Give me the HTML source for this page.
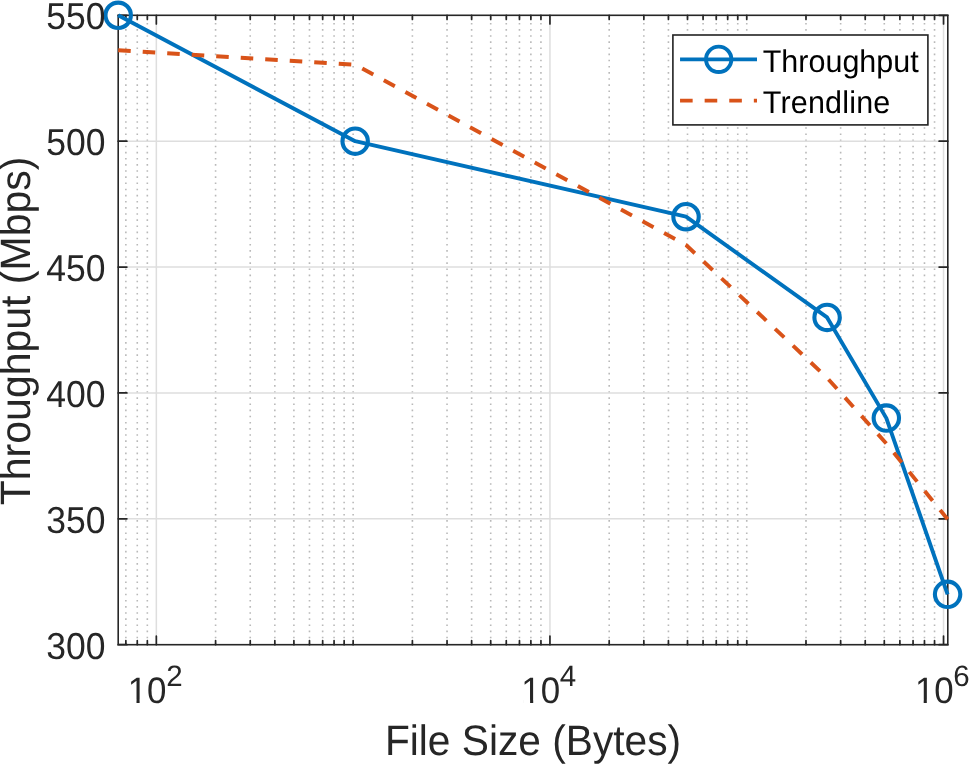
<!DOCTYPE html>
<html><head><meta charset="utf-8"><style>html,body{margin:0;padding:0;background:#fff;overflow:hidden}svg{display:block}text{text-rendering:geometricPrecision}</style></head>
<body>
<svg width="969" height="764" viewBox="0 0 969 764">
<rect width="969" height="764" fill="#fff"/>
<path d="M125.06 642.86h1.6v1.6h-1.6zM125.06 636.72h1.6v1.6h-1.6zM125.06 630.58h1.6v1.6h-1.6zM125.06 624.45h1.6v1.6h-1.6zM125.06 618.31h1.6v1.6h-1.6zM125.06 612.17h1.6v1.6h-1.6zM125.06 606.03h1.6v1.6h-1.6zM125.06 599.89h1.6v1.6h-1.6zM125.06 593.76h1.6v1.6h-1.6zM125.06 587.62h1.6v1.6h-1.6zM125.06 581.48h1.6v1.6h-1.6zM125.06 575.34h1.6v1.6h-1.6zM125.06 569.20h1.6v1.6h-1.6zM125.06 563.07h1.6v1.6h-1.6zM125.06 556.93h1.6v1.6h-1.6zM125.06 550.79h1.6v1.6h-1.6zM125.06 544.65h1.6v1.6h-1.6zM125.06 538.51h1.6v1.6h-1.6zM125.06 532.38h1.6v1.6h-1.6zM125.06 526.24h1.6v1.6h-1.6zM125.06 520.10h1.6v1.6h-1.6zM125.06 513.96h1.6v1.6h-1.6zM125.06 507.82h1.6v1.6h-1.6zM125.06 501.69h1.6v1.6h-1.6zM125.06 495.55h1.6v1.6h-1.6zM125.06 489.41h1.6v1.6h-1.6zM125.06 483.27h1.6v1.6h-1.6zM125.06 477.13h1.6v1.6h-1.6zM125.06 471.00h1.6v1.6h-1.6zM125.06 464.86h1.6v1.6h-1.6zM125.06 458.72h1.6v1.6h-1.6zM125.06 452.58h1.6v1.6h-1.6zM125.06 446.44h1.6v1.6h-1.6zM125.06 440.31h1.6v1.6h-1.6zM125.06 434.17h1.6v1.6h-1.6zM125.06 428.03h1.6v1.6h-1.6zM125.06 421.89h1.6v1.6h-1.6zM125.06 415.75h1.6v1.6h-1.6zM125.06 409.62h1.6v1.6h-1.6zM125.06 403.48h1.6v1.6h-1.6zM125.06 397.34h1.6v1.6h-1.6zM125.06 391.20h1.6v1.6h-1.6zM125.06 385.06h1.6v1.6h-1.6zM125.06 378.93h1.6v1.6h-1.6zM125.06 372.79h1.6v1.6h-1.6zM125.06 366.65h1.6v1.6h-1.6zM125.06 360.51h1.6v1.6h-1.6zM125.06 354.37h1.6v1.6h-1.6zM125.06 348.24h1.6v1.6h-1.6zM125.06 342.10h1.6v1.6h-1.6zM125.06 335.96h1.6v1.6h-1.6zM125.06 329.82h1.6v1.6h-1.6zM125.06 323.68h1.6v1.6h-1.6zM125.06 317.55h1.6v1.6h-1.6zM125.06 311.41h1.6v1.6h-1.6zM125.06 305.27h1.6v1.6h-1.6zM125.06 299.13h1.6v1.6h-1.6zM125.06 292.99h1.6v1.6h-1.6zM125.06 286.86h1.6v1.6h-1.6zM125.06 280.72h1.6v1.6h-1.6zM125.06 274.58h1.6v1.6h-1.6zM125.06 268.44h1.6v1.6h-1.6zM125.06 262.30h1.6v1.6h-1.6zM125.06 256.17h1.6v1.6h-1.6zM125.06 250.03h1.6v1.6h-1.6zM125.06 243.89h1.6v1.6h-1.6zM125.06 237.75h1.6v1.6h-1.6zM125.06 231.61h1.6v1.6h-1.6zM125.06 225.48h1.6v1.6h-1.6zM125.06 219.34h1.6v1.6h-1.6zM125.06 213.20h1.6v1.6h-1.6zM125.06 207.06h1.6v1.6h-1.6zM125.06 200.92h1.6v1.6h-1.6zM125.06 194.79h1.6v1.6h-1.6zM125.06 188.65h1.6v1.6h-1.6zM125.06 182.51h1.6v1.6h-1.6zM125.06 176.37h1.6v1.6h-1.6zM125.06 170.23h1.6v1.6h-1.6zM125.06 164.10h1.6v1.6h-1.6zM125.06 157.96h1.6v1.6h-1.6zM125.06 151.82h1.6v1.6h-1.6zM125.06 145.68h1.6v1.6h-1.6zM125.06 139.54h1.6v1.6h-1.6zM125.06 133.41h1.6v1.6h-1.6zM125.06 127.27h1.6v1.6h-1.6zM125.06 121.13h1.6v1.6h-1.6zM125.06 114.99h1.6v1.6h-1.6zM125.06 108.85h1.6v1.6h-1.6zM125.06 102.72h1.6v1.6h-1.6zM125.06 96.58h1.6v1.6h-1.6zM125.06 90.44h1.6v1.6h-1.6zM125.06 84.30h1.6v1.6h-1.6zM125.06 78.16h1.6v1.6h-1.6zM125.06 72.03h1.6v1.6h-1.6zM125.06 65.89h1.6v1.6h-1.6zM125.06 59.75h1.6v1.6h-1.6zM125.06 53.61h1.6v1.6h-1.6zM125.06 47.47h1.6v1.6h-1.6zM125.06 41.34h1.6v1.6h-1.6zM125.06 35.20h1.6v1.6h-1.6zM125.06 29.06h1.6v1.6h-1.6zM125.06 22.92h1.6v1.6h-1.6zM125.06 16.78h1.6v1.6h-1.6zM136.47 642.86h1.6v1.6h-1.6zM136.47 636.72h1.6v1.6h-1.6zM136.47 630.58h1.6v1.6h-1.6zM136.47 624.45h1.6v1.6h-1.6zM136.47 618.31h1.6v1.6h-1.6zM136.47 612.17h1.6v1.6h-1.6zM136.47 606.03h1.6v1.6h-1.6zM136.47 599.89h1.6v1.6h-1.6zM136.47 593.76h1.6v1.6h-1.6zM136.47 587.62h1.6v1.6h-1.6zM136.47 581.48h1.6v1.6h-1.6zM136.47 575.34h1.6v1.6h-1.6zM136.47 569.20h1.6v1.6h-1.6zM136.47 563.07h1.6v1.6h-1.6zM136.47 556.93h1.6v1.6h-1.6zM136.47 550.79h1.6v1.6h-1.6zM136.47 544.65h1.6v1.6h-1.6zM136.47 538.51h1.6v1.6h-1.6zM136.47 532.38h1.6v1.6h-1.6zM136.47 526.24h1.6v1.6h-1.6zM136.47 520.10h1.6v1.6h-1.6zM136.47 513.96h1.6v1.6h-1.6zM136.47 507.82h1.6v1.6h-1.6zM136.47 501.69h1.6v1.6h-1.6zM136.47 495.55h1.6v1.6h-1.6zM136.47 489.41h1.6v1.6h-1.6zM136.47 483.27h1.6v1.6h-1.6zM136.47 477.13h1.6v1.6h-1.6zM136.47 471.00h1.6v1.6h-1.6zM136.47 464.86h1.6v1.6h-1.6zM136.47 458.72h1.6v1.6h-1.6zM136.47 452.58h1.6v1.6h-1.6zM136.47 446.44h1.6v1.6h-1.6zM136.47 440.31h1.6v1.6h-1.6zM136.47 434.17h1.6v1.6h-1.6zM136.47 428.03h1.6v1.6h-1.6zM136.47 421.89h1.6v1.6h-1.6zM136.47 415.75h1.6v1.6h-1.6zM136.47 409.62h1.6v1.6h-1.6zM136.47 403.48h1.6v1.6h-1.6zM136.47 397.34h1.6v1.6h-1.6zM136.47 391.20h1.6v1.6h-1.6zM136.47 385.06h1.6v1.6h-1.6zM136.47 378.93h1.6v1.6h-1.6zM136.47 372.79h1.6v1.6h-1.6zM136.47 366.65h1.6v1.6h-1.6zM136.47 360.51h1.6v1.6h-1.6zM136.47 354.37h1.6v1.6h-1.6zM136.47 348.24h1.6v1.6h-1.6zM136.47 342.10h1.6v1.6h-1.6zM136.47 335.96h1.6v1.6h-1.6zM136.47 329.82h1.6v1.6h-1.6zM136.47 323.68h1.6v1.6h-1.6zM136.47 317.55h1.6v1.6h-1.6zM136.47 311.41h1.6v1.6h-1.6zM136.47 305.27h1.6v1.6h-1.6zM136.47 299.13h1.6v1.6h-1.6zM136.47 292.99h1.6v1.6h-1.6zM136.47 286.86h1.6v1.6h-1.6zM136.47 280.72h1.6v1.6h-1.6zM136.47 274.58h1.6v1.6h-1.6zM136.47 268.44h1.6v1.6h-1.6zM136.47 262.30h1.6v1.6h-1.6zM136.47 256.17h1.6v1.6h-1.6zM136.47 250.03h1.6v1.6h-1.6zM136.47 243.89h1.6v1.6h-1.6zM136.47 237.75h1.6v1.6h-1.6zM136.47 231.61h1.6v1.6h-1.6zM136.47 225.48h1.6v1.6h-1.6zM136.47 219.34h1.6v1.6h-1.6zM136.47 213.20h1.6v1.6h-1.6zM136.47 207.06h1.6v1.6h-1.6zM136.47 200.92h1.6v1.6h-1.6zM136.47 194.79h1.6v1.6h-1.6zM136.47 188.65h1.6v1.6h-1.6zM136.47 182.51h1.6v1.6h-1.6zM136.47 176.37h1.6v1.6h-1.6zM136.47 170.23h1.6v1.6h-1.6zM136.47 164.10h1.6v1.6h-1.6zM136.47 157.96h1.6v1.6h-1.6zM136.47 151.82h1.6v1.6h-1.6zM136.47 145.68h1.6v1.6h-1.6zM136.47 139.54h1.6v1.6h-1.6zM136.47 133.41h1.6v1.6h-1.6zM136.47 127.27h1.6v1.6h-1.6zM136.47 121.13h1.6v1.6h-1.6zM136.47 114.99h1.6v1.6h-1.6zM136.47 108.85h1.6v1.6h-1.6zM136.47 102.72h1.6v1.6h-1.6zM136.47 96.58h1.6v1.6h-1.6zM136.47 90.44h1.6v1.6h-1.6zM136.47 84.30h1.6v1.6h-1.6zM136.47 78.16h1.6v1.6h-1.6zM136.47 72.03h1.6v1.6h-1.6zM136.47 65.89h1.6v1.6h-1.6zM136.47 59.75h1.6v1.6h-1.6zM136.47 53.61h1.6v1.6h-1.6zM136.47 47.47h1.6v1.6h-1.6zM136.47 41.34h1.6v1.6h-1.6zM136.47 35.20h1.6v1.6h-1.6zM136.47 29.06h1.6v1.6h-1.6zM136.47 22.92h1.6v1.6h-1.6zM136.47 16.78h1.6v1.6h-1.6zM146.54 642.86h1.6v1.6h-1.6zM146.54 636.72h1.6v1.6h-1.6zM146.54 630.58h1.6v1.6h-1.6zM146.54 624.45h1.6v1.6h-1.6zM146.54 618.31h1.6v1.6h-1.6zM146.54 612.17h1.6v1.6h-1.6zM146.54 606.03h1.6v1.6h-1.6zM146.54 599.89h1.6v1.6h-1.6zM146.54 593.76h1.6v1.6h-1.6zM146.54 587.62h1.6v1.6h-1.6zM146.54 581.48h1.6v1.6h-1.6zM146.54 575.34h1.6v1.6h-1.6zM146.54 569.20h1.6v1.6h-1.6zM146.54 563.07h1.6v1.6h-1.6zM146.54 556.93h1.6v1.6h-1.6zM146.54 550.79h1.6v1.6h-1.6zM146.54 544.65h1.6v1.6h-1.6zM146.54 538.51h1.6v1.6h-1.6zM146.54 532.38h1.6v1.6h-1.6zM146.54 526.24h1.6v1.6h-1.6zM146.54 520.10h1.6v1.6h-1.6zM146.54 513.96h1.6v1.6h-1.6zM146.54 507.82h1.6v1.6h-1.6zM146.54 501.69h1.6v1.6h-1.6zM146.54 495.55h1.6v1.6h-1.6zM146.54 489.41h1.6v1.6h-1.6zM146.54 483.27h1.6v1.6h-1.6zM146.54 477.13h1.6v1.6h-1.6zM146.54 471.00h1.6v1.6h-1.6zM146.54 464.86h1.6v1.6h-1.6zM146.54 458.72h1.6v1.6h-1.6zM146.54 452.58h1.6v1.6h-1.6zM146.54 446.44h1.6v1.6h-1.6zM146.54 440.31h1.6v1.6h-1.6zM146.54 434.17h1.6v1.6h-1.6zM146.54 428.03h1.6v1.6h-1.6zM146.54 421.89h1.6v1.6h-1.6zM146.54 415.75h1.6v1.6h-1.6zM146.54 409.62h1.6v1.6h-1.6zM146.54 403.48h1.6v1.6h-1.6zM146.54 397.34h1.6v1.6h-1.6zM146.54 391.20h1.6v1.6h-1.6zM146.54 385.06h1.6v1.6h-1.6zM146.54 378.93h1.6v1.6h-1.6zM146.54 372.79h1.6v1.6h-1.6zM146.54 366.65h1.6v1.6h-1.6zM146.54 360.51h1.6v1.6h-1.6zM146.54 354.37h1.6v1.6h-1.6zM146.54 348.24h1.6v1.6h-1.6zM146.54 342.10h1.6v1.6h-1.6zM146.54 335.96h1.6v1.6h-1.6zM146.54 329.82h1.6v1.6h-1.6zM146.54 323.68h1.6v1.6h-1.6zM146.54 317.55h1.6v1.6h-1.6zM146.54 311.41h1.6v1.6h-1.6zM146.54 305.27h1.6v1.6h-1.6zM146.54 299.13h1.6v1.6h-1.6zM146.54 292.99h1.6v1.6h-1.6zM146.54 286.86h1.6v1.6h-1.6zM146.54 280.72h1.6v1.6h-1.6zM146.54 274.58h1.6v1.6h-1.6zM146.54 268.44h1.6v1.6h-1.6zM146.54 262.30h1.6v1.6h-1.6zM146.54 256.17h1.6v1.6h-1.6zM146.54 250.03h1.6v1.6h-1.6zM146.54 243.89h1.6v1.6h-1.6zM146.54 237.75h1.6v1.6h-1.6zM146.54 231.61h1.6v1.6h-1.6zM146.54 225.48h1.6v1.6h-1.6zM146.54 219.34h1.6v1.6h-1.6zM146.54 213.20h1.6v1.6h-1.6zM146.54 207.06h1.6v1.6h-1.6zM146.54 200.92h1.6v1.6h-1.6zM146.54 194.79h1.6v1.6h-1.6zM146.54 188.65h1.6v1.6h-1.6zM146.54 182.51h1.6v1.6h-1.6zM146.54 176.37h1.6v1.6h-1.6zM146.54 170.23h1.6v1.6h-1.6zM146.54 164.10h1.6v1.6h-1.6zM146.54 157.96h1.6v1.6h-1.6zM146.54 151.82h1.6v1.6h-1.6zM146.54 145.68h1.6v1.6h-1.6zM146.54 139.54h1.6v1.6h-1.6zM146.54 133.41h1.6v1.6h-1.6zM146.54 127.27h1.6v1.6h-1.6zM146.54 121.13h1.6v1.6h-1.6zM146.54 114.99h1.6v1.6h-1.6zM146.54 108.85h1.6v1.6h-1.6zM146.54 102.72h1.6v1.6h-1.6zM146.54 96.58h1.6v1.6h-1.6zM146.54 90.44h1.6v1.6h-1.6zM146.54 84.30h1.6v1.6h-1.6zM146.54 78.16h1.6v1.6h-1.6zM146.54 72.03h1.6v1.6h-1.6zM146.54 65.89h1.6v1.6h-1.6zM146.54 59.75h1.6v1.6h-1.6zM146.54 53.61h1.6v1.6h-1.6zM146.54 47.47h1.6v1.6h-1.6zM146.54 41.34h1.6v1.6h-1.6zM146.54 35.20h1.6v1.6h-1.6zM146.54 29.06h1.6v1.6h-1.6zM146.54 22.92h1.6v1.6h-1.6zM146.54 16.78h1.6v1.6h-1.6zM214.79 642.86h1.6v1.6h-1.6zM214.79 636.72h1.6v1.6h-1.6zM214.79 630.58h1.6v1.6h-1.6zM214.79 624.45h1.6v1.6h-1.6zM214.79 618.31h1.6v1.6h-1.6zM214.79 612.17h1.6v1.6h-1.6zM214.79 606.03h1.6v1.6h-1.6zM214.79 599.89h1.6v1.6h-1.6zM214.79 593.76h1.6v1.6h-1.6zM214.79 587.62h1.6v1.6h-1.6zM214.79 581.48h1.6v1.6h-1.6zM214.79 575.34h1.6v1.6h-1.6zM214.79 569.20h1.6v1.6h-1.6zM214.79 563.07h1.6v1.6h-1.6zM214.79 556.93h1.6v1.6h-1.6zM214.79 550.79h1.6v1.6h-1.6zM214.79 544.65h1.6v1.6h-1.6zM214.79 538.51h1.6v1.6h-1.6zM214.79 532.38h1.6v1.6h-1.6zM214.79 526.24h1.6v1.6h-1.6zM214.79 520.10h1.6v1.6h-1.6zM214.79 513.96h1.6v1.6h-1.6zM214.79 507.82h1.6v1.6h-1.6zM214.79 501.69h1.6v1.6h-1.6zM214.79 495.55h1.6v1.6h-1.6zM214.79 489.41h1.6v1.6h-1.6zM214.79 483.27h1.6v1.6h-1.6zM214.79 477.13h1.6v1.6h-1.6zM214.79 471.00h1.6v1.6h-1.6zM214.79 464.86h1.6v1.6h-1.6zM214.79 458.72h1.6v1.6h-1.6zM214.79 452.58h1.6v1.6h-1.6zM214.79 446.44h1.6v1.6h-1.6zM214.79 440.31h1.6v1.6h-1.6zM214.79 434.17h1.6v1.6h-1.6zM214.79 428.03h1.6v1.6h-1.6zM214.79 421.89h1.6v1.6h-1.6zM214.79 415.75h1.6v1.6h-1.6zM214.79 409.62h1.6v1.6h-1.6zM214.79 403.48h1.6v1.6h-1.6zM214.79 397.34h1.6v1.6h-1.6zM214.79 391.20h1.6v1.6h-1.6zM214.79 385.06h1.6v1.6h-1.6zM214.79 378.93h1.6v1.6h-1.6zM214.79 372.79h1.6v1.6h-1.6zM214.79 366.65h1.6v1.6h-1.6zM214.79 360.51h1.6v1.6h-1.6zM214.79 354.37h1.6v1.6h-1.6zM214.79 348.24h1.6v1.6h-1.6zM214.79 342.10h1.6v1.6h-1.6zM214.79 335.96h1.6v1.6h-1.6zM214.79 329.82h1.6v1.6h-1.6zM214.79 323.68h1.6v1.6h-1.6zM214.79 317.55h1.6v1.6h-1.6zM214.79 311.41h1.6v1.6h-1.6zM214.79 305.27h1.6v1.6h-1.6zM214.79 299.13h1.6v1.6h-1.6zM214.79 292.99h1.6v1.6h-1.6zM214.79 286.86h1.6v1.6h-1.6zM214.79 280.72h1.6v1.6h-1.6zM214.79 274.58h1.6v1.6h-1.6zM214.79 268.44h1.6v1.6h-1.6zM214.79 262.30h1.6v1.6h-1.6zM214.79 256.17h1.6v1.6h-1.6zM214.79 250.03h1.6v1.6h-1.6zM214.79 243.89h1.6v1.6h-1.6zM214.79 237.75h1.6v1.6h-1.6zM214.79 231.61h1.6v1.6h-1.6zM214.79 225.48h1.6v1.6h-1.6zM214.79 219.34h1.6v1.6h-1.6zM214.79 213.20h1.6v1.6h-1.6zM214.79 207.06h1.6v1.6h-1.6zM214.79 200.92h1.6v1.6h-1.6zM214.79 194.79h1.6v1.6h-1.6zM214.79 188.65h1.6v1.6h-1.6zM214.79 182.51h1.6v1.6h-1.6zM214.79 176.37h1.6v1.6h-1.6zM214.79 170.23h1.6v1.6h-1.6zM214.79 164.10h1.6v1.6h-1.6zM214.79 157.96h1.6v1.6h-1.6zM214.79 151.82h1.6v1.6h-1.6zM214.79 145.68h1.6v1.6h-1.6zM214.79 139.54h1.6v1.6h-1.6zM214.79 133.41h1.6v1.6h-1.6zM214.79 127.27h1.6v1.6h-1.6zM214.79 121.13h1.6v1.6h-1.6zM214.79 114.99h1.6v1.6h-1.6zM214.79 108.85h1.6v1.6h-1.6zM214.79 102.72h1.6v1.6h-1.6zM214.79 96.58h1.6v1.6h-1.6zM214.79 90.44h1.6v1.6h-1.6zM214.79 84.30h1.6v1.6h-1.6zM214.79 78.16h1.6v1.6h-1.6zM214.79 72.03h1.6v1.6h-1.6zM214.79 65.89h1.6v1.6h-1.6zM214.79 59.75h1.6v1.6h-1.6zM214.79 53.61h1.6v1.6h-1.6zM214.79 47.47h1.6v1.6h-1.6zM214.79 41.34h1.6v1.6h-1.6zM214.79 35.20h1.6v1.6h-1.6zM214.79 29.06h1.6v1.6h-1.6zM214.79 22.92h1.6v1.6h-1.6zM214.79 16.78h1.6v1.6h-1.6zM249.44 642.86h1.6v1.6h-1.6zM249.44 636.72h1.6v1.6h-1.6zM249.44 630.58h1.6v1.6h-1.6zM249.44 624.45h1.6v1.6h-1.6zM249.44 618.31h1.6v1.6h-1.6zM249.44 612.17h1.6v1.6h-1.6zM249.44 606.03h1.6v1.6h-1.6zM249.44 599.89h1.6v1.6h-1.6zM249.44 593.76h1.6v1.6h-1.6zM249.44 587.62h1.6v1.6h-1.6zM249.44 581.48h1.6v1.6h-1.6zM249.44 575.34h1.6v1.6h-1.6zM249.44 569.20h1.6v1.6h-1.6zM249.44 563.07h1.6v1.6h-1.6zM249.44 556.93h1.6v1.6h-1.6zM249.44 550.79h1.6v1.6h-1.6zM249.44 544.65h1.6v1.6h-1.6zM249.44 538.51h1.6v1.6h-1.6zM249.44 532.38h1.6v1.6h-1.6zM249.44 526.24h1.6v1.6h-1.6zM249.44 520.10h1.6v1.6h-1.6zM249.44 513.96h1.6v1.6h-1.6zM249.44 507.82h1.6v1.6h-1.6zM249.44 501.69h1.6v1.6h-1.6zM249.44 495.55h1.6v1.6h-1.6zM249.44 489.41h1.6v1.6h-1.6zM249.44 483.27h1.6v1.6h-1.6zM249.44 477.13h1.6v1.6h-1.6zM249.44 471.00h1.6v1.6h-1.6zM249.44 464.86h1.6v1.6h-1.6zM249.44 458.72h1.6v1.6h-1.6zM249.44 452.58h1.6v1.6h-1.6zM249.44 446.44h1.6v1.6h-1.6zM249.44 440.31h1.6v1.6h-1.6zM249.44 434.17h1.6v1.6h-1.6zM249.44 428.03h1.6v1.6h-1.6zM249.44 421.89h1.6v1.6h-1.6zM249.44 415.75h1.6v1.6h-1.6zM249.44 409.62h1.6v1.6h-1.6zM249.44 403.48h1.6v1.6h-1.6zM249.44 397.34h1.6v1.6h-1.6zM249.44 391.20h1.6v1.6h-1.6zM249.44 385.06h1.6v1.6h-1.6zM249.44 378.93h1.6v1.6h-1.6zM249.44 372.79h1.6v1.6h-1.6zM249.44 366.65h1.6v1.6h-1.6zM249.44 360.51h1.6v1.6h-1.6zM249.44 354.37h1.6v1.6h-1.6zM249.44 348.24h1.6v1.6h-1.6zM249.44 342.10h1.6v1.6h-1.6zM249.44 335.96h1.6v1.6h-1.6zM249.44 329.82h1.6v1.6h-1.6zM249.44 323.68h1.6v1.6h-1.6zM249.44 317.55h1.6v1.6h-1.6zM249.44 311.41h1.6v1.6h-1.6zM249.44 305.27h1.6v1.6h-1.6zM249.44 299.13h1.6v1.6h-1.6zM249.44 292.99h1.6v1.6h-1.6zM249.44 286.86h1.6v1.6h-1.6zM249.44 280.72h1.6v1.6h-1.6zM249.44 274.58h1.6v1.6h-1.6zM249.44 268.44h1.6v1.6h-1.6zM249.44 262.30h1.6v1.6h-1.6zM249.44 256.17h1.6v1.6h-1.6zM249.44 250.03h1.6v1.6h-1.6zM249.44 243.89h1.6v1.6h-1.6zM249.44 237.75h1.6v1.6h-1.6zM249.44 231.61h1.6v1.6h-1.6zM249.44 225.48h1.6v1.6h-1.6zM249.44 219.34h1.6v1.6h-1.6zM249.44 213.20h1.6v1.6h-1.6zM249.44 207.06h1.6v1.6h-1.6zM249.44 200.92h1.6v1.6h-1.6zM249.44 194.79h1.6v1.6h-1.6zM249.44 188.65h1.6v1.6h-1.6zM249.44 182.51h1.6v1.6h-1.6zM249.44 176.37h1.6v1.6h-1.6zM249.44 170.23h1.6v1.6h-1.6zM249.44 164.10h1.6v1.6h-1.6zM249.44 157.96h1.6v1.6h-1.6zM249.44 151.82h1.6v1.6h-1.6zM249.44 145.68h1.6v1.6h-1.6zM249.44 139.54h1.6v1.6h-1.6zM249.44 133.41h1.6v1.6h-1.6zM249.44 127.27h1.6v1.6h-1.6zM249.44 121.13h1.6v1.6h-1.6zM249.44 114.99h1.6v1.6h-1.6zM249.44 108.85h1.6v1.6h-1.6zM249.44 102.72h1.6v1.6h-1.6zM249.44 96.58h1.6v1.6h-1.6zM249.44 90.44h1.6v1.6h-1.6zM249.44 84.30h1.6v1.6h-1.6zM249.44 78.16h1.6v1.6h-1.6zM249.44 72.03h1.6v1.6h-1.6zM249.44 65.89h1.6v1.6h-1.6zM249.44 59.75h1.6v1.6h-1.6zM249.44 53.61h1.6v1.6h-1.6zM249.44 47.47h1.6v1.6h-1.6zM249.44 41.34h1.6v1.6h-1.6zM249.44 35.20h1.6v1.6h-1.6zM249.44 29.06h1.6v1.6h-1.6zM249.44 22.92h1.6v1.6h-1.6zM249.44 16.78h1.6v1.6h-1.6zM274.03 642.86h1.6v1.6h-1.6zM274.03 636.72h1.6v1.6h-1.6zM274.03 630.58h1.6v1.6h-1.6zM274.03 624.45h1.6v1.6h-1.6zM274.03 618.31h1.6v1.6h-1.6zM274.03 612.17h1.6v1.6h-1.6zM274.03 606.03h1.6v1.6h-1.6zM274.03 599.89h1.6v1.6h-1.6zM274.03 593.76h1.6v1.6h-1.6zM274.03 587.62h1.6v1.6h-1.6zM274.03 581.48h1.6v1.6h-1.6zM274.03 575.34h1.6v1.6h-1.6zM274.03 569.20h1.6v1.6h-1.6zM274.03 563.07h1.6v1.6h-1.6zM274.03 556.93h1.6v1.6h-1.6zM274.03 550.79h1.6v1.6h-1.6zM274.03 544.65h1.6v1.6h-1.6zM274.03 538.51h1.6v1.6h-1.6zM274.03 532.38h1.6v1.6h-1.6zM274.03 526.24h1.6v1.6h-1.6zM274.03 520.10h1.6v1.6h-1.6zM274.03 513.96h1.6v1.6h-1.6zM274.03 507.82h1.6v1.6h-1.6zM274.03 501.69h1.6v1.6h-1.6zM274.03 495.55h1.6v1.6h-1.6zM274.03 489.41h1.6v1.6h-1.6zM274.03 483.27h1.6v1.6h-1.6zM274.03 477.13h1.6v1.6h-1.6zM274.03 471.00h1.6v1.6h-1.6zM274.03 464.86h1.6v1.6h-1.6zM274.03 458.72h1.6v1.6h-1.6zM274.03 452.58h1.6v1.6h-1.6zM274.03 446.44h1.6v1.6h-1.6zM274.03 440.31h1.6v1.6h-1.6zM274.03 434.17h1.6v1.6h-1.6zM274.03 428.03h1.6v1.6h-1.6zM274.03 421.89h1.6v1.6h-1.6zM274.03 415.75h1.6v1.6h-1.6zM274.03 409.62h1.6v1.6h-1.6zM274.03 403.48h1.6v1.6h-1.6zM274.03 397.34h1.6v1.6h-1.6zM274.03 391.20h1.6v1.6h-1.6zM274.03 385.06h1.6v1.6h-1.6zM274.03 378.93h1.6v1.6h-1.6zM274.03 372.79h1.6v1.6h-1.6zM274.03 366.65h1.6v1.6h-1.6zM274.03 360.51h1.6v1.6h-1.6zM274.03 354.37h1.6v1.6h-1.6zM274.03 348.24h1.6v1.6h-1.6zM274.03 342.10h1.6v1.6h-1.6zM274.03 335.96h1.6v1.6h-1.6zM274.03 329.82h1.6v1.6h-1.6zM274.03 323.68h1.6v1.6h-1.6zM274.03 317.55h1.6v1.6h-1.6zM274.03 311.41h1.6v1.6h-1.6zM274.03 305.27h1.6v1.6h-1.6zM274.03 299.13h1.6v1.6h-1.6zM274.03 292.99h1.6v1.6h-1.6zM274.03 286.86h1.6v1.6h-1.6zM274.03 280.72h1.6v1.6h-1.6zM274.03 274.58h1.6v1.6h-1.6zM274.03 268.44h1.6v1.6h-1.6zM274.03 262.30h1.6v1.6h-1.6zM274.03 256.17h1.6v1.6h-1.6zM274.03 250.03h1.6v1.6h-1.6zM274.03 243.89h1.6v1.6h-1.6zM274.03 237.75h1.6v1.6h-1.6zM274.03 231.61h1.6v1.6h-1.6zM274.03 225.48h1.6v1.6h-1.6zM274.03 219.34h1.6v1.6h-1.6zM274.03 213.20h1.6v1.6h-1.6zM274.03 207.06h1.6v1.6h-1.6zM274.03 200.92h1.6v1.6h-1.6zM274.03 194.79h1.6v1.6h-1.6zM274.03 188.65h1.6v1.6h-1.6zM274.03 182.51h1.6v1.6h-1.6zM274.03 176.37h1.6v1.6h-1.6zM274.03 170.23h1.6v1.6h-1.6zM274.03 164.10h1.6v1.6h-1.6zM274.03 157.96h1.6v1.6h-1.6zM274.03 151.82h1.6v1.6h-1.6zM274.03 145.68h1.6v1.6h-1.6zM274.03 139.54h1.6v1.6h-1.6zM274.03 133.41h1.6v1.6h-1.6zM274.03 127.27h1.6v1.6h-1.6zM274.03 121.13h1.6v1.6h-1.6zM274.03 114.99h1.6v1.6h-1.6zM274.03 108.85h1.6v1.6h-1.6zM274.03 102.72h1.6v1.6h-1.6zM274.03 96.58h1.6v1.6h-1.6zM274.03 90.44h1.6v1.6h-1.6zM274.03 84.30h1.6v1.6h-1.6zM274.03 78.16h1.6v1.6h-1.6zM274.03 72.03h1.6v1.6h-1.6zM274.03 65.89h1.6v1.6h-1.6zM274.03 59.75h1.6v1.6h-1.6zM274.03 53.61h1.6v1.6h-1.6zM274.03 47.47h1.6v1.6h-1.6zM274.03 41.34h1.6v1.6h-1.6zM274.03 35.20h1.6v1.6h-1.6zM274.03 29.06h1.6v1.6h-1.6zM274.03 22.92h1.6v1.6h-1.6zM274.03 16.78h1.6v1.6h-1.6zM293.10 642.86h1.6v1.6h-1.6zM293.10 636.72h1.6v1.6h-1.6zM293.10 630.58h1.6v1.6h-1.6zM293.10 624.45h1.6v1.6h-1.6zM293.10 618.31h1.6v1.6h-1.6zM293.10 612.17h1.6v1.6h-1.6zM293.10 606.03h1.6v1.6h-1.6zM293.10 599.89h1.6v1.6h-1.6zM293.10 593.76h1.6v1.6h-1.6zM293.10 587.62h1.6v1.6h-1.6zM293.10 581.48h1.6v1.6h-1.6zM293.10 575.34h1.6v1.6h-1.6zM293.10 569.20h1.6v1.6h-1.6zM293.10 563.07h1.6v1.6h-1.6zM293.10 556.93h1.6v1.6h-1.6zM293.10 550.79h1.6v1.6h-1.6zM293.10 544.65h1.6v1.6h-1.6zM293.10 538.51h1.6v1.6h-1.6zM293.10 532.38h1.6v1.6h-1.6zM293.10 526.24h1.6v1.6h-1.6zM293.10 520.10h1.6v1.6h-1.6zM293.10 513.96h1.6v1.6h-1.6zM293.10 507.82h1.6v1.6h-1.6zM293.10 501.69h1.6v1.6h-1.6zM293.10 495.55h1.6v1.6h-1.6zM293.10 489.41h1.6v1.6h-1.6zM293.10 483.27h1.6v1.6h-1.6zM293.10 477.13h1.6v1.6h-1.6zM293.10 471.00h1.6v1.6h-1.6zM293.10 464.86h1.6v1.6h-1.6zM293.10 458.72h1.6v1.6h-1.6zM293.10 452.58h1.6v1.6h-1.6zM293.10 446.44h1.6v1.6h-1.6zM293.10 440.31h1.6v1.6h-1.6zM293.10 434.17h1.6v1.6h-1.6zM293.10 428.03h1.6v1.6h-1.6zM293.10 421.89h1.6v1.6h-1.6zM293.10 415.75h1.6v1.6h-1.6zM293.10 409.62h1.6v1.6h-1.6zM293.10 403.48h1.6v1.6h-1.6zM293.10 397.34h1.6v1.6h-1.6zM293.10 391.20h1.6v1.6h-1.6zM293.10 385.06h1.6v1.6h-1.6zM293.10 378.93h1.6v1.6h-1.6zM293.10 372.79h1.6v1.6h-1.6zM293.10 366.65h1.6v1.6h-1.6zM293.10 360.51h1.6v1.6h-1.6zM293.10 354.37h1.6v1.6h-1.6zM293.10 348.24h1.6v1.6h-1.6zM293.10 342.10h1.6v1.6h-1.6zM293.10 335.96h1.6v1.6h-1.6zM293.10 329.82h1.6v1.6h-1.6zM293.10 323.68h1.6v1.6h-1.6zM293.10 317.55h1.6v1.6h-1.6zM293.10 311.41h1.6v1.6h-1.6zM293.10 305.27h1.6v1.6h-1.6zM293.10 299.13h1.6v1.6h-1.6zM293.10 292.99h1.6v1.6h-1.6zM293.10 286.86h1.6v1.6h-1.6zM293.10 280.72h1.6v1.6h-1.6zM293.10 274.58h1.6v1.6h-1.6zM293.10 268.44h1.6v1.6h-1.6zM293.10 262.30h1.6v1.6h-1.6zM293.10 256.17h1.6v1.6h-1.6zM293.10 250.03h1.6v1.6h-1.6zM293.10 243.89h1.6v1.6h-1.6zM293.10 237.75h1.6v1.6h-1.6zM293.10 231.61h1.6v1.6h-1.6zM293.10 225.48h1.6v1.6h-1.6zM293.10 219.34h1.6v1.6h-1.6zM293.10 213.20h1.6v1.6h-1.6zM293.10 207.06h1.6v1.6h-1.6zM293.10 200.92h1.6v1.6h-1.6zM293.10 194.79h1.6v1.6h-1.6zM293.10 188.65h1.6v1.6h-1.6zM293.10 182.51h1.6v1.6h-1.6zM293.10 176.37h1.6v1.6h-1.6zM293.10 170.23h1.6v1.6h-1.6zM293.10 164.10h1.6v1.6h-1.6zM293.10 157.96h1.6v1.6h-1.6zM293.10 151.82h1.6v1.6h-1.6zM293.10 145.68h1.6v1.6h-1.6zM293.10 139.54h1.6v1.6h-1.6zM293.10 133.41h1.6v1.6h-1.6zM293.10 127.27h1.6v1.6h-1.6zM293.10 121.13h1.6v1.6h-1.6zM293.10 114.99h1.6v1.6h-1.6zM293.10 108.85h1.6v1.6h-1.6zM293.10 102.72h1.6v1.6h-1.6zM293.10 96.58h1.6v1.6h-1.6zM293.10 90.44h1.6v1.6h-1.6zM293.10 84.30h1.6v1.6h-1.6zM293.10 78.16h1.6v1.6h-1.6zM293.10 72.03h1.6v1.6h-1.6zM293.10 65.89h1.6v1.6h-1.6zM293.10 59.75h1.6v1.6h-1.6zM293.10 53.61h1.6v1.6h-1.6zM293.10 47.47h1.6v1.6h-1.6zM293.10 41.34h1.6v1.6h-1.6zM293.10 35.20h1.6v1.6h-1.6zM293.10 29.06h1.6v1.6h-1.6zM293.10 22.92h1.6v1.6h-1.6zM293.10 16.78h1.6v1.6h-1.6zM308.68 642.86h1.6v1.6h-1.6zM308.68 636.72h1.6v1.6h-1.6zM308.68 630.58h1.6v1.6h-1.6zM308.68 624.45h1.6v1.6h-1.6zM308.68 618.31h1.6v1.6h-1.6zM308.68 612.17h1.6v1.6h-1.6zM308.68 606.03h1.6v1.6h-1.6zM308.68 599.89h1.6v1.6h-1.6zM308.68 593.76h1.6v1.6h-1.6zM308.68 587.62h1.6v1.6h-1.6zM308.68 581.48h1.6v1.6h-1.6zM308.68 575.34h1.6v1.6h-1.6zM308.68 569.20h1.6v1.6h-1.6zM308.68 563.07h1.6v1.6h-1.6zM308.68 556.93h1.6v1.6h-1.6zM308.68 550.79h1.6v1.6h-1.6zM308.68 544.65h1.6v1.6h-1.6zM308.68 538.51h1.6v1.6h-1.6zM308.68 532.38h1.6v1.6h-1.6zM308.68 526.24h1.6v1.6h-1.6zM308.68 520.10h1.6v1.6h-1.6zM308.68 513.96h1.6v1.6h-1.6zM308.68 507.82h1.6v1.6h-1.6zM308.68 501.69h1.6v1.6h-1.6zM308.68 495.55h1.6v1.6h-1.6zM308.68 489.41h1.6v1.6h-1.6zM308.68 483.27h1.6v1.6h-1.6zM308.68 477.13h1.6v1.6h-1.6zM308.68 471.00h1.6v1.6h-1.6zM308.68 464.86h1.6v1.6h-1.6zM308.68 458.72h1.6v1.6h-1.6zM308.68 452.58h1.6v1.6h-1.6zM308.68 446.44h1.6v1.6h-1.6zM308.68 440.31h1.6v1.6h-1.6zM308.68 434.17h1.6v1.6h-1.6zM308.68 428.03h1.6v1.6h-1.6zM308.68 421.89h1.6v1.6h-1.6zM308.68 415.75h1.6v1.6h-1.6zM308.68 409.62h1.6v1.6h-1.6zM308.68 403.48h1.6v1.6h-1.6zM308.68 397.34h1.6v1.6h-1.6zM308.68 391.20h1.6v1.6h-1.6zM308.68 385.06h1.6v1.6h-1.6zM308.68 378.93h1.6v1.6h-1.6zM308.68 372.79h1.6v1.6h-1.6zM308.68 366.65h1.6v1.6h-1.6zM308.68 360.51h1.6v1.6h-1.6zM308.68 354.37h1.6v1.6h-1.6zM308.68 348.24h1.6v1.6h-1.6zM308.68 342.10h1.6v1.6h-1.6zM308.68 335.96h1.6v1.6h-1.6zM308.68 329.82h1.6v1.6h-1.6zM308.68 323.68h1.6v1.6h-1.6zM308.68 317.55h1.6v1.6h-1.6zM308.68 311.41h1.6v1.6h-1.6zM308.68 305.27h1.6v1.6h-1.6zM308.68 299.13h1.6v1.6h-1.6zM308.68 292.99h1.6v1.6h-1.6zM308.68 286.86h1.6v1.6h-1.6zM308.68 280.72h1.6v1.6h-1.6zM308.68 274.58h1.6v1.6h-1.6zM308.68 268.44h1.6v1.6h-1.6zM308.68 262.30h1.6v1.6h-1.6zM308.68 256.17h1.6v1.6h-1.6zM308.68 250.03h1.6v1.6h-1.6zM308.68 243.89h1.6v1.6h-1.6zM308.68 237.75h1.6v1.6h-1.6zM308.68 231.61h1.6v1.6h-1.6zM308.68 225.48h1.6v1.6h-1.6zM308.68 219.34h1.6v1.6h-1.6zM308.68 213.20h1.6v1.6h-1.6zM308.68 207.06h1.6v1.6h-1.6zM308.68 200.92h1.6v1.6h-1.6zM308.68 194.79h1.6v1.6h-1.6zM308.68 188.65h1.6v1.6h-1.6zM308.68 182.51h1.6v1.6h-1.6zM308.68 176.37h1.6v1.6h-1.6zM308.68 170.23h1.6v1.6h-1.6zM308.68 164.10h1.6v1.6h-1.6zM308.68 157.96h1.6v1.6h-1.6zM308.68 151.82h1.6v1.6h-1.6zM308.68 145.68h1.6v1.6h-1.6zM308.68 139.54h1.6v1.6h-1.6zM308.68 133.41h1.6v1.6h-1.6zM308.68 127.27h1.6v1.6h-1.6zM308.68 121.13h1.6v1.6h-1.6zM308.68 114.99h1.6v1.6h-1.6zM308.68 108.85h1.6v1.6h-1.6zM308.68 102.72h1.6v1.6h-1.6zM308.68 96.58h1.6v1.6h-1.6zM308.68 90.44h1.6v1.6h-1.6zM308.68 84.30h1.6v1.6h-1.6zM308.68 78.16h1.6v1.6h-1.6zM308.68 72.03h1.6v1.6h-1.6zM308.68 65.89h1.6v1.6h-1.6zM308.68 59.75h1.6v1.6h-1.6zM308.68 53.61h1.6v1.6h-1.6zM308.68 47.47h1.6v1.6h-1.6zM308.68 41.34h1.6v1.6h-1.6zM308.68 35.20h1.6v1.6h-1.6zM308.68 29.06h1.6v1.6h-1.6zM308.68 22.92h1.6v1.6h-1.6zM308.68 16.78h1.6v1.6h-1.6zM321.86 642.86h1.6v1.6h-1.6zM321.86 636.72h1.6v1.6h-1.6zM321.86 630.58h1.6v1.6h-1.6zM321.86 624.45h1.6v1.6h-1.6zM321.86 618.31h1.6v1.6h-1.6zM321.86 612.17h1.6v1.6h-1.6zM321.86 606.03h1.6v1.6h-1.6zM321.86 599.89h1.6v1.6h-1.6zM321.86 593.76h1.6v1.6h-1.6zM321.86 587.62h1.6v1.6h-1.6zM321.86 581.48h1.6v1.6h-1.6zM321.86 575.34h1.6v1.6h-1.6zM321.86 569.20h1.6v1.6h-1.6zM321.86 563.07h1.6v1.6h-1.6zM321.86 556.93h1.6v1.6h-1.6zM321.86 550.79h1.6v1.6h-1.6zM321.86 544.65h1.6v1.6h-1.6zM321.86 538.51h1.6v1.6h-1.6zM321.86 532.38h1.6v1.6h-1.6zM321.86 526.24h1.6v1.6h-1.6zM321.86 520.10h1.6v1.6h-1.6zM321.86 513.96h1.6v1.6h-1.6zM321.86 507.82h1.6v1.6h-1.6zM321.86 501.69h1.6v1.6h-1.6zM321.86 495.55h1.6v1.6h-1.6zM321.86 489.41h1.6v1.6h-1.6zM321.86 483.27h1.6v1.6h-1.6zM321.86 477.13h1.6v1.6h-1.6zM321.86 471.00h1.6v1.6h-1.6zM321.86 464.86h1.6v1.6h-1.6zM321.86 458.72h1.6v1.6h-1.6zM321.86 452.58h1.6v1.6h-1.6zM321.86 446.44h1.6v1.6h-1.6zM321.86 440.31h1.6v1.6h-1.6zM321.86 434.17h1.6v1.6h-1.6zM321.86 428.03h1.6v1.6h-1.6zM321.86 421.89h1.6v1.6h-1.6zM321.86 415.75h1.6v1.6h-1.6zM321.86 409.62h1.6v1.6h-1.6zM321.86 403.48h1.6v1.6h-1.6zM321.86 397.34h1.6v1.6h-1.6zM321.86 391.20h1.6v1.6h-1.6zM321.86 385.06h1.6v1.6h-1.6zM321.86 378.93h1.6v1.6h-1.6zM321.86 372.79h1.6v1.6h-1.6zM321.86 366.65h1.6v1.6h-1.6zM321.86 360.51h1.6v1.6h-1.6zM321.86 354.37h1.6v1.6h-1.6zM321.86 348.24h1.6v1.6h-1.6zM321.86 342.10h1.6v1.6h-1.6zM321.86 335.96h1.6v1.6h-1.6zM321.86 329.82h1.6v1.6h-1.6zM321.86 323.68h1.6v1.6h-1.6zM321.86 317.55h1.6v1.6h-1.6zM321.86 311.41h1.6v1.6h-1.6zM321.86 305.27h1.6v1.6h-1.6zM321.86 299.13h1.6v1.6h-1.6zM321.86 292.99h1.6v1.6h-1.6zM321.86 286.86h1.6v1.6h-1.6zM321.86 280.72h1.6v1.6h-1.6zM321.86 274.58h1.6v1.6h-1.6zM321.86 268.44h1.6v1.6h-1.6zM321.86 262.30h1.6v1.6h-1.6zM321.86 256.17h1.6v1.6h-1.6zM321.86 250.03h1.6v1.6h-1.6zM321.86 243.89h1.6v1.6h-1.6zM321.86 237.75h1.6v1.6h-1.6zM321.86 231.61h1.6v1.6h-1.6zM321.86 225.48h1.6v1.6h-1.6zM321.86 219.34h1.6v1.6h-1.6zM321.86 213.20h1.6v1.6h-1.6zM321.86 207.06h1.6v1.6h-1.6zM321.86 200.92h1.6v1.6h-1.6zM321.86 194.79h1.6v1.6h-1.6zM321.86 188.65h1.6v1.6h-1.6zM321.86 182.51h1.6v1.6h-1.6zM321.86 176.37h1.6v1.6h-1.6zM321.86 170.23h1.6v1.6h-1.6zM321.86 164.10h1.6v1.6h-1.6zM321.86 157.96h1.6v1.6h-1.6zM321.86 151.82h1.6v1.6h-1.6zM321.86 145.68h1.6v1.6h-1.6zM321.86 139.54h1.6v1.6h-1.6zM321.86 133.41h1.6v1.6h-1.6zM321.86 127.27h1.6v1.6h-1.6zM321.86 121.13h1.6v1.6h-1.6zM321.86 114.99h1.6v1.6h-1.6zM321.86 108.85h1.6v1.6h-1.6zM321.86 102.72h1.6v1.6h-1.6zM321.86 96.58h1.6v1.6h-1.6zM321.86 90.44h1.6v1.6h-1.6zM321.86 84.30h1.6v1.6h-1.6zM321.86 78.16h1.6v1.6h-1.6zM321.86 72.03h1.6v1.6h-1.6zM321.86 65.89h1.6v1.6h-1.6zM321.86 59.75h1.6v1.6h-1.6zM321.86 53.61h1.6v1.6h-1.6zM321.86 47.47h1.6v1.6h-1.6zM321.86 41.34h1.6v1.6h-1.6zM321.86 35.20h1.6v1.6h-1.6zM321.86 29.06h1.6v1.6h-1.6zM321.86 22.92h1.6v1.6h-1.6zM321.86 16.78h1.6v1.6h-1.6zM333.27 642.86h1.6v1.6h-1.6zM333.27 636.72h1.6v1.6h-1.6zM333.27 630.58h1.6v1.6h-1.6zM333.27 624.45h1.6v1.6h-1.6zM333.27 618.31h1.6v1.6h-1.6zM333.27 612.17h1.6v1.6h-1.6zM333.27 606.03h1.6v1.6h-1.6zM333.27 599.89h1.6v1.6h-1.6zM333.27 593.76h1.6v1.6h-1.6zM333.27 587.62h1.6v1.6h-1.6zM333.27 581.48h1.6v1.6h-1.6zM333.27 575.34h1.6v1.6h-1.6zM333.27 569.20h1.6v1.6h-1.6zM333.27 563.07h1.6v1.6h-1.6zM333.27 556.93h1.6v1.6h-1.6zM333.27 550.79h1.6v1.6h-1.6zM333.27 544.65h1.6v1.6h-1.6zM333.27 538.51h1.6v1.6h-1.6zM333.27 532.38h1.6v1.6h-1.6zM333.27 526.24h1.6v1.6h-1.6zM333.27 520.10h1.6v1.6h-1.6zM333.27 513.96h1.6v1.6h-1.6zM333.27 507.82h1.6v1.6h-1.6zM333.27 501.69h1.6v1.6h-1.6zM333.27 495.55h1.6v1.6h-1.6zM333.27 489.41h1.6v1.6h-1.6zM333.27 483.27h1.6v1.6h-1.6zM333.27 477.13h1.6v1.6h-1.6zM333.27 471.00h1.6v1.6h-1.6zM333.27 464.86h1.6v1.6h-1.6zM333.27 458.72h1.6v1.6h-1.6zM333.27 452.58h1.6v1.6h-1.6zM333.27 446.44h1.6v1.6h-1.6zM333.27 440.31h1.6v1.6h-1.6zM333.27 434.17h1.6v1.6h-1.6zM333.27 428.03h1.6v1.6h-1.6zM333.27 421.89h1.6v1.6h-1.6zM333.27 415.75h1.6v1.6h-1.6zM333.27 409.62h1.6v1.6h-1.6zM333.27 403.48h1.6v1.6h-1.6zM333.27 397.34h1.6v1.6h-1.6zM333.27 391.20h1.6v1.6h-1.6zM333.27 385.06h1.6v1.6h-1.6zM333.27 378.93h1.6v1.6h-1.6zM333.27 372.79h1.6v1.6h-1.6zM333.27 366.65h1.6v1.6h-1.6zM333.27 360.51h1.6v1.6h-1.6zM333.27 354.37h1.6v1.6h-1.6zM333.27 348.24h1.6v1.6h-1.6zM333.27 342.10h1.6v1.6h-1.6zM333.27 335.96h1.6v1.6h-1.6zM333.27 329.82h1.6v1.6h-1.6zM333.27 323.68h1.6v1.6h-1.6zM333.27 317.55h1.6v1.6h-1.6zM333.27 311.41h1.6v1.6h-1.6zM333.27 305.27h1.6v1.6h-1.6zM333.27 299.13h1.6v1.6h-1.6zM333.27 292.99h1.6v1.6h-1.6zM333.27 286.86h1.6v1.6h-1.6zM333.27 280.72h1.6v1.6h-1.6zM333.27 274.58h1.6v1.6h-1.6zM333.27 268.44h1.6v1.6h-1.6zM333.27 262.30h1.6v1.6h-1.6zM333.27 256.17h1.6v1.6h-1.6zM333.27 250.03h1.6v1.6h-1.6zM333.27 243.89h1.6v1.6h-1.6zM333.27 237.75h1.6v1.6h-1.6zM333.27 231.61h1.6v1.6h-1.6zM333.27 225.48h1.6v1.6h-1.6zM333.27 219.34h1.6v1.6h-1.6zM333.27 213.20h1.6v1.6h-1.6zM333.27 207.06h1.6v1.6h-1.6zM333.27 200.92h1.6v1.6h-1.6zM333.27 194.79h1.6v1.6h-1.6zM333.27 188.65h1.6v1.6h-1.6zM333.27 182.51h1.6v1.6h-1.6zM333.27 176.37h1.6v1.6h-1.6zM333.27 170.23h1.6v1.6h-1.6zM333.27 164.10h1.6v1.6h-1.6zM333.27 157.96h1.6v1.6h-1.6zM333.27 151.82h1.6v1.6h-1.6zM333.27 145.68h1.6v1.6h-1.6zM333.27 139.54h1.6v1.6h-1.6zM333.27 133.41h1.6v1.6h-1.6zM333.27 127.27h1.6v1.6h-1.6zM333.27 121.13h1.6v1.6h-1.6zM333.27 114.99h1.6v1.6h-1.6zM333.27 108.85h1.6v1.6h-1.6zM333.27 102.72h1.6v1.6h-1.6zM333.27 96.58h1.6v1.6h-1.6zM333.27 90.44h1.6v1.6h-1.6zM333.27 84.30h1.6v1.6h-1.6zM333.27 78.16h1.6v1.6h-1.6zM333.27 72.03h1.6v1.6h-1.6zM333.27 65.89h1.6v1.6h-1.6zM333.27 59.75h1.6v1.6h-1.6zM333.27 53.61h1.6v1.6h-1.6zM333.27 47.47h1.6v1.6h-1.6zM333.27 41.34h1.6v1.6h-1.6zM333.27 35.20h1.6v1.6h-1.6zM333.27 29.06h1.6v1.6h-1.6zM333.27 22.92h1.6v1.6h-1.6zM333.27 16.78h1.6v1.6h-1.6zM343.34 642.86h1.6v1.6h-1.6zM343.34 636.72h1.6v1.6h-1.6zM343.34 630.58h1.6v1.6h-1.6zM343.34 624.45h1.6v1.6h-1.6zM343.34 618.31h1.6v1.6h-1.6zM343.34 612.17h1.6v1.6h-1.6zM343.34 606.03h1.6v1.6h-1.6zM343.34 599.89h1.6v1.6h-1.6zM343.34 593.76h1.6v1.6h-1.6zM343.34 587.62h1.6v1.6h-1.6zM343.34 581.48h1.6v1.6h-1.6zM343.34 575.34h1.6v1.6h-1.6zM343.34 569.20h1.6v1.6h-1.6zM343.34 563.07h1.6v1.6h-1.6zM343.34 556.93h1.6v1.6h-1.6zM343.34 550.79h1.6v1.6h-1.6zM343.34 544.65h1.6v1.6h-1.6zM343.34 538.51h1.6v1.6h-1.6zM343.34 532.38h1.6v1.6h-1.6zM343.34 526.24h1.6v1.6h-1.6zM343.34 520.10h1.6v1.6h-1.6zM343.34 513.96h1.6v1.6h-1.6zM343.34 507.82h1.6v1.6h-1.6zM343.34 501.69h1.6v1.6h-1.6zM343.34 495.55h1.6v1.6h-1.6zM343.34 489.41h1.6v1.6h-1.6zM343.34 483.27h1.6v1.6h-1.6zM343.34 477.13h1.6v1.6h-1.6zM343.34 471.00h1.6v1.6h-1.6zM343.34 464.86h1.6v1.6h-1.6zM343.34 458.72h1.6v1.6h-1.6zM343.34 452.58h1.6v1.6h-1.6zM343.34 446.44h1.6v1.6h-1.6zM343.34 440.31h1.6v1.6h-1.6zM343.34 434.17h1.6v1.6h-1.6zM343.34 428.03h1.6v1.6h-1.6zM343.34 421.89h1.6v1.6h-1.6zM343.34 415.75h1.6v1.6h-1.6zM343.34 409.62h1.6v1.6h-1.6zM343.34 403.48h1.6v1.6h-1.6zM343.34 397.34h1.6v1.6h-1.6zM343.34 391.20h1.6v1.6h-1.6zM343.34 385.06h1.6v1.6h-1.6zM343.34 378.93h1.6v1.6h-1.6zM343.34 372.79h1.6v1.6h-1.6zM343.34 366.65h1.6v1.6h-1.6zM343.34 360.51h1.6v1.6h-1.6zM343.34 354.37h1.6v1.6h-1.6zM343.34 348.24h1.6v1.6h-1.6zM343.34 342.10h1.6v1.6h-1.6zM343.34 335.96h1.6v1.6h-1.6zM343.34 329.82h1.6v1.6h-1.6zM343.34 323.68h1.6v1.6h-1.6zM343.34 317.55h1.6v1.6h-1.6zM343.34 311.41h1.6v1.6h-1.6zM343.34 305.27h1.6v1.6h-1.6zM343.34 299.13h1.6v1.6h-1.6zM343.34 292.99h1.6v1.6h-1.6zM343.34 286.86h1.6v1.6h-1.6zM343.34 280.72h1.6v1.6h-1.6zM343.34 274.58h1.6v1.6h-1.6zM343.34 268.44h1.6v1.6h-1.6zM343.34 262.30h1.6v1.6h-1.6zM343.34 256.17h1.6v1.6h-1.6zM343.34 250.03h1.6v1.6h-1.6zM343.34 243.89h1.6v1.6h-1.6zM343.34 237.75h1.6v1.6h-1.6zM343.34 231.61h1.6v1.6h-1.6zM343.34 225.48h1.6v1.6h-1.6zM343.34 219.34h1.6v1.6h-1.6zM343.34 213.20h1.6v1.6h-1.6zM343.34 207.06h1.6v1.6h-1.6zM343.34 200.92h1.6v1.6h-1.6zM343.34 194.79h1.6v1.6h-1.6zM343.34 188.65h1.6v1.6h-1.6zM343.34 182.51h1.6v1.6h-1.6zM343.34 176.37h1.6v1.6h-1.6zM343.34 170.23h1.6v1.6h-1.6zM343.34 164.10h1.6v1.6h-1.6zM343.34 157.96h1.6v1.6h-1.6zM343.34 151.82h1.6v1.6h-1.6zM343.34 145.68h1.6v1.6h-1.6zM343.34 139.54h1.6v1.6h-1.6zM343.34 133.41h1.6v1.6h-1.6zM343.34 127.27h1.6v1.6h-1.6zM343.34 121.13h1.6v1.6h-1.6zM343.34 114.99h1.6v1.6h-1.6zM343.34 108.85h1.6v1.6h-1.6zM343.34 102.72h1.6v1.6h-1.6zM343.34 96.58h1.6v1.6h-1.6zM343.34 90.44h1.6v1.6h-1.6zM343.34 84.30h1.6v1.6h-1.6zM343.34 78.16h1.6v1.6h-1.6zM343.34 72.03h1.6v1.6h-1.6zM343.34 65.89h1.6v1.6h-1.6zM343.34 59.75h1.6v1.6h-1.6zM343.34 53.61h1.6v1.6h-1.6zM343.34 47.47h1.6v1.6h-1.6zM343.34 41.34h1.6v1.6h-1.6zM343.34 35.20h1.6v1.6h-1.6zM343.34 29.06h1.6v1.6h-1.6zM343.34 22.92h1.6v1.6h-1.6zM343.34 16.78h1.6v1.6h-1.6zM352.34 642.86h1.6v1.6h-1.6zM352.34 636.72h1.6v1.6h-1.6zM352.34 630.58h1.6v1.6h-1.6zM352.34 624.45h1.6v1.6h-1.6zM352.34 618.31h1.6v1.6h-1.6zM352.34 612.17h1.6v1.6h-1.6zM352.34 606.03h1.6v1.6h-1.6zM352.34 599.89h1.6v1.6h-1.6zM352.34 593.76h1.6v1.6h-1.6zM352.34 587.62h1.6v1.6h-1.6zM352.34 581.48h1.6v1.6h-1.6zM352.34 575.34h1.6v1.6h-1.6zM352.34 569.20h1.6v1.6h-1.6zM352.34 563.07h1.6v1.6h-1.6zM352.34 556.93h1.6v1.6h-1.6zM352.34 550.79h1.6v1.6h-1.6zM352.34 544.65h1.6v1.6h-1.6zM352.34 538.51h1.6v1.6h-1.6zM352.34 532.38h1.6v1.6h-1.6zM352.34 526.24h1.6v1.6h-1.6zM352.34 520.10h1.6v1.6h-1.6zM352.34 513.96h1.6v1.6h-1.6zM352.34 507.82h1.6v1.6h-1.6zM352.34 501.69h1.6v1.6h-1.6zM352.34 495.55h1.6v1.6h-1.6zM352.34 489.41h1.6v1.6h-1.6zM352.34 483.27h1.6v1.6h-1.6zM352.34 477.13h1.6v1.6h-1.6zM352.34 471.00h1.6v1.6h-1.6zM352.34 464.86h1.6v1.6h-1.6zM352.34 458.72h1.6v1.6h-1.6zM352.34 452.58h1.6v1.6h-1.6zM352.34 446.44h1.6v1.6h-1.6zM352.34 440.31h1.6v1.6h-1.6zM352.34 434.17h1.6v1.6h-1.6zM352.34 428.03h1.6v1.6h-1.6zM352.34 421.89h1.6v1.6h-1.6zM352.34 415.75h1.6v1.6h-1.6zM352.34 409.62h1.6v1.6h-1.6zM352.34 403.48h1.6v1.6h-1.6zM352.34 397.34h1.6v1.6h-1.6zM352.34 391.20h1.6v1.6h-1.6zM352.34 385.06h1.6v1.6h-1.6zM352.34 378.93h1.6v1.6h-1.6zM352.34 372.79h1.6v1.6h-1.6zM352.34 366.65h1.6v1.6h-1.6zM352.34 360.51h1.6v1.6h-1.6zM352.34 354.37h1.6v1.6h-1.6zM352.34 348.24h1.6v1.6h-1.6zM352.34 342.10h1.6v1.6h-1.6zM352.34 335.96h1.6v1.6h-1.6zM352.34 329.82h1.6v1.6h-1.6zM352.34 323.68h1.6v1.6h-1.6zM352.34 317.55h1.6v1.6h-1.6zM352.34 311.41h1.6v1.6h-1.6zM352.34 305.27h1.6v1.6h-1.6zM352.34 299.13h1.6v1.6h-1.6zM352.34 292.99h1.6v1.6h-1.6zM352.34 286.86h1.6v1.6h-1.6zM352.34 280.72h1.6v1.6h-1.6zM352.34 274.58h1.6v1.6h-1.6zM352.34 268.44h1.6v1.6h-1.6zM352.34 262.30h1.6v1.6h-1.6zM352.34 256.17h1.6v1.6h-1.6zM352.34 250.03h1.6v1.6h-1.6zM352.34 243.89h1.6v1.6h-1.6zM352.34 237.75h1.6v1.6h-1.6zM352.34 231.61h1.6v1.6h-1.6zM352.34 225.48h1.6v1.6h-1.6zM352.34 219.34h1.6v1.6h-1.6zM352.34 213.20h1.6v1.6h-1.6zM352.34 207.06h1.6v1.6h-1.6zM352.34 200.92h1.6v1.6h-1.6zM352.34 194.79h1.6v1.6h-1.6zM352.34 188.65h1.6v1.6h-1.6zM352.34 182.51h1.6v1.6h-1.6zM352.34 176.37h1.6v1.6h-1.6zM352.34 170.23h1.6v1.6h-1.6zM352.34 164.10h1.6v1.6h-1.6zM352.34 157.96h1.6v1.6h-1.6zM352.34 151.82h1.6v1.6h-1.6zM352.34 145.68h1.6v1.6h-1.6zM352.34 139.54h1.6v1.6h-1.6zM352.34 133.41h1.6v1.6h-1.6zM352.34 127.27h1.6v1.6h-1.6zM352.34 121.13h1.6v1.6h-1.6zM352.34 114.99h1.6v1.6h-1.6zM352.34 108.85h1.6v1.6h-1.6zM352.34 102.72h1.6v1.6h-1.6zM352.34 96.58h1.6v1.6h-1.6zM352.34 90.44h1.6v1.6h-1.6zM352.34 84.30h1.6v1.6h-1.6zM352.34 78.16h1.6v1.6h-1.6zM352.34 72.03h1.6v1.6h-1.6zM352.34 65.89h1.6v1.6h-1.6zM352.34 59.75h1.6v1.6h-1.6zM352.34 53.61h1.6v1.6h-1.6zM352.34 47.47h1.6v1.6h-1.6zM352.34 41.34h1.6v1.6h-1.6zM352.34 35.20h1.6v1.6h-1.6zM352.34 29.06h1.6v1.6h-1.6zM352.34 22.92h1.6v1.6h-1.6zM352.34 16.78h1.6v1.6h-1.6zM411.59 642.86h1.6v1.6h-1.6zM411.59 636.72h1.6v1.6h-1.6zM411.59 630.58h1.6v1.6h-1.6zM411.59 624.45h1.6v1.6h-1.6zM411.59 618.31h1.6v1.6h-1.6zM411.59 612.17h1.6v1.6h-1.6zM411.59 606.03h1.6v1.6h-1.6zM411.59 599.89h1.6v1.6h-1.6zM411.59 593.76h1.6v1.6h-1.6zM411.59 587.62h1.6v1.6h-1.6zM411.59 581.48h1.6v1.6h-1.6zM411.59 575.34h1.6v1.6h-1.6zM411.59 569.20h1.6v1.6h-1.6zM411.59 563.07h1.6v1.6h-1.6zM411.59 556.93h1.6v1.6h-1.6zM411.59 550.79h1.6v1.6h-1.6zM411.59 544.65h1.6v1.6h-1.6zM411.59 538.51h1.6v1.6h-1.6zM411.59 532.38h1.6v1.6h-1.6zM411.59 526.24h1.6v1.6h-1.6zM411.59 520.10h1.6v1.6h-1.6zM411.59 513.96h1.6v1.6h-1.6zM411.59 507.82h1.6v1.6h-1.6zM411.59 501.69h1.6v1.6h-1.6zM411.59 495.55h1.6v1.6h-1.6zM411.59 489.41h1.6v1.6h-1.6zM411.59 483.27h1.6v1.6h-1.6zM411.59 477.13h1.6v1.6h-1.6zM411.59 471.00h1.6v1.6h-1.6zM411.59 464.86h1.6v1.6h-1.6zM411.59 458.72h1.6v1.6h-1.6zM411.59 452.58h1.6v1.6h-1.6zM411.59 446.44h1.6v1.6h-1.6zM411.59 440.31h1.6v1.6h-1.6zM411.59 434.17h1.6v1.6h-1.6zM411.59 428.03h1.6v1.6h-1.6zM411.59 421.89h1.6v1.6h-1.6zM411.59 415.75h1.6v1.6h-1.6zM411.59 409.62h1.6v1.6h-1.6zM411.59 403.48h1.6v1.6h-1.6zM411.59 397.34h1.6v1.6h-1.6zM411.59 391.20h1.6v1.6h-1.6zM411.59 385.06h1.6v1.6h-1.6zM411.59 378.93h1.6v1.6h-1.6zM411.59 372.79h1.6v1.6h-1.6zM411.59 366.65h1.6v1.6h-1.6zM411.59 360.51h1.6v1.6h-1.6zM411.59 354.37h1.6v1.6h-1.6zM411.59 348.24h1.6v1.6h-1.6zM411.59 342.10h1.6v1.6h-1.6zM411.59 335.96h1.6v1.6h-1.6zM411.59 329.82h1.6v1.6h-1.6zM411.59 323.68h1.6v1.6h-1.6zM411.59 317.55h1.6v1.6h-1.6zM411.59 311.41h1.6v1.6h-1.6zM411.59 305.27h1.6v1.6h-1.6zM411.59 299.13h1.6v1.6h-1.6zM411.59 292.99h1.6v1.6h-1.6zM411.59 286.86h1.6v1.6h-1.6zM411.59 280.72h1.6v1.6h-1.6zM411.59 274.58h1.6v1.6h-1.6zM411.59 268.44h1.6v1.6h-1.6zM411.59 262.30h1.6v1.6h-1.6zM411.59 256.17h1.6v1.6h-1.6zM411.59 250.03h1.6v1.6h-1.6zM411.59 243.89h1.6v1.6h-1.6zM411.59 237.75h1.6v1.6h-1.6zM411.59 231.61h1.6v1.6h-1.6zM411.59 225.48h1.6v1.6h-1.6zM411.59 219.34h1.6v1.6h-1.6zM411.59 213.20h1.6v1.6h-1.6zM411.59 207.06h1.6v1.6h-1.6zM411.59 200.92h1.6v1.6h-1.6zM411.59 194.79h1.6v1.6h-1.6zM411.59 188.65h1.6v1.6h-1.6zM411.59 182.51h1.6v1.6h-1.6zM411.59 176.37h1.6v1.6h-1.6zM411.59 170.23h1.6v1.6h-1.6zM411.59 164.10h1.6v1.6h-1.6zM411.59 157.96h1.6v1.6h-1.6zM411.59 151.82h1.6v1.6h-1.6zM411.59 145.68h1.6v1.6h-1.6zM411.59 139.54h1.6v1.6h-1.6zM411.59 133.41h1.6v1.6h-1.6zM411.59 127.27h1.6v1.6h-1.6zM411.59 121.13h1.6v1.6h-1.6zM411.59 114.99h1.6v1.6h-1.6zM411.59 108.85h1.6v1.6h-1.6zM411.59 102.72h1.6v1.6h-1.6zM411.59 96.58h1.6v1.6h-1.6zM411.59 90.44h1.6v1.6h-1.6zM411.59 84.30h1.6v1.6h-1.6zM411.59 78.16h1.6v1.6h-1.6zM411.59 72.03h1.6v1.6h-1.6zM411.59 65.89h1.6v1.6h-1.6zM411.59 59.75h1.6v1.6h-1.6zM411.59 53.61h1.6v1.6h-1.6zM411.59 47.47h1.6v1.6h-1.6zM411.59 41.34h1.6v1.6h-1.6zM411.59 35.20h1.6v1.6h-1.6zM411.59 29.06h1.6v1.6h-1.6zM411.59 22.92h1.6v1.6h-1.6zM411.59 16.78h1.6v1.6h-1.6zM446.24 642.86h1.6v1.6h-1.6zM446.24 636.72h1.6v1.6h-1.6zM446.24 630.58h1.6v1.6h-1.6zM446.24 624.45h1.6v1.6h-1.6zM446.24 618.31h1.6v1.6h-1.6zM446.24 612.17h1.6v1.6h-1.6zM446.24 606.03h1.6v1.6h-1.6zM446.24 599.89h1.6v1.6h-1.6zM446.24 593.76h1.6v1.6h-1.6zM446.24 587.62h1.6v1.6h-1.6zM446.24 581.48h1.6v1.6h-1.6zM446.24 575.34h1.6v1.6h-1.6zM446.24 569.20h1.6v1.6h-1.6zM446.24 563.07h1.6v1.6h-1.6zM446.24 556.93h1.6v1.6h-1.6zM446.24 550.79h1.6v1.6h-1.6zM446.24 544.65h1.6v1.6h-1.6zM446.24 538.51h1.6v1.6h-1.6zM446.24 532.38h1.6v1.6h-1.6zM446.24 526.24h1.6v1.6h-1.6zM446.24 520.10h1.6v1.6h-1.6zM446.24 513.96h1.6v1.6h-1.6zM446.24 507.82h1.6v1.6h-1.6zM446.24 501.69h1.6v1.6h-1.6zM446.24 495.55h1.6v1.6h-1.6zM446.24 489.41h1.6v1.6h-1.6zM446.24 483.27h1.6v1.6h-1.6zM446.24 477.13h1.6v1.6h-1.6zM446.24 471.00h1.6v1.6h-1.6zM446.24 464.86h1.6v1.6h-1.6zM446.24 458.72h1.6v1.6h-1.6zM446.24 452.58h1.6v1.6h-1.6zM446.24 446.44h1.6v1.6h-1.6zM446.24 440.31h1.6v1.6h-1.6zM446.24 434.17h1.6v1.6h-1.6zM446.24 428.03h1.6v1.6h-1.6zM446.24 421.89h1.6v1.6h-1.6zM446.24 415.75h1.6v1.6h-1.6zM446.24 409.62h1.6v1.6h-1.6zM446.24 403.48h1.6v1.6h-1.6zM446.24 397.34h1.6v1.6h-1.6zM446.24 391.20h1.6v1.6h-1.6zM446.24 385.06h1.6v1.6h-1.6zM446.24 378.93h1.6v1.6h-1.6zM446.24 372.79h1.6v1.6h-1.6zM446.24 366.65h1.6v1.6h-1.6zM446.24 360.51h1.6v1.6h-1.6zM446.24 354.37h1.6v1.6h-1.6zM446.24 348.24h1.6v1.6h-1.6zM446.24 342.10h1.6v1.6h-1.6zM446.24 335.96h1.6v1.6h-1.6zM446.24 329.82h1.6v1.6h-1.6zM446.24 323.68h1.6v1.6h-1.6zM446.24 317.55h1.6v1.6h-1.6zM446.24 311.41h1.6v1.6h-1.6zM446.24 305.27h1.6v1.6h-1.6zM446.24 299.13h1.6v1.6h-1.6zM446.24 292.99h1.6v1.6h-1.6zM446.24 286.86h1.6v1.6h-1.6zM446.24 280.72h1.6v1.6h-1.6zM446.24 274.58h1.6v1.6h-1.6zM446.24 268.44h1.6v1.6h-1.6zM446.24 262.30h1.6v1.6h-1.6zM446.24 256.17h1.6v1.6h-1.6zM446.24 250.03h1.6v1.6h-1.6zM446.24 243.89h1.6v1.6h-1.6zM446.24 237.75h1.6v1.6h-1.6zM446.24 231.61h1.6v1.6h-1.6zM446.24 225.48h1.6v1.6h-1.6zM446.24 219.34h1.6v1.6h-1.6zM446.24 213.20h1.6v1.6h-1.6zM446.24 207.06h1.6v1.6h-1.6zM446.24 200.92h1.6v1.6h-1.6zM446.24 194.79h1.6v1.6h-1.6zM446.24 188.65h1.6v1.6h-1.6zM446.24 182.51h1.6v1.6h-1.6zM446.24 176.37h1.6v1.6h-1.6zM446.24 170.23h1.6v1.6h-1.6zM446.24 164.10h1.6v1.6h-1.6zM446.24 157.96h1.6v1.6h-1.6zM446.24 151.82h1.6v1.6h-1.6zM446.24 145.68h1.6v1.6h-1.6zM446.24 139.54h1.6v1.6h-1.6zM446.24 133.41h1.6v1.6h-1.6zM446.24 127.27h1.6v1.6h-1.6zM446.24 121.13h1.6v1.6h-1.6zM446.24 114.99h1.6v1.6h-1.6zM446.24 108.85h1.6v1.6h-1.6zM446.24 102.72h1.6v1.6h-1.6zM446.24 96.58h1.6v1.6h-1.6zM446.24 90.44h1.6v1.6h-1.6zM446.24 84.30h1.6v1.6h-1.6zM446.24 78.16h1.6v1.6h-1.6zM446.24 72.03h1.6v1.6h-1.6zM446.24 65.89h1.6v1.6h-1.6zM446.24 59.75h1.6v1.6h-1.6zM446.24 53.61h1.6v1.6h-1.6zM446.24 47.47h1.6v1.6h-1.6zM446.24 41.34h1.6v1.6h-1.6zM446.24 35.20h1.6v1.6h-1.6zM446.24 29.06h1.6v1.6h-1.6zM446.24 22.92h1.6v1.6h-1.6zM446.24 16.78h1.6v1.6h-1.6zM470.83 642.86h1.6v1.6h-1.6zM470.83 636.72h1.6v1.6h-1.6zM470.83 630.58h1.6v1.6h-1.6zM470.83 624.45h1.6v1.6h-1.6zM470.83 618.31h1.6v1.6h-1.6zM470.83 612.17h1.6v1.6h-1.6zM470.83 606.03h1.6v1.6h-1.6zM470.83 599.89h1.6v1.6h-1.6zM470.83 593.76h1.6v1.6h-1.6zM470.83 587.62h1.6v1.6h-1.6zM470.83 581.48h1.6v1.6h-1.6zM470.83 575.34h1.6v1.6h-1.6zM470.83 569.20h1.6v1.6h-1.6zM470.83 563.07h1.6v1.6h-1.6zM470.83 556.93h1.6v1.6h-1.6zM470.83 550.79h1.6v1.6h-1.6zM470.83 544.65h1.6v1.6h-1.6zM470.83 538.51h1.6v1.6h-1.6zM470.83 532.38h1.6v1.6h-1.6zM470.83 526.24h1.6v1.6h-1.6zM470.83 520.10h1.6v1.6h-1.6zM470.83 513.96h1.6v1.6h-1.6zM470.83 507.82h1.6v1.6h-1.6zM470.83 501.69h1.6v1.6h-1.6zM470.83 495.55h1.6v1.6h-1.6zM470.83 489.41h1.6v1.6h-1.6zM470.83 483.27h1.6v1.6h-1.6zM470.83 477.13h1.6v1.6h-1.6zM470.83 471.00h1.6v1.6h-1.6zM470.83 464.86h1.6v1.6h-1.6zM470.83 458.72h1.6v1.6h-1.6zM470.83 452.58h1.6v1.6h-1.6zM470.83 446.44h1.6v1.6h-1.6zM470.83 440.31h1.6v1.6h-1.6zM470.83 434.17h1.6v1.6h-1.6zM470.83 428.03h1.6v1.6h-1.6zM470.83 421.89h1.6v1.6h-1.6zM470.83 415.75h1.6v1.6h-1.6zM470.83 409.62h1.6v1.6h-1.6zM470.83 403.48h1.6v1.6h-1.6zM470.83 397.34h1.6v1.6h-1.6zM470.83 391.20h1.6v1.6h-1.6zM470.83 385.06h1.6v1.6h-1.6zM470.83 378.93h1.6v1.6h-1.6zM470.83 372.79h1.6v1.6h-1.6zM470.83 366.65h1.6v1.6h-1.6zM470.83 360.51h1.6v1.6h-1.6zM470.83 354.37h1.6v1.6h-1.6zM470.83 348.24h1.6v1.6h-1.6zM470.83 342.10h1.6v1.6h-1.6zM470.83 335.96h1.6v1.6h-1.6zM470.83 329.82h1.6v1.6h-1.6zM470.83 323.68h1.6v1.6h-1.6zM470.83 317.55h1.6v1.6h-1.6zM470.83 311.41h1.6v1.6h-1.6zM470.83 305.27h1.6v1.6h-1.6zM470.83 299.13h1.6v1.6h-1.6zM470.83 292.99h1.6v1.6h-1.6zM470.83 286.86h1.6v1.6h-1.6zM470.83 280.72h1.6v1.6h-1.6zM470.83 274.58h1.6v1.6h-1.6zM470.83 268.44h1.6v1.6h-1.6zM470.83 262.30h1.6v1.6h-1.6zM470.83 256.17h1.6v1.6h-1.6zM470.83 250.03h1.6v1.6h-1.6zM470.83 243.89h1.6v1.6h-1.6zM470.83 237.75h1.6v1.6h-1.6zM470.83 231.61h1.6v1.6h-1.6zM470.83 225.48h1.6v1.6h-1.6zM470.83 219.34h1.6v1.6h-1.6zM470.83 213.20h1.6v1.6h-1.6zM470.83 207.06h1.6v1.6h-1.6zM470.83 200.92h1.6v1.6h-1.6zM470.83 194.79h1.6v1.6h-1.6zM470.83 188.65h1.6v1.6h-1.6zM470.83 182.51h1.6v1.6h-1.6zM470.83 176.37h1.6v1.6h-1.6zM470.83 170.23h1.6v1.6h-1.6zM470.83 164.10h1.6v1.6h-1.6zM470.83 157.96h1.6v1.6h-1.6zM470.83 151.82h1.6v1.6h-1.6zM470.83 145.68h1.6v1.6h-1.6zM470.83 139.54h1.6v1.6h-1.6zM470.83 133.41h1.6v1.6h-1.6zM470.83 127.27h1.6v1.6h-1.6zM470.83 121.13h1.6v1.6h-1.6zM470.83 114.99h1.6v1.6h-1.6zM470.83 108.85h1.6v1.6h-1.6zM470.83 102.72h1.6v1.6h-1.6zM470.83 96.58h1.6v1.6h-1.6zM470.83 90.44h1.6v1.6h-1.6zM470.83 84.30h1.6v1.6h-1.6zM470.83 78.16h1.6v1.6h-1.6zM470.83 72.03h1.6v1.6h-1.6zM470.83 65.89h1.6v1.6h-1.6zM470.83 59.75h1.6v1.6h-1.6zM470.83 53.61h1.6v1.6h-1.6zM470.83 47.47h1.6v1.6h-1.6zM470.83 41.34h1.6v1.6h-1.6zM470.83 35.20h1.6v1.6h-1.6zM470.83 29.06h1.6v1.6h-1.6zM470.83 22.92h1.6v1.6h-1.6zM470.83 16.78h1.6v1.6h-1.6zM489.90 642.86h1.6v1.6h-1.6zM489.90 636.72h1.6v1.6h-1.6zM489.90 630.58h1.6v1.6h-1.6zM489.90 624.45h1.6v1.6h-1.6zM489.90 618.31h1.6v1.6h-1.6zM489.90 612.17h1.6v1.6h-1.6zM489.90 606.03h1.6v1.6h-1.6zM489.90 599.89h1.6v1.6h-1.6zM489.90 593.76h1.6v1.6h-1.6zM489.90 587.62h1.6v1.6h-1.6zM489.90 581.48h1.6v1.6h-1.6zM489.90 575.34h1.6v1.6h-1.6zM489.90 569.20h1.6v1.6h-1.6zM489.90 563.07h1.6v1.6h-1.6zM489.90 556.93h1.6v1.6h-1.6zM489.90 550.79h1.6v1.6h-1.6zM489.90 544.65h1.6v1.6h-1.6zM489.90 538.51h1.6v1.6h-1.6zM489.90 532.38h1.6v1.6h-1.6zM489.90 526.24h1.6v1.6h-1.6zM489.90 520.10h1.6v1.6h-1.6zM489.90 513.96h1.6v1.6h-1.6zM489.90 507.82h1.6v1.6h-1.6zM489.90 501.69h1.6v1.6h-1.6zM489.90 495.55h1.6v1.6h-1.6zM489.90 489.41h1.6v1.6h-1.6zM489.90 483.27h1.6v1.6h-1.6zM489.90 477.13h1.6v1.6h-1.6zM489.90 471.00h1.6v1.6h-1.6zM489.90 464.86h1.6v1.6h-1.6zM489.90 458.72h1.6v1.6h-1.6zM489.90 452.58h1.6v1.6h-1.6zM489.90 446.44h1.6v1.6h-1.6zM489.90 440.31h1.6v1.6h-1.6zM489.90 434.17h1.6v1.6h-1.6zM489.90 428.03h1.6v1.6h-1.6zM489.90 421.89h1.6v1.6h-1.6zM489.90 415.75h1.6v1.6h-1.6zM489.90 409.62h1.6v1.6h-1.6zM489.90 403.48h1.6v1.6h-1.6zM489.90 397.34h1.6v1.6h-1.6zM489.90 391.20h1.6v1.6h-1.6zM489.90 385.06h1.6v1.6h-1.6zM489.90 378.93h1.6v1.6h-1.6zM489.90 372.79h1.6v1.6h-1.6zM489.90 366.65h1.6v1.6h-1.6zM489.90 360.51h1.6v1.6h-1.6zM489.90 354.37h1.6v1.6h-1.6zM489.90 348.24h1.6v1.6h-1.6zM489.90 342.10h1.6v1.6h-1.6zM489.90 335.96h1.6v1.6h-1.6zM489.90 329.82h1.6v1.6h-1.6zM489.90 323.68h1.6v1.6h-1.6zM489.90 317.55h1.6v1.6h-1.6zM489.90 311.41h1.6v1.6h-1.6zM489.90 305.27h1.6v1.6h-1.6zM489.90 299.13h1.6v1.6h-1.6zM489.90 292.99h1.6v1.6h-1.6zM489.90 286.86h1.6v1.6h-1.6zM489.90 280.72h1.6v1.6h-1.6zM489.90 274.58h1.6v1.6h-1.6zM489.90 268.44h1.6v1.6h-1.6zM489.90 262.30h1.6v1.6h-1.6zM489.90 256.17h1.6v1.6h-1.6zM489.90 250.03h1.6v1.6h-1.6zM489.90 243.89h1.6v1.6h-1.6zM489.90 237.75h1.6v1.6h-1.6zM489.90 231.61h1.6v1.6h-1.6zM489.90 225.48h1.6v1.6h-1.6zM489.90 219.34h1.6v1.6h-1.6zM489.90 213.20h1.6v1.6h-1.6zM489.90 207.06h1.6v1.6h-1.6zM489.90 200.92h1.6v1.6h-1.6zM489.90 194.79h1.6v1.6h-1.6zM489.90 188.65h1.6v1.6h-1.6zM489.90 182.51h1.6v1.6h-1.6zM489.90 176.37h1.6v1.6h-1.6zM489.90 170.23h1.6v1.6h-1.6zM489.90 164.10h1.6v1.6h-1.6zM489.90 157.96h1.6v1.6h-1.6zM489.90 151.82h1.6v1.6h-1.6zM489.90 145.68h1.6v1.6h-1.6zM489.90 139.54h1.6v1.6h-1.6zM489.90 133.41h1.6v1.6h-1.6zM489.90 127.27h1.6v1.6h-1.6zM489.90 121.13h1.6v1.6h-1.6zM489.90 114.99h1.6v1.6h-1.6zM489.90 108.85h1.6v1.6h-1.6zM489.90 102.72h1.6v1.6h-1.6zM489.90 96.58h1.6v1.6h-1.6zM489.90 90.44h1.6v1.6h-1.6zM489.90 84.30h1.6v1.6h-1.6zM489.90 78.16h1.6v1.6h-1.6zM489.90 72.03h1.6v1.6h-1.6zM489.90 65.89h1.6v1.6h-1.6zM489.90 59.75h1.6v1.6h-1.6zM489.90 53.61h1.6v1.6h-1.6zM489.90 47.47h1.6v1.6h-1.6zM489.90 41.34h1.6v1.6h-1.6zM489.90 35.20h1.6v1.6h-1.6zM489.90 29.06h1.6v1.6h-1.6zM489.90 22.92h1.6v1.6h-1.6zM489.90 16.78h1.6v1.6h-1.6zM505.48 642.86h1.6v1.6h-1.6zM505.48 636.72h1.6v1.6h-1.6zM505.48 630.58h1.6v1.6h-1.6zM505.48 624.45h1.6v1.6h-1.6zM505.48 618.31h1.6v1.6h-1.6zM505.48 612.17h1.6v1.6h-1.6zM505.48 606.03h1.6v1.6h-1.6zM505.48 599.89h1.6v1.6h-1.6zM505.48 593.76h1.6v1.6h-1.6zM505.48 587.62h1.6v1.6h-1.6zM505.48 581.48h1.6v1.6h-1.6zM505.48 575.34h1.6v1.6h-1.6zM505.48 569.20h1.6v1.6h-1.6zM505.48 563.07h1.6v1.6h-1.6zM505.48 556.93h1.6v1.6h-1.6zM505.48 550.79h1.6v1.6h-1.6zM505.48 544.65h1.6v1.6h-1.6zM505.48 538.51h1.6v1.6h-1.6zM505.48 532.38h1.6v1.6h-1.6zM505.48 526.24h1.6v1.6h-1.6zM505.48 520.10h1.6v1.6h-1.6zM505.48 513.96h1.6v1.6h-1.6zM505.48 507.82h1.6v1.6h-1.6zM505.48 501.69h1.6v1.6h-1.6zM505.48 495.55h1.6v1.6h-1.6zM505.48 489.41h1.6v1.6h-1.6zM505.48 483.27h1.6v1.6h-1.6zM505.48 477.13h1.6v1.6h-1.6zM505.48 471.00h1.6v1.6h-1.6zM505.48 464.86h1.6v1.6h-1.6zM505.48 458.72h1.6v1.6h-1.6zM505.48 452.58h1.6v1.6h-1.6zM505.48 446.44h1.6v1.6h-1.6zM505.48 440.31h1.6v1.6h-1.6zM505.48 434.17h1.6v1.6h-1.6zM505.48 428.03h1.6v1.6h-1.6zM505.48 421.89h1.6v1.6h-1.6zM505.48 415.75h1.6v1.6h-1.6zM505.48 409.62h1.6v1.6h-1.6zM505.48 403.48h1.6v1.6h-1.6zM505.48 397.34h1.6v1.6h-1.6zM505.48 391.20h1.6v1.6h-1.6zM505.48 385.06h1.6v1.6h-1.6zM505.48 378.93h1.6v1.6h-1.6zM505.48 372.79h1.6v1.6h-1.6zM505.48 366.65h1.6v1.6h-1.6zM505.48 360.51h1.6v1.6h-1.6zM505.48 354.37h1.6v1.6h-1.6zM505.48 348.24h1.6v1.6h-1.6zM505.48 342.10h1.6v1.6h-1.6zM505.48 335.96h1.6v1.6h-1.6zM505.48 329.82h1.6v1.6h-1.6zM505.48 323.68h1.6v1.6h-1.6zM505.48 317.55h1.6v1.6h-1.6zM505.48 311.41h1.6v1.6h-1.6zM505.48 305.27h1.6v1.6h-1.6zM505.48 299.13h1.6v1.6h-1.6zM505.48 292.99h1.6v1.6h-1.6zM505.48 286.86h1.6v1.6h-1.6zM505.48 280.72h1.6v1.6h-1.6zM505.48 274.58h1.6v1.6h-1.6zM505.48 268.44h1.6v1.6h-1.6zM505.48 262.30h1.6v1.6h-1.6zM505.48 256.17h1.6v1.6h-1.6zM505.48 250.03h1.6v1.6h-1.6zM505.48 243.89h1.6v1.6h-1.6zM505.48 237.75h1.6v1.6h-1.6zM505.48 231.61h1.6v1.6h-1.6zM505.48 225.48h1.6v1.6h-1.6zM505.48 219.34h1.6v1.6h-1.6zM505.48 213.20h1.6v1.6h-1.6zM505.48 207.06h1.6v1.6h-1.6zM505.48 200.92h1.6v1.6h-1.6zM505.48 194.79h1.6v1.6h-1.6zM505.48 188.65h1.6v1.6h-1.6zM505.48 182.51h1.6v1.6h-1.6zM505.48 176.37h1.6v1.6h-1.6zM505.48 170.23h1.6v1.6h-1.6zM505.48 164.10h1.6v1.6h-1.6zM505.48 157.96h1.6v1.6h-1.6zM505.48 151.82h1.6v1.6h-1.6zM505.48 145.68h1.6v1.6h-1.6zM505.48 139.54h1.6v1.6h-1.6zM505.48 133.41h1.6v1.6h-1.6zM505.48 127.27h1.6v1.6h-1.6zM505.48 121.13h1.6v1.6h-1.6zM505.48 114.99h1.6v1.6h-1.6zM505.48 108.85h1.6v1.6h-1.6zM505.48 102.72h1.6v1.6h-1.6zM505.48 96.58h1.6v1.6h-1.6zM505.48 90.44h1.6v1.6h-1.6zM505.48 84.30h1.6v1.6h-1.6zM505.48 78.16h1.6v1.6h-1.6zM505.48 72.03h1.6v1.6h-1.6zM505.48 65.89h1.6v1.6h-1.6zM505.48 59.75h1.6v1.6h-1.6zM505.48 53.61h1.6v1.6h-1.6zM505.48 47.47h1.6v1.6h-1.6zM505.48 41.34h1.6v1.6h-1.6zM505.48 35.20h1.6v1.6h-1.6zM505.48 29.06h1.6v1.6h-1.6zM505.48 22.92h1.6v1.6h-1.6zM505.48 16.78h1.6v1.6h-1.6zM518.66 642.86h1.6v1.6h-1.6zM518.66 636.72h1.6v1.6h-1.6zM518.66 630.58h1.6v1.6h-1.6zM518.66 624.45h1.6v1.6h-1.6zM518.66 618.31h1.6v1.6h-1.6zM518.66 612.17h1.6v1.6h-1.6zM518.66 606.03h1.6v1.6h-1.6zM518.66 599.89h1.6v1.6h-1.6zM518.66 593.76h1.6v1.6h-1.6zM518.66 587.62h1.6v1.6h-1.6zM518.66 581.48h1.6v1.6h-1.6zM518.66 575.34h1.6v1.6h-1.6zM518.66 569.20h1.6v1.6h-1.6zM518.66 563.07h1.6v1.6h-1.6zM518.66 556.93h1.6v1.6h-1.6zM518.66 550.79h1.6v1.6h-1.6zM518.66 544.65h1.6v1.6h-1.6zM518.66 538.51h1.6v1.6h-1.6zM518.66 532.38h1.6v1.6h-1.6zM518.66 526.24h1.6v1.6h-1.6zM518.66 520.10h1.6v1.6h-1.6zM518.66 513.96h1.6v1.6h-1.6zM518.66 507.82h1.6v1.6h-1.6zM518.66 501.69h1.6v1.6h-1.6zM518.66 495.55h1.6v1.6h-1.6zM518.66 489.41h1.6v1.6h-1.6zM518.66 483.27h1.6v1.6h-1.6zM518.66 477.13h1.6v1.6h-1.6zM518.66 471.00h1.6v1.6h-1.6zM518.66 464.86h1.6v1.6h-1.6zM518.66 458.72h1.6v1.6h-1.6zM518.66 452.58h1.6v1.6h-1.6zM518.66 446.44h1.6v1.6h-1.6zM518.66 440.31h1.6v1.6h-1.6zM518.66 434.17h1.6v1.6h-1.6zM518.66 428.03h1.6v1.6h-1.6zM518.66 421.89h1.6v1.6h-1.6zM518.66 415.75h1.6v1.6h-1.6zM518.66 409.62h1.6v1.6h-1.6zM518.66 403.48h1.6v1.6h-1.6zM518.66 397.34h1.6v1.6h-1.6zM518.66 391.20h1.6v1.6h-1.6zM518.66 385.06h1.6v1.6h-1.6zM518.66 378.93h1.6v1.6h-1.6zM518.66 372.79h1.6v1.6h-1.6zM518.66 366.65h1.6v1.6h-1.6zM518.66 360.51h1.6v1.6h-1.6zM518.66 354.37h1.6v1.6h-1.6zM518.66 348.24h1.6v1.6h-1.6zM518.66 342.10h1.6v1.6h-1.6zM518.66 335.96h1.6v1.6h-1.6zM518.66 329.82h1.6v1.6h-1.6zM518.66 323.68h1.6v1.6h-1.6zM518.66 317.55h1.6v1.6h-1.6zM518.66 311.41h1.6v1.6h-1.6zM518.66 305.27h1.6v1.6h-1.6zM518.66 299.13h1.6v1.6h-1.6zM518.66 292.99h1.6v1.6h-1.6zM518.66 286.86h1.6v1.6h-1.6zM518.66 280.72h1.6v1.6h-1.6zM518.66 274.58h1.6v1.6h-1.6zM518.66 268.44h1.6v1.6h-1.6zM518.66 262.30h1.6v1.6h-1.6zM518.66 256.17h1.6v1.6h-1.6zM518.66 250.03h1.6v1.6h-1.6zM518.66 243.89h1.6v1.6h-1.6zM518.66 237.75h1.6v1.6h-1.6zM518.66 231.61h1.6v1.6h-1.6zM518.66 225.48h1.6v1.6h-1.6zM518.66 219.34h1.6v1.6h-1.6zM518.66 213.20h1.6v1.6h-1.6zM518.66 207.06h1.6v1.6h-1.6zM518.66 200.92h1.6v1.6h-1.6zM518.66 194.79h1.6v1.6h-1.6zM518.66 188.65h1.6v1.6h-1.6zM518.66 182.51h1.6v1.6h-1.6zM518.66 176.37h1.6v1.6h-1.6zM518.66 170.23h1.6v1.6h-1.6zM518.66 164.10h1.6v1.6h-1.6zM518.66 157.96h1.6v1.6h-1.6zM518.66 151.82h1.6v1.6h-1.6zM518.66 145.68h1.6v1.6h-1.6zM518.66 139.54h1.6v1.6h-1.6zM518.66 133.41h1.6v1.6h-1.6zM518.66 127.27h1.6v1.6h-1.6zM518.66 121.13h1.6v1.6h-1.6zM518.66 114.99h1.6v1.6h-1.6zM518.66 108.85h1.6v1.6h-1.6zM518.66 102.72h1.6v1.6h-1.6zM518.66 96.58h1.6v1.6h-1.6zM518.66 90.44h1.6v1.6h-1.6zM518.66 84.30h1.6v1.6h-1.6zM518.66 78.16h1.6v1.6h-1.6zM518.66 72.03h1.6v1.6h-1.6zM518.66 65.89h1.6v1.6h-1.6zM518.66 59.75h1.6v1.6h-1.6zM518.66 53.61h1.6v1.6h-1.6zM518.66 47.47h1.6v1.6h-1.6zM518.66 41.34h1.6v1.6h-1.6zM518.66 35.20h1.6v1.6h-1.6zM518.66 29.06h1.6v1.6h-1.6zM518.66 22.92h1.6v1.6h-1.6zM518.66 16.78h1.6v1.6h-1.6zM530.07 642.86h1.6v1.6h-1.6zM530.07 636.72h1.6v1.6h-1.6zM530.07 630.58h1.6v1.6h-1.6zM530.07 624.45h1.6v1.6h-1.6zM530.07 618.31h1.6v1.6h-1.6zM530.07 612.17h1.6v1.6h-1.6zM530.07 606.03h1.6v1.6h-1.6zM530.07 599.89h1.6v1.6h-1.6zM530.07 593.76h1.6v1.6h-1.6zM530.07 587.62h1.6v1.6h-1.6zM530.07 581.48h1.6v1.6h-1.6zM530.07 575.34h1.6v1.6h-1.6zM530.07 569.20h1.6v1.6h-1.6zM530.07 563.07h1.6v1.6h-1.6zM530.07 556.93h1.6v1.6h-1.6zM530.07 550.79h1.6v1.6h-1.6zM530.07 544.65h1.6v1.6h-1.6zM530.07 538.51h1.6v1.6h-1.6zM530.07 532.38h1.6v1.6h-1.6zM530.07 526.24h1.6v1.6h-1.6zM530.07 520.10h1.6v1.6h-1.6zM530.07 513.96h1.6v1.6h-1.6zM530.07 507.82h1.6v1.6h-1.6zM530.07 501.69h1.6v1.6h-1.6zM530.07 495.55h1.6v1.6h-1.6zM530.07 489.41h1.6v1.6h-1.6zM530.07 483.27h1.6v1.6h-1.6zM530.07 477.13h1.6v1.6h-1.6zM530.07 471.00h1.6v1.6h-1.6zM530.07 464.86h1.6v1.6h-1.6zM530.07 458.72h1.6v1.6h-1.6zM530.07 452.58h1.6v1.6h-1.6zM530.07 446.44h1.6v1.6h-1.6zM530.07 440.31h1.6v1.6h-1.6zM530.07 434.17h1.6v1.6h-1.6zM530.07 428.03h1.6v1.6h-1.6zM530.07 421.89h1.6v1.6h-1.6zM530.07 415.75h1.6v1.6h-1.6zM530.07 409.62h1.6v1.6h-1.6zM530.07 403.48h1.6v1.6h-1.6zM530.07 397.34h1.6v1.6h-1.6zM530.07 391.20h1.6v1.6h-1.6zM530.07 385.06h1.6v1.6h-1.6zM530.07 378.93h1.6v1.6h-1.6zM530.07 372.79h1.6v1.6h-1.6zM530.07 366.65h1.6v1.6h-1.6zM530.07 360.51h1.6v1.6h-1.6zM530.07 354.37h1.6v1.6h-1.6zM530.07 348.24h1.6v1.6h-1.6zM530.07 342.10h1.6v1.6h-1.6zM530.07 335.96h1.6v1.6h-1.6zM530.07 329.82h1.6v1.6h-1.6zM530.07 323.68h1.6v1.6h-1.6zM530.07 317.55h1.6v1.6h-1.6zM530.07 311.41h1.6v1.6h-1.6zM530.07 305.27h1.6v1.6h-1.6zM530.07 299.13h1.6v1.6h-1.6zM530.07 292.99h1.6v1.6h-1.6zM530.07 286.86h1.6v1.6h-1.6zM530.07 280.72h1.6v1.6h-1.6zM530.07 274.58h1.6v1.6h-1.6zM530.07 268.44h1.6v1.6h-1.6zM530.07 262.30h1.6v1.6h-1.6zM530.07 256.17h1.6v1.6h-1.6zM530.07 250.03h1.6v1.6h-1.6zM530.07 243.89h1.6v1.6h-1.6zM530.07 237.75h1.6v1.6h-1.6zM530.07 231.61h1.6v1.6h-1.6zM530.07 225.48h1.6v1.6h-1.6zM530.07 219.34h1.6v1.6h-1.6zM530.07 213.20h1.6v1.6h-1.6zM530.07 207.06h1.6v1.6h-1.6zM530.07 200.92h1.6v1.6h-1.6zM530.07 194.79h1.6v1.6h-1.6zM530.07 188.65h1.6v1.6h-1.6zM530.07 182.51h1.6v1.6h-1.6zM530.07 176.37h1.6v1.6h-1.6zM530.07 170.23h1.6v1.6h-1.6zM530.07 164.10h1.6v1.6h-1.6zM530.07 157.96h1.6v1.6h-1.6zM530.07 151.82h1.6v1.6h-1.6zM530.07 145.68h1.6v1.6h-1.6zM530.07 139.54h1.6v1.6h-1.6zM530.07 133.41h1.6v1.6h-1.6zM530.07 127.27h1.6v1.6h-1.6zM530.07 121.13h1.6v1.6h-1.6zM530.07 114.99h1.6v1.6h-1.6zM530.07 108.85h1.6v1.6h-1.6zM530.07 102.72h1.6v1.6h-1.6zM530.07 96.58h1.6v1.6h-1.6zM530.07 90.44h1.6v1.6h-1.6zM530.07 84.30h1.6v1.6h-1.6zM530.07 78.16h1.6v1.6h-1.6zM530.07 72.03h1.6v1.6h-1.6zM530.07 65.89h1.6v1.6h-1.6zM530.07 59.75h1.6v1.6h-1.6zM530.07 53.61h1.6v1.6h-1.6zM530.07 47.47h1.6v1.6h-1.6zM530.07 41.34h1.6v1.6h-1.6zM530.07 35.20h1.6v1.6h-1.6zM530.07 29.06h1.6v1.6h-1.6zM530.07 22.92h1.6v1.6h-1.6zM530.07 16.78h1.6v1.6h-1.6zM540.14 642.86h1.6v1.6h-1.6zM540.14 636.72h1.6v1.6h-1.6zM540.14 630.58h1.6v1.6h-1.6zM540.14 624.45h1.6v1.6h-1.6zM540.14 618.31h1.6v1.6h-1.6zM540.14 612.17h1.6v1.6h-1.6zM540.14 606.03h1.6v1.6h-1.6zM540.14 599.89h1.6v1.6h-1.6zM540.14 593.76h1.6v1.6h-1.6zM540.14 587.62h1.6v1.6h-1.6zM540.14 581.48h1.6v1.6h-1.6zM540.14 575.34h1.6v1.6h-1.6zM540.14 569.20h1.6v1.6h-1.6zM540.14 563.07h1.6v1.6h-1.6zM540.14 556.93h1.6v1.6h-1.6zM540.14 550.79h1.6v1.6h-1.6zM540.14 544.65h1.6v1.6h-1.6zM540.14 538.51h1.6v1.6h-1.6zM540.14 532.38h1.6v1.6h-1.6zM540.14 526.24h1.6v1.6h-1.6zM540.14 520.10h1.6v1.6h-1.6zM540.14 513.96h1.6v1.6h-1.6zM540.14 507.82h1.6v1.6h-1.6zM540.14 501.69h1.6v1.6h-1.6zM540.14 495.55h1.6v1.6h-1.6zM540.14 489.41h1.6v1.6h-1.6zM540.14 483.27h1.6v1.6h-1.6zM540.14 477.13h1.6v1.6h-1.6zM540.14 471.00h1.6v1.6h-1.6zM540.14 464.86h1.6v1.6h-1.6zM540.14 458.72h1.6v1.6h-1.6zM540.14 452.58h1.6v1.6h-1.6zM540.14 446.44h1.6v1.6h-1.6zM540.14 440.31h1.6v1.6h-1.6zM540.14 434.17h1.6v1.6h-1.6zM540.14 428.03h1.6v1.6h-1.6zM540.14 421.89h1.6v1.6h-1.6zM540.14 415.75h1.6v1.6h-1.6zM540.14 409.62h1.6v1.6h-1.6zM540.14 403.48h1.6v1.6h-1.6zM540.14 397.34h1.6v1.6h-1.6zM540.14 391.20h1.6v1.6h-1.6zM540.14 385.06h1.6v1.6h-1.6zM540.14 378.93h1.6v1.6h-1.6zM540.14 372.79h1.6v1.6h-1.6zM540.14 366.65h1.6v1.6h-1.6zM540.14 360.51h1.6v1.6h-1.6zM540.14 354.37h1.6v1.6h-1.6zM540.14 348.24h1.6v1.6h-1.6zM540.14 342.10h1.6v1.6h-1.6zM540.14 335.96h1.6v1.6h-1.6zM540.14 329.82h1.6v1.6h-1.6zM540.14 323.68h1.6v1.6h-1.6zM540.14 317.55h1.6v1.6h-1.6zM540.14 311.41h1.6v1.6h-1.6zM540.14 305.27h1.6v1.6h-1.6zM540.14 299.13h1.6v1.6h-1.6zM540.14 292.99h1.6v1.6h-1.6zM540.14 286.86h1.6v1.6h-1.6zM540.14 280.72h1.6v1.6h-1.6zM540.14 274.58h1.6v1.6h-1.6zM540.14 268.44h1.6v1.6h-1.6zM540.14 262.30h1.6v1.6h-1.6zM540.14 256.17h1.6v1.6h-1.6zM540.14 250.03h1.6v1.6h-1.6zM540.14 243.89h1.6v1.6h-1.6zM540.14 237.75h1.6v1.6h-1.6zM540.14 231.61h1.6v1.6h-1.6zM540.14 225.48h1.6v1.6h-1.6zM540.14 219.34h1.6v1.6h-1.6zM540.14 213.20h1.6v1.6h-1.6zM540.14 207.06h1.6v1.6h-1.6zM540.14 200.92h1.6v1.6h-1.6zM540.14 194.79h1.6v1.6h-1.6zM540.14 188.65h1.6v1.6h-1.6zM540.14 182.51h1.6v1.6h-1.6zM540.14 176.37h1.6v1.6h-1.6zM540.14 170.23h1.6v1.6h-1.6zM540.14 164.10h1.6v1.6h-1.6zM540.14 157.96h1.6v1.6h-1.6zM540.14 151.82h1.6v1.6h-1.6zM540.14 145.68h1.6v1.6h-1.6zM540.14 139.54h1.6v1.6h-1.6zM540.14 133.41h1.6v1.6h-1.6zM540.14 127.27h1.6v1.6h-1.6zM540.14 121.13h1.6v1.6h-1.6zM540.14 114.99h1.6v1.6h-1.6zM540.14 108.85h1.6v1.6h-1.6zM540.14 102.72h1.6v1.6h-1.6zM540.14 96.58h1.6v1.6h-1.6zM540.14 90.44h1.6v1.6h-1.6zM540.14 84.30h1.6v1.6h-1.6zM540.14 78.16h1.6v1.6h-1.6zM540.14 72.03h1.6v1.6h-1.6zM540.14 65.89h1.6v1.6h-1.6zM540.14 59.75h1.6v1.6h-1.6zM540.14 53.61h1.6v1.6h-1.6zM540.14 47.47h1.6v1.6h-1.6zM540.14 41.34h1.6v1.6h-1.6zM540.14 35.20h1.6v1.6h-1.6zM540.14 29.06h1.6v1.6h-1.6zM540.14 22.92h1.6v1.6h-1.6zM540.14 16.78h1.6v1.6h-1.6zM608.39 642.86h1.6v1.6h-1.6zM608.39 636.72h1.6v1.6h-1.6zM608.39 630.58h1.6v1.6h-1.6zM608.39 624.45h1.6v1.6h-1.6zM608.39 618.31h1.6v1.6h-1.6zM608.39 612.17h1.6v1.6h-1.6zM608.39 606.03h1.6v1.6h-1.6zM608.39 599.89h1.6v1.6h-1.6zM608.39 593.76h1.6v1.6h-1.6zM608.39 587.62h1.6v1.6h-1.6zM608.39 581.48h1.6v1.6h-1.6zM608.39 575.34h1.6v1.6h-1.6zM608.39 569.20h1.6v1.6h-1.6zM608.39 563.07h1.6v1.6h-1.6zM608.39 556.93h1.6v1.6h-1.6zM608.39 550.79h1.6v1.6h-1.6zM608.39 544.65h1.6v1.6h-1.6zM608.39 538.51h1.6v1.6h-1.6zM608.39 532.38h1.6v1.6h-1.6zM608.39 526.24h1.6v1.6h-1.6zM608.39 520.10h1.6v1.6h-1.6zM608.39 513.96h1.6v1.6h-1.6zM608.39 507.82h1.6v1.6h-1.6zM608.39 501.69h1.6v1.6h-1.6zM608.39 495.55h1.6v1.6h-1.6zM608.39 489.41h1.6v1.6h-1.6zM608.39 483.27h1.6v1.6h-1.6zM608.39 477.13h1.6v1.6h-1.6zM608.39 471.00h1.6v1.6h-1.6zM608.39 464.86h1.6v1.6h-1.6zM608.39 458.72h1.6v1.6h-1.6zM608.39 452.58h1.6v1.6h-1.6zM608.39 446.44h1.6v1.6h-1.6zM608.39 440.31h1.6v1.6h-1.6zM608.39 434.17h1.6v1.6h-1.6zM608.39 428.03h1.6v1.6h-1.6zM608.39 421.89h1.6v1.6h-1.6zM608.39 415.75h1.6v1.6h-1.6zM608.39 409.62h1.6v1.6h-1.6zM608.39 403.48h1.6v1.6h-1.6zM608.39 397.34h1.6v1.6h-1.6zM608.39 391.20h1.6v1.6h-1.6zM608.39 385.06h1.6v1.6h-1.6zM608.39 378.93h1.6v1.6h-1.6zM608.39 372.79h1.6v1.6h-1.6zM608.39 366.65h1.6v1.6h-1.6zM608.39 360.51h1.6v1.6h-1.6zM608.39 354.37h1.6v1.6h-1.6zM608.39 348.24h1.6v1.6h-1.6zM608.39 342.10h1.6v1.6h-1.6zM608.39 335.96h1.6v1.6h-1.6zM608.39 329.82h1.6v1.6h-1.6zM608.39 323.68h1.6v1.6h-1.6zM608.39 317.55h1.6v1.6h-1.6zM608.39 311.41h1.6v1.6h-1.6zM608.39 305.27h1.6v1.6h-1.6zM608.39 299.13h1.6v1.6h-1.6zM608.39 292.99h1.6v1.6h-1.6zM608.39 286.86h1.6v1.6h-1.6zM608.39 280.72h1.6v1.6h-1.6zM608.39 274.58h1.6v1.6h-1.6zM608.39 268.44h1.6v1.6h-1.6zM608.39 262.30h1.6v1.6h-1.6zM608.39 256.17h1.6v1.6h-1.6zM608.39 250.03h1.6v1.6h-1.6zM608.39 243.89h1.6v1.6h-1.6zM608.39 237.75h1.6v1.6h-1.6zM608.39 231.61h1.6v1.6h-1.6zM608.39 225.48h1.6v1.6h-1.6zM608.39 219.34h1.6v1.6h-1.6zM608.39 213.20h1.6v1.6h-1.6zM608.39 207.06h1.6v1.6h-1.6zM608.39 200.92h1.6v1.6h-1.6zM608.39 194.79h1.6v1.6h-1.6zM608.39 188.65h1.6v1.6h-1.6zM608.39 182.51h1.6v1.6h-1.6zM608.39 176.37h1.6v1.6h-1.6zM608.39 170.23h1.6v1.6h-1.6zM608.39 164.10h1.6v1.6h-1.6zM608.39 157.96h1.6v1.6h-1.6zM608.39 151.82h1.6v1.6h-1.6zM608.39 145.68h1.6v1.6h-1.6zM608.39 139.54h1.6v1.6h-1.6zM608.39 133.41h1.6v1.6h-1.6zM608.39 127.27h1.6v1.6h-1.6zM608.39 121.13h1.6v1.6h-1.6zM608.39 114.99h1.6v1.6h-1.6zM608.39 108.85h1.6v1.6h-1.6zM608.39 102.72h1.6v1.6h-1.6zM608.39 96.58h1.6v1.6h-1.6zM608.39 90.44h1.6v1.6h-1.6zM608.39 84.30h1.6v1.6h-1.6zM608.39 78.16h1.6v1.6h-1.6zM608.39 72.03h1.6v1.6h-1.6zM608.39 65.89h1.6v1.6h-1.6zM608.39 59.75h1.6v1.6h-1.6zM608.39 53.61h1.6v1.6h-1.6zM608.39 47.47h1.6v1.6h-1.6zM608.39 41.34h1.6v1.6h-1.6zM608.39 35.20h1.6v1.6h-1.6zM608.39 29.06h1.6v1.6h-1.6zM608.39 22.92h1.6v1.6h-1.6zM608.39 16.78h1.6v1.6h-1.6zM643.04 642.86h1.6v1.6h-1.6zM643.04 636.72h1.6v1.6h-1.6zM643.04 630.58h1.6v1.6h-1.6zM643.04 624.45h1.6v1.6h-1.6zM643.04 618.31h1.6v1.6h-1.6zM643.04 612.17h1.6v1.6h-1.6zM643.04 606.03h1.6v1.6h-1.6zM643.04 599.89h1.6v1.6h-1.6zM643.04 593.76h1.6v1.6h-1.6zM643.04 587.62h1.6v1.6h-1.6zM643.04 581.48h1.6v1.6h-1.6zM643.04 575.34h1.6v1.6h-1.6zM643.04 569.20h1.6v1.6h-1.6zM643.04 563.07h1.6v1.6h-1.6zM643.04 556.93h1.6v1.6h-1.6zM643.04 550.79h1.6v1.6h-1.6zM643.04 544.65h1.6v1.6h-1.6zM643.04 538.51h1.6v1.6h-1.6zM643.04 532.38h1.6v1.6h-1.6zM643.04 526.24h1.6v1.6h-1.6zM643.04 520.10h1.6v1.6h-1.6zM643.04 513.96h1.6v1.6h-1.6zM643.04 507.82h1.6v1.6h-1.6zM643.04 501.69h1.6v1.6h-1.6zM643.04 495.55h1.6v1.6h-1.6zM643.04 489.41h1.6v1.6h-1.6zM643.04 483.27h1.6v1.6h-1.6zM643.04 477.13h1.6v1.6h-1.6zM643.04 471.00h1.6v1.6h-1.6zM643.04 464.86h1.6v1.6h-1.6zM643.04 458.72h1.6v1.6h-1.6zM643.04 452.58h1.6v1.6h-1.6zM643.04 446.44h1.6v1.6h-1.6zM643.04 440.31h1.6v1.6h-1.6zM643.04 434.17h1.6v1.6h-1.6zM643.04 428.03h1.6v1.6h-1.6zM643.04 421.89h1.6v1.6h-1.6zM643.04 415.75h1.6v1.6h-1.6zM643.04 409.62h1.6v1.6h-1.6zM643.04 403.48h1.6v1.6h-1.6zM643.04 397.34h1.6v1.6h-1.6zM643.04 391.20h1.6v1.6h-1.6zM643.04 385.06h1.6v1.6h-1.6zM643.04 378.93h1.6v1.6h-1.6zM643.04 372.79h1.6v1.6h-1.6zM643.04 366.65h1.6v1.6h-1.6zM643.04 360.51h1.6v1.6h-1.6zM643.04 354.37h1.6v1.6h-1.6zM643.04 348.24h1.6v1.6h-1.6zM643.04 342.10h1.6v1.6h-1.6zM643.04 335.96h1.6v1.6h-1.6zM643.04 329.82h1.6v1.6h-1.6zM643.04 323.68h1.6v1.6h-1.6zM643.04 317.55h1.6v1.6h-1.6zM643.04 311.41h1.6v1.6h-1.6zM643.04 305.27h1.6v1.6h-1.6zM643.04 299.13h1.6v1.6h-1.6zM643.04 292.99h1.6v1.6h-1.6zM643.04 286.86h1.6v1.6h-1.6zM643.04 280.72h1.6v1.6h-1.6zM643.04 274.58h1.6v1.6h-1.6zM643.04 268.44h1.6v1.6h-1.6zM643.04 262.30h1.6v1.6h-1.6zM643.04 256.17h1.6v1.6h-1.6zM643.04 250.03h1.6v1.6h-1.6zM643.04 243.89h1.6v1.6h-1.6zM643.04 237.75h1.6v1.6h-1.6zM643.04 231.61h1.6v1.6h-1.6zM643.04 225.48h1.6v1.6h-1.6zM643.04 219.34h1.6v1.6h-1.6zM643.04 213.20h1.6v1.6h-1.6zM643.04 207.06h1.6v1.6h-1.6zM643.04 200.92h1.6v1.6h-1.6zM643.04 194.79h1.6v1.6h-1.6zM643.04 188.65h1.6v1.6h-1.6zM643.04 182.51h1.6v1.6h-1.6zM643.04 176.37h1.6v1.6h-1.6zM643.04 170.23h1.6v1.6h-1.6zM643.04 164.10h1.6v1.6h-1.6zM643.04 157.96h1.6v1.6h-1.6zM643.04 151.82h1.6v1.6h-1.6zM643.04 145.68h1.6v1.6h-1.6zM643.04 139.54h1.6v1.6h-1.6zM643.04 133.41h1.6v1.6h-1.6zM643.04 127.27h1.6v1.6h-1.6zM643.04 121.13h1.6v1.6h-1.6zM643.04 114.99h1.6v1.6h-1.6zM643.04 108.85h1.6v1.6h-1.6zM643.04 102.72h1.6v1.6h-1.6zM643.04 96.58h1.6v1.6h-1.6zM643.04 90.44h1.6v1.6h-1.6zM643.04 84.30h1.6v1.6h-1.6zM643.04 78.16h1.6v1.6h-1.6zM643.04 72.03h1.6v1.6h-1.6zM643.04 65.89h1.6v1.6h-1.6zM643.04 59.75h1.6v1.6h-1.6zM643.04 53.61h1.6v1.6h-1.6zM643.04 47.47h1.6v1.6h-1.6zM643.04 41.34h1.6v1.6h-1.6zM643.04 35.20h1.6v1.6h-1.6zM643.04 29.06h1.6v1.6h-1.6zM643.04 22.92h1.6v1.6h-1.6zM643.04 16.78h1.6v1.6h-1.6zM667.63 642.86h1.6v1.6h-1.6zM667.63 636.72h1.6v1.6h-1.6zM667.63 630.58h1.6v1.6h-1.6zM667.63 624.45h1.6v1.6h-1.6zM667.63 618.31h1.6v1.6h-1.6zM667.63 612.17h1.6v1.6h-1.6zM667.63 606.03h1.6v1.6h-1.6zM667.63 599.89h1.6v1.6h-1.6zM667.63 593.76h1.6v1.6h-1.6zM667.63 587.62h1.6v1.6h-1.6zM667.63 581.48h1.6v1.6h-1.6zM667.63 575.34h1.6v1.6h-1.6zM667.63 569.20h1.6v1.6h-1.6zM667.63 563.07h1.6v1.6h-1.6zM667.63 556.93h1.6v1.6h-1.6zM667.63 550.79h1.6v1.6h-1.6zM667.63 544.65h1.6v1.6h-1.6zM667.63 538.51h1.6v1.6h-1.6zM667.63 532.38h1.6v1.6h-1.6zM667.63 526.24h1.6v1.6h-1.6zM667.63 520.10h1.6v1.6h-1.6zM667.63 513.96h1.6v1.6h-1.6zM667.63 507.82h1.6v1.6h-1.6zM667.63 501.69h1.6v1.6h-1.6zM667.63 495.55h1.6v1.6h-1.6zM667.63 489.41h1.6v1.6h-1.6zM667.63 483.27h1.6v1.6h-1.6zM667.63 477.13h1.6v1.6h-1.6zM667.63 471.00h1.6v1.6h-1.6zM667.63 464.86h1.6v1.6h-1.6zM667.63 458.72h1.6v1.6h-1.6zM667.63 452.58h1.6v1.6h-1.6zM667.63 446.44h1.6v1.6h-1.6zM667.63 440.31h1.6v1.6h-1.6zM667.63 434.17h1.6v1.6h-1.6zM667.63 428.03h1.6v1.6h-1.6zM667.63 421.89h1.6v1.6h-1.6zM667.63 415.75h1.6v1.6h-1.6zM667.63 409.62h1.6v1.6h-1.6zM667.63 403.48h1.6v1.6h-1.6zM667.63 397.34h1.6v1.6h-1.6zM667.63 391.20h1.6v1.6h-1.6zM667.63 385.06h1.6v1.6h-1.6zM667.63 378.93h1.6v1.6h-1.6zM667.63 372.79h1.6v1.6h-1.6zM667.63 366.65h1.6v1.6h-1.6zM667.63 360.51h1.6v1.6h-1.6zM667.63 354.37h1.6v1.6h-1.6zM667.63 348.24h1.6v1.6h-1.6zM667.63 342.10h1.6v1.6h-1.6zM667.63 335.96h1.6v1.6h-1.6zM667.63 329.82h1.6v1.6h-1.6zM667.63 323.68h1.6v1.6h-1.6zM667.63 317.55h1.6v1.6h-1.6zM667.63 311.41h1.6v1.6h-1.6zM667.63 305.27h1.6v1.6h-1.6zM667.63 299.13h1.6v1.6h-1.6zM667.63 292.99h1.6v1.6h-1.6zM667.63 286.86h1.6v1.6h-1.6zM667.63 280.72h1.6v1.6h-1.6zM667.63 274.58h1.6v1.6h-1.6zM667.63 268.44h1.6v1.6h-1.6zM667.63 262.30h1.6v1.6h-1.6zM667.63 256.17h1.6v1.6h-1.6zM667.63 250.03h1.6v1.6h-1.6zM667.63 243.89h1.6v1.6h-1.6zM667.63 237.75h1.6v1.6h-1.6zM667.63 231.61h1.6v1.6h-1.6zM667.63 225.48h1.6v1.6h-1.6zM667.63 219.34h1.6v1.6h-1.6zM667.63 213.20h1.6v1.6h-1.6zM667.63 207.06h1.6v1.6h-1.6zM667.63 200.92h1.6v1.6h-1.6zM667.63 194.79h1.6v1.6h-1.6zM667.63 188.65h1.6v1.6h-1.6zM667.63 182.51h1.6v1.6h-1.6zM667.63 176.37h1.6v1.6h-1.6zM667.63 170.23h1.6v1.6h-1.6zM667.63 164.10h1.6v1.6h-1.6zM667.63 157.96h1.6v1.6h-1.6zM667.63 151.82h1.6v1.6h-1.6zM667.63 145.68h1.6v1.6h-1.6zM667.63 139.54h1.6v1.6h-1.6zM667.63 133.41h1.6v1.6h-1.6zM667.63 127.27h1.6v1.6h-1.6zM667.63 121.13h1.6v1.6h-1.6zM667.63 114.99h1.6v1.6h-1.6zM667.63 108.85h1.6v1.6h-1.6zM667.63 102.72h1.6v1.6h-1.6zM667.63 96.58h1.6v1.6h-1.6zM667.63 90.44h1.6v1.6h-1.6zM667.63 84.30h1.6v1.6h-1.6zM667.63 78.16h1.6v1.6h-1.6zM667.63 72.03h1.6v1.6h-1.6zM667.63 65.89h1.6v1.6h-1.6zM667.63 59.75h1.6v1.6h-1.6zM667.63 53.61h1.6v1.6h-1.6zM667.63 47.47h1.6v1.6h-1.6zM667.63 41.34h1.6v1.6h-1.6zM667.63 35.20h1.6v1.6h-1.6zM667.63 29.06h1.6v1.6h-1.6zM667.63 22.92h1.6v1.6h-1.6zM667.63 16.78h1.6v1.6h-1.6zM686.70 642.86h1.6v1.6h-1.6zM686.70 636.72h1.6v1.6h-1.6zM686.70 630.58h1.6v1.6h-1.6zM686.70 624.45h1.6v1.6h-1.6zM686.70 618.31h1.6v1.6h-1.6zM686.70 612.17h1.6v1.6h-1.6zM686.70 606.03h1.6v1.6h-1.6zM686.70 599.89h1.6v1.6h-1.6zM686.70 593.76h1.6v1.6h-1.6zM686.70 587.62h1.6v1.6h-1.6zM686.70 581.48h1.6v1.6h-1.6zM686.70 575.34h1.6v1.6h-1.6zM686.70 569.20h1.6v1.6h-1.6zM686.70 563.07h1.6v1.6h-1.6zM686.70 556.93h1.6v1.6h-1.6zM686.70 550.79h1.6v1.6h-1.6zM686.70 544.65h1.6v1.6h-1.6zM686.70 538.51h1.6v1.6h-1.6zM686.70 532.38h1.6v1.6h-1.6zM686.70 526.24h1.6v1.6h-1.6zM686.70 520.10h1.6v1.6h-1.6zM686.70 513.96h1.6v1.6h-1.6zM686.70 507.82h1.6v1.6h-1.6zM686.70 501.69h1.6v1.6h-1.6zM686.70 495.55h1.6v1.6h-1.6zM686.70 489.41h1.6v1.6h-1.6zM686.70 483.27h1.6v1.6h-1.6zM686.70 477.13h1.6v1.6h-1.6zM686.70 471.00h1.6v1.6h-1.6zM686.70 464.86h1.6v1.6h-1.6zM686.70 458.72h1.6v1.6h-1.6zM686.70 452.58h1.6v1.6h-1.6zM686.70 446.44h1.6v1.6h-1.6zM686.70 440.31h1.6v1.6h-1.6zM686.70 434.17h1.6v1.6h-1.6zM686.70 428.03h1.6v1.6h-1.6zM686.70 421.89h1.6v1.6h-1.6zM686.70 415.75h1.6v1.6h-1.6zM686.70 409.62h1.6v1.6h-1.6zM686.70 403.48h1.6v1.6h-1.6zM686.70 397.34h1.6v1.6h-1.6zM686.70 391.20h1.6v1.6h-1.6zM686.70 385.06h1.6v1.6h-1.6zM686.70 378.93h1.6v1.6h-1.6zM686.70 372.79h1.6v1.6h-1.6zM686.70 366.65h1.6v1.6h-1.6zM686.70 360.51h1.6v1.6h-1.6zM686.70 354.37h1.6v1.6h-1.6zM686.70 348.24h1.6v1.6h-1.6zM686.70 342.10h1.6v1.6h-1.6zM686.70 335.96h1.6v1.6h-1.6zM686.70 329.82h1.6v1.6h-1.6zM686.70 323.68h1.6v1.6h-1.6zM686.70 317.55h1.6v1.6h-1.6zM686.70 311.41h1.6v1.6h-1.6zM686.70 305.27h1.6v1.6h-1.6zM686.70 299.13h1.6v1.6h-1.6zM686.70 292.99h1.6v1.6h-1.6zM686.70 286.86h1.6v1.6h-1.6zM686.70 280.72h1.6v1.6h-1.6zM686.70 274.58h1.6v1.6h-1.6zM686.70 268.44h1.6v1.6h-1.6zM686.70 262.30h1.6v1.6h-1.6zM686.70 256.17h1.6v1.6h-1.6zM686.70 250.03h1.6v1.6h-1.6zM686.70 243.89h1.6v1.6h-1.6zM686.70 237.75h1.6v1.6h-1.6zM686.70 231.61h1.6v1.6h-1.6zM686.70 225.48h1.6v1.6h-1.6zM686.70 219.34h1.6v1.6h-1.6zM686.70 213.20h1.6v1.6h-1.6zM686.70 207.06h1.6v1.6h-1.6zM686.70 200.92h1.6v1.6h-1.6zM686.70 194.79h1.6v1.6h-1.6zM686.70 188.65h1.6v1.6h-1.6zM686.70 182.51h1.6v1.6h-1.6zM686.70 176.37h1.6v1.6h-1.6zM686.70 170.23h1.6v1.6h-1.6zM686.70 164.10h1.6v1.6h-1.6zM686.70 157.96h1.6v1.6h-1.6zM686.70 151.82h1.6v1.6h-1.6zM686.70 145.68h1.6v1.6h-1.6zM686.70 139.54h1.6v1.6h-1.6zM686.70 133.41h1.6v1.6h-1.6zM686.70 127.27h1.6v1.6h-1.6zM686.70 121.13h1.6v1.6h-1.6zM686.70 114.99h1.6v1.6h-1.6zM686.70 108.85h1.6v1.6h-1.6zM686.70 102.72h1.6v1.6h-1.6zM686.70 96.58h1.6v1.6h-1.6zM686.70 90.44h1.6v1.6h-1.6zM686.70 84.30h1.6v1.6h-1.6zM686.70 78.16h1.6v1.6h-1.6zM686.70 72.03h1.6v1.6h-1.6zM686.70 65.89h1.6v1.6h-1.6zM686.70 59.75h1.6v1.6h-1.6zM686.70 53.61h1.6v1.6h-1.6zM686.70 47.47h1.6v1.6h-1.6zM686.70 41.34h1.6v1.6h-1.6zM686.70 35.20h1.6v1.6h-1.6zM686.70 29.06h1.6v1.6h-1.6zM686.70 22.92h1.6v1.6h-1.6zM686.70 16.78h1.6v1.6h-1.6zM702.28 642.86h1.6v1.6h-1.6zM702.28 636.72h1.6v1.6h-1.6zM702.28 630.58h1.6v1.6h-1.6zM702.28 624.45h1.6v1.6h-1.6zM702.28 618.31h1.6v1.6h-1.6zM702.28 612.17h1.6v1.6h-1.6zM702.28 606.03h1.6v1.6h-1.6zM702.28 599.89h1.6v1.6h-1.6zM702.28 593.76h1.6v1.6h-1.6zM702.28 587.62h1.6v1.6h-1.6zM702.28 581.48h1.6v1.6h-1.6zM702.28 575.34h1.6v1.6h-1.6zM702.28 569.20h1.6v1.6h-1.6zM702.28 563.07h1.6v1.6h-1.6zM702.28 556.93h1.6v1.6h-1.6zM702.28 550.79h1.6v1.6h-1.6zM702.28 544.65h1.6v1.6h-1.6zM702.28 538.51h1.6v1.6h-1.6zM702.28 532.38h1.6v1.6h-1.6zM702.28 526.24h1.6v1.6h-1.6zM702.28 520.10h1.6v1.6h-1.6zM702.28 513.96h1.6v1.6h-1.6zM702.28 507.82h1.6v1.6h-1.6zM702.28 501.69h1.6v1.6h-1.6zM702.28 495.55h1.6v1.6h-1.6zM702.28 489.41h1.6v1.6h-1.6zM702.28 483.27h1.6v1.6h-1.6zM702.28 477.13h1.6v1.6h-1.6zM702.28 471.00h1.6v1.6h-1.6zM702.28 464.86h1.6v1.6h-1.6zM702.28 458.72h1.6v1.6h-1.6zM702.28 452.58h1.6v1.6h-1.6zM702.28 446.44h1.6v1.6h-1.6zM702.28 440.31h1.6v1.6h-1.6zM702.28 434.17h1.6v1.6h-1.6zM702.28 428.03h1.6v1.6h-1.6zM702.28 421.89h1.6v1.6h-1.6zM702.28 415.75h1.6v1.6h-1.6zM702.28 409.62h1.6v1.6h-1.6zM702.28 403.48h1.6v1.6h-1.6zM702.28 397.34h1.6v1.6h-1.6zM702.28 391.20h1.6v1.6h-1.6zM702.28 385.06h1.6v1.6h-1.6zM702.28 378.93h1.6v1.6h-1.6zM702.28 372.79h1.6v1.6h-1.6zM702.28 366.65h1.6v1.6h-1.6zM702.28 360.51h1.6v1.6h-1.6zM702.28 354.37h1.6v1.6h-1.6zM702.28 348.24h1.6v1.6h-1.6zM702.28 342.10h1.6v1.6h-1.6zM702.28 335.96h1.6v1.6h-1.6zM702.28 329.82h1.6v1.6h-1.6zM702.28 323.68h1.6v1.6h-1.6zM702.28 317.55h1.6v1.6h-1.6zM702.28 311.41h1.6v1.6h-1.6zM702.28 305.27h1.6v1.6h-1.6zM702.28 299.13h1.6v1.6h-1.6zM702.28 292.99h1.6v1.6h-1.6zM702.28 286.86h1.6v1.6h-1.6zM702.28 280.72h1.6v1.6h-1.6zM702.28 274.58h1.6v1.6h-1.6zM702.28 268.44h1.6v1.6h-1.6zM702.28 262.30h1.6v1.6h-1.6zM702.28 256.17h1.6v1.6h-1.6zM702.28 250.03h1.6v1.6h-1.6zM702.28 243.89h1.6v1.6h-1.6zM702.28 237.75h1.6v1.6h-1.6zM702.28 231.61h1.6v1.6h-1.6zM702.28 225.48h1.6v1.6h-1.6zM702.28 219.34h1.6v1.6h-1.6zM702.28 213.20h1.6v1.6h-1.6zM702.28 207.06h1.6v1.6h-1.6zM702.28 200.92h1.6v1.6h-1.6zM702.28 194.79h1.6v1.6h-1.6zM702.28 188.65h1.6v1.6h-1.6zM702.28 182.51h1.6v1.6h-1.6zM702.28 176.37h1.6v1.6h-1.6zM702.28 170.23h1.6v1.6h-1.6zM702.28 164.10h1.6v1.6h-1.6zM702.28 157.96h1.6v1.6h-1.6zM702.28 151.82h1.6v1.6h-1.6zM702.28 145.68h1.6v1.6h-1.6zM702.28 139.54h1.6v1.6h-1.6zM702.28 133.41h1.6v1.6h-1.6zM702.28 127.27h1.6v1.6h-1.6zM702.28 121.13h1.6v1.6h-1.6zM702.28 114.99h1.6v1.6h-1.6zM702.28 108.85h1.6v1.6h-1.6zM702.28 102.72h1.6v1.6h-1.6zM702.28 96.58h1.6v1.6h-1.6zM702.28 90.44h1.6v1.6h-1.6zM702.28 84.30h1.6v1.6h-1.6zM702.28 78.16h1.6v1.6h-1.6zM702.28 72.03h1.6v1.6h-1.6zM702.28 65.89h1.6v1.6h-1.6zM702.28 59.75h1.6v1.6h-1.6zM702.28 53.61h1.6v1.6h-1.6zM702.28 47.47h1.6v1.6h-1.6zM702.28 41.34h1.6v1.6h-1.6zM702.28 35.20h1.6v1.6h-1.6zM702.28 29.06h1.6v1.6h-1.6zM702.28 22.92h1.6v1.6h-1.6zM702.28 16.78h1.6v1.6h-1.6zM715.46 642.86h1.6v1.6h-1.6zM715.46 636.72h1.6v1.6h-1.6zM715.46 630.58h1.6v1.6h-1.6zM715.46 624.45h1.6v1.6h-1.6zM715.46 618.31h1.6v1.6h-1.6zM715.46 612.17h1.6v1.6h-1.6zM715.46 606.03h1.6v1.6h-1.6zM715.46 599.89h1.6v1.6h-1.6zM715.46 593.76h1.6v1.6h-1.6zM715.46 587.62h1.6v1.6h-1.6zM715.46 581.48h1.6v1.6h-1.6zM715.46 575.34h1.6v1.6h-1.6zM715.46 569.20h1.6v1.6h-1.6zM715.46 563.07h1.6v1.6h-1.6zM715.46 556.93h1.6v1.6h-1.6zM715.46 550.79h1.6v1.6h-1.6zM715.46 544.65h1.6v1.6h-1.6zM715.46 538.51h1.6v1.6h-1.6zM715.46 532.38h1.6v1.6h-1.6zM715.46 526.24h1.6v1.6h-1.6zM715.46 520.10h1.6v1.6h-1.6zM715.46 513.96h1.6v1.6h-1.6zM715.46 507.82h1.6v1.6h-1.6zM715.46 501.69h1.6v1.6h-1.6zM715.46 495.55h1.6v1.6h-1.6zM715.46 489.41h1.6v1.6h-1.6zM715.46 483.27h1.6v1.6h-1.6zM715.46 477.13h1.6v1.6h-1.6zM715.46 471.00h1.6v1.6h-1.6zM715.46 464.86h1.6v1.6h-1.6zM715.46 458.72h1.6v1.6h-1.6zM715.46 452.58h1.6v1.6h-1.6zM715.46 446.44h1.6v1.6h-1.6zM715.46 440.31h1.6v1.6h-1.6zM715.46 434.17h1.6v1.6h-1.6zM715.46 428.03h1.6v1.6h-1.6zM715.46 421.89h1.6v1.6h-1.6zM715.46 415.75h1.6v1.6h-1.6zM715.46 409.62h1.6v1.6h-1.6zM715.46 403.48h1.6v1.6h-1.6zM715.46 397.34h1.6v1.6h-1.6zM715.46 391.20h1.6v1.6h-1.6zM715.46 385.06h1.6v1.6h-1.6zM715.46 378.93h1.6v1.6h-1.6zM715.46 372.79h1.6v1.6h-1.6zM715.46 366.65h1.6v1.6h-1.6zM715.46 360.51h1.6v1.6h-1.6zM715.46 354.37h1.6v1.6h-1.6zM715.46 348.24h1.6v1.6h-1.6zM715.46 342.10h1.6v1.6h-1.6zM715.46 335.96h1.6v1.6h-1.6zM715.46 329.82h1.6v1.6h-1.6zM715.46 323.68h1.6v1.6h-1.6zM715.46 317.55h1.6v1.6h-1.6zM715.46 311.41h1.6v1.6h-1.6zM715.46 305.27h1.6v1.6h-1.6zM715.46 299.13h1.6v1.6h-1.6zM715.46 292.99h1.6v1.6h-1.6zM715.46 286.86h1.6v1.6h-1.6zM715.46 280.72h1.6v1.6h-1.6zM715.46 274.58h1.6v1.6h-1.6zM715.46 268.44h1.6v1.6h-1.6zM715.46 262.30h1.6v1.6h-1.6zM715.46 256.17h1.6v1.6h-1.6zM715.46 250.03h1.6v1.6h-1.6zM715.46 243.89h1.6v1.6h-1.6zM715.46 237.75h1.6v1.6h-1.6zM715.46 231.61h1.6v1.6h-1.6zM715.46 225.48h1.6v1.6h-1.6zM715.46 219.34h1.6v1.6h-1.6zM715.46 213.20h1.6v1.6h-1.6zM715.46 207.06h1.6v1.6h-1.6zM715.46 200.92h1.6v1.6h-1.6zM715.46 194.79h1.6v1.6h-1.6zM715.46 188.65h1.6v1.6h-1.6zM715.46 182.51h1.6v1.6h-1.6zM715.46 176.37h1.6v1.6h-1.6zM715.46 170.23h1.6v1.6h-1.6zM715.46 164.10h1.6v1.6h-1.6zM715.46 157.96h1.6v1.6h-1.6zM715.46 151.82h1.6v1.6h-1.6zM715.46 145.68h1.6v1.6h-1.6zM715.46 139.54h1.6v1.6h-1.6zM715.46 133.41h1.6v1.6h-1.6zM715.46 127.27h1.6v1.6h-1.6zM715.46 121.13h1.6v1.6h-1.6zM715.46 114.99h1.6v1.6h-1.6zM715.46 108.85h1.6v1.6h-1.6zM715.46 102.72h1.6v1.6h-1.6zM715.46 96.58h1.6v1.6h-1.6zM715.46 90.44h1.6v1.6h-1.6zM715.46 84.30h1.6v1.6h-1.6zM715.46 78.16h1.6v1.6h-1.6zM715.46 72.03h1.6v1.6h-1.6zM715.46 65.89h1.6v1.6h-1.6zM715.46 59.75h1.6v1.6h-1.6zM715.46 53.61h1.6v1.6h-1.6zM715.46 47.47h1.6v1.6h-1.6zM715.46 41.34h1.6v1.6h-1.6zM715.46 35.20h1.6v1.6h-1.6zM715.46 29.06h1.6v1.6h-1.6zM715.46 22.92h1.6v1.6h-1.6zM715.46 16.78h1.6v1.6h-1.6zM726.87 642.86h1.6v1.6h-1.6zM726.87 636.72h1.6v1.6h-1.6zM726.87 630.58h1.6v1.6h-1.6zM726.87 624.45h1.6v1.6h-1.6zM726.87 618.31h1.6v1.6h-1.6zM726.87 612.17h1.6v1.6h-1.6zM726.87 606.03h1.6v1.6h-1.6zM726.87 599.89h1.6v1.6h-1.6zM726.87 593.76h1.6v1.6h-1.6zM726.87 587.62h1.6v1.6h-1.6zM726.87 581.48h1.6v1.6h-1.6zM726.87 575.34h1.6v1.6h-1.6zM726.87 569.20h1.6v1.6h-1.6zM726.87 563.07h1.6v1.6h-1.6zM726.87 556.93h1.6v1.6h-1.6zM726.87 550.79h1.6v1.6h-1.6zM726.87 544.65h1.6v1.6h-1.6zM726.87 538.51h1.6v1.6h-1.6zM726.87 532.38h1.6v1.6h-1.6zM726.87 526.24h1.6v1.6h-1.6zM726.87 520.10h1.6v1.6h-1.6zM726.87 513.96h1.6v1.6h-1.6zM726.87 507.82h1.6v1.6h-1.6zM726.87 501.69h1.6v1.6h-1.6zM726.87 495.55h1.6v1.6h-1.6zM726.87 489.41h1.6v1.6h-1.6zM726.87 483.27h1.6v1.6h-1.6zM726.87 477.13h1.6v1.6h-1.6zM726.87 471.00h1.6v1.6h-1.6zM726.87 464.86h1.6v1.6h-1.6zM726.87 458.72h1.6v1.6h-1.6zM726.87 452.58h1.6v1.6h-1.6zM726.87 446.44h1.6v1.6h-1.6zM726.87 440.31h1.6v1.6h-1.6zM726.87 434.17h1.6v1.6h-1.6zM726.87 428.03h1.6v1.6h-1.6zM726.87 421.89h1.6v1.6h-1.6zM726.87 415.75h1.6v1.6h-1.6zM726.87 409.62h1.6v1.6h-1.6zM726.87 403.48h1.6v1.6h-1.6zM726.87 397.34h1.6v1.6h-1.6zM726.87 391.20h1.6v1.6h-1.6zM726.87 385.06h1.6v1.6h-1.6zM726.87 378.93h1.6v1.6h-1.6zM726.87 372.79h1.6v1.6h-1.6zM726.87 366.65h1.6v1.6h-1.6zM726.87 360.51h1.6v1.6h-1.6zM726.87 354.37h1.6v1.6h-1.6zM726.87 348.24h1.6v1.6h-1.6zM726.87 342.10h1.6v1.6h-1.6zM726.87 335.96h1.6v1.6h-1.6zM726.87 329.82h1.6v1.6h-1.6zM726.87 323.68h1.6v1.6h-1.6zM726.87 317.55h1.6v1.6h-1.6zM726.87 311.41h1.6v1.6h-1.6zM726.87 305.27h1.6v1.6h-1.6zM726.87 299.13h1.6v1.6h-1.6zM726.87 292.99h1.6v1.6h-1.6zM726.87 286.86h1.6v1.6h-1.6zM726.87 280.72h1.6v1.6h-1.6zM726.87 274.58h1.6v1.6h-1.6zM726.87 268.44h1.6v1.6h-1.6zM726.87 262.30h1.6v1.6h-1.6zM726.87 256.17h1.6v1.6h-1.6zM726.87 250.03h1.6v1.6h-1.6zM726.87 243.89h1.6v1.6h-1.6zM726.87 237.75h1.6v1.6h-1.6zM726.87 231.61h1.6v1.6h-1.6zM726.87 225.48h1.6v1.6h-1.6zM726.87 219.34h1.6v1.6h-1.6zM726.87 213.20h1.6v1.6h-1.6zM726.87 207.06h1.6v1.6h-1.6zM726.87 200.92h1.6v1.6h-1.6zM726.87 194.79h1.6v1.6h-1.6zM726.87 188.65h1.6v1.6h-1.6zM726.87 182.51h1.6v1.6h-1.6zM726.87 176.37h1.6v1.6h-1.6zM726.87 170.23h1.6v1.6h-1.6zM726.87 164.10h1.6v1.6h-1.6zM726.87 157.96h1.6v1.6h-1.6zM726.87 151.82h1.6v1.6h-1.6zM726.87 145.68h1.6v1.6h-1.6zM726.87 139.54h1.6v1.6h-1.6zM726.87 133.41h1.6v1.6h-1.6zM726.87 127.27h1.6v1.6h-1.6zM726.87 121.13h1.6v1.6h-1.6zM726.87 114.99h1.6v1.6h-1.6zM726.87 108.85h1.6v1.6h-1.6zM726.87 102.72h1.6v1.6h-1.6zM726.87 96.58h1.6v1.6h-1.6zM726.87 90.44h1.6v1.6h-1.6zM726.87 84.30h1.6v1.6h-1.6zM726.87 78.16h1.6v1.6h-1.6zM726.87 72.03h1.6v1.6h-1.6zM726.87 65.89h1.6v1.6h-1.6zM726.87 59.75h1.6v1.6h-1.6zM726.87 53.61h1.6v1.6h-1.6zM726.87 47.47h1.6v1.6h-1.6zM726.87 41.34h1.6v1.6h-1.6zM726.87 35.20h1.6v1.6h-1.6zM726.87 29.06h1.6v1.6h-1.6zM726.87 22.92h1.6v1.6h-1.6zM726.87 16.78h1.6v1.6h-1.6zM736.94 642.86h1.6v1.6h-1.6zM736.94 636.72h1.6v1.6h-1.6zM736.94 630.58h1.6v1.6h-1.6zM736.94 624.45h1.6v1.6h-1.6zM736.94 618.31h1.6v1.6h-1.6zM736.94 612.17h1.6v1.6h-1.6zM736.94 606.03h1.6v1.6h-1.6zM736.94 599.89h1.6v1.6h-1.6zM736.94 593.76h1.6v1.6h-1.6zM736.94 587.62h1.6v1.6h-1.6zM736.94 581.48h1.6v1.6h-1.6zM736.94 575.34h1.6v1.6h-1.6zM736.94 569.20h1.6v1.6h-1.6zM736.94 563.07h1.6v1.6h-1.6zM736.94 556.93h1.6v1.6h-1.6zM736.94 550.79h1.6v1.6h-1.6zM736.94 544.65h1.6v1.6h-1.6zM736.94 538.51h1.6v1.6h-1.6zM736.94 532.38h1.6v1.6h-1.6zM736.94 526.24h1.6v1.6h-1.6zM736.94 520.10h1.6v1.6h-1.6zM736.94 513.96h1.6v1.6h-1.6zM736.94 507.82h1.6v1.6h-1.6zM736.94 501.69h1.6v1.6h-1.6zM736.94 495.55h1.6v1.6h-1.6zM736.94 489.41h1.6v1.6h-1.6zM736.94 483.27h1.6v1.6h-1.6zM736.94 477.13h1.6v1.6h-1.6zM736.94 471.00h1.6v1.6h-1.6zM736.94 464.86h1.6v1.6h-1.6zM736.94 458.72h1.6v1.6h-1.6zM736.94 452.58h1.6v1.6h-1.6zM736.94 446.44h1.6v1.6h-1.6zM736.94 440.31h1.6v1.6h-1.6zM736.94 434.17h1.6v1.6h-1.6zM736.94 428.03h1.6v1.6h-1.6zM736.94 421.89h1.6v1.6h-1.6zM736.94 415.75h1.6v1.6h-1.6zM736.94 409.62h1.6v1.6h-1.6zM736.94 403.48h1.6v1.6h-1.6zM736.94 397.34h1.6v1.6h-1.6zM736.94 391.20h1.6v1.6h-1.6zM736.94 385.06h1.6v1.6h-1.6zM736.94 378.93h1.6v1.6h-1.6zM736.94 372.79h1.6v1.6h-1.6zM736.94 366.65h1.6v1.6h-1.6zM736.94 360.51h1.6v1.6h-1.6zM736.94 354.37h1.6v1.6h-1.6zM736.94 348.24h1.6v1.6h-1.6zM736.94 342.10h1.6v1.6h-1.6zM736.94 335.96h1.6v1.6h-1.6zM736.94 329.82h1.6v1.6h-1.6zM736.94 323.68h1.6v1.6h-1.6zM736.94 317.55h1.6v1.6h-1.6zM736.94 311.41h1.6v1.6h-1.6zM736.94 305.27h1.6v1.6h-1.6zM736.94 299.13h1.6v1.6h-1.6zM736.94 292.99h1.6v1.6h-1.6zM736.94 286.86h1.6v1.6h-1.6zM736.94 280.72h1.6v1.6h-1.6zM736.94 274.58h1.6v1.6h-1.6zM736.94 268.44h1.6v1.6h-1.6zM736.94 262.30h1.6v1.6h-1.6zM736.94 256.17h1.6v1.6h-1.6zM736.94 250.03h1.6v1.6h-1.6zM736.94 243.89h1.6v1.6h-1.6zM736.94 237.75h1.6v1.6h-1.6zM736.94 231.61h1.6v1.6h-1.6zM736.94 225.48h1.6v1.6h-1.6zM736.94 219.34h1.6v1.6h-1.6zM736.94 213.20h1.6v1.6h-1.6zM736.94 207.06h1.6v1.6h-1.6zM736.94 200.92h1.6v1.6h-1.6zM736.94 194.79h1.6v1.6h-1.6zM736.94 188.65h1.6v1.6h-1.6zM736.94 182.51h1.6v1.6h-1.6zM736.94 176.37h1.6v1.6h-1.6zM736.94 170.23h1.6v1.6h-1.6zM736.94 164.10h1.6v1.6h-1.6zM736.94 157.96h1.6v1.6h-1.6zM736.94 151.82h1.6v1.6h-1.6zM736.94 145.68h1.6v1.6h-1.6zM736.94 139.54h1.6v1.6h-1.6zM736.94 133.41h1.6v1.6h-1.6zM736.94 127.27h1.6v1.6h-1.6zM736.94 121.13h1.6v1.6h-1.6zM736.94 114.99h1.6v1.6h-1.6zM736.94 108.85h1.6v1.6h-1.6zM736.94 102.72h1.6v1.6h-1.6zM736.94 96.58h1.6v1.6h-1.6zM736.94 90.44h1.6v1.6h-1.6zM736.94 84.30h1.6v1.6h-1.6zM736.94 78.16h1.6v1.6h-1.6zM736.94 72.03h1.6v1.6h-1.6zM736.94 65.89h1.6v1.6h-1.6zM736.94 59.75h1.6v1.6h-1.6zM736.94 53.61h1.6v1.6h-1.6zM736.94 47.47h1.6v1.6h-1.6zM736.94 41.34h1.6v1.6h-1.6zM736.94 35.20h1.6v1.6h-1.6zM736.94 29.06h1.6v1.6h-1.6zM736.94 22.92h1.6v1.6h-1.6zM736.94 16.78h1.6v1.6h-1.6zM745.94 642.86h1.6v1.6h-1.6zM745.94 636.72h1.6v1.6h-1.6zM745.94 630.58h1.6v1.6h-1.6zM745.94 624.45h1.6v1.6h-1.6zM745.94 618.31h1.6v1.6h-1.6zM745.94 612.17h1.6v1.6h-1.6zM745.94 606.03h1.6v1.6h-1.6zM745.94 599.89h1.6v1.6h-1.6zM745.94 593.76h1.6v1.6h-1.6zM745.94 587.62h1.6v1.6h-1.6zM745.94 581.48h1.6v1.6h-1.6zM745.94 575.34h1.6v1.6h-1.6zM745.94 569.20h1.6v1.6h-1.6zM745.94 563.07h1.6v1.6h-1.6zM745.94 556.93h1.6v1.6h-1.6zM745.94 550.79h1.6v1.6h-1.6zM745.94 544.65h1.6v1.6h-1.6zM745.94 538.51h1.6v1.6h-1.6zM745.94 532.38h1.6v1.6h-1.6zM745.94 526.24h1.6v1.6h-1.6zM745.94 520.10h1.6v1.6h-1.6zM745.94 513.96h1.6v1.6h-1.6zM745.94 507.82h1.6v1.6h-1.6zM745.94 501.69h1.6v1.6h-1.6zM745.94 495.55h1.6v1.6h-1.6zM745.94 489.41h1.6v1.6h-1.6zM745.94 483.27h1.6v1.6h-1.6zM745.94 477.13h1.6v1.6h-1.6zM745.94 471.00h1.6v1.6h-1.6zM745.94 464.86h1.6v1.6h-1.6zM745.94 458.72h1.6v1.6h-1.6zM745.94 452.58h1.6v1.6h-1.6zM745.94 446.44h1.6v1.6h-1.6zM745.94 440.31h1.6v1.6h-1.6zM745.94 434.17h1.6v1.6h-1.6zM745.94 428.03h1.6v1.6h-1.6zM745.94 421.89h1.6v1.6h-1.6zM745.94 415.75h1.6v1.6h-1.6zM745.94 409.62h1.6v1.6h-1.6zM745.94 403.48h1.6v1.6h-1.6zM745.94 397.34h1.6v1.6h-1.6zM745.94 391.20h1.6v1.6h-1.6zM745.94 385.06h1.6v1.6h-1.6zM745.94 378.93h1.6v1.6h-1.6zM745.94 372.79h1.6v1.6h-1.6zM745.94 366.65h1.6v1.6h-1.6zM745.94 360.51h1.6v1.6h-1.6zM745.94 354.37h1.6v1.6h-1.6zM745.94 348.24h1.6v1.6h-1.6zM745.94 342.10h1.6v1.6h-1.6zM745.94 335.96h1.6v1.6h-1.6zM745.94 329.82h1.6v1.6h-1.6zM745.94 323.68h1.6v1.6h-1.6zM745.94 317.55h1.6v1.6h-1.6zM745.94 311.41h1.6v1.6h-1.6zM745.94 305.27h1.6v1.6h-1.6zM745.94 299.13h1.6v1.6h-1.6zM745.94 292.99h1.6v1.6h-1.6zM745.94 286.86h1.6v1.6h-1.6zM745.94 280.72h1.6v1.6h-1.6zM745.94 274.58h1.6v1.6h-1.6zM745.94 268.44h1.6v1.6h-1.6zM745.94 262.30h1.6v1.6h-1.6zM745.94 256.17h1.6v1.6h-1.6zM745.94 250.03h1.6v1.6h-1.6zM745.94 243.89h1.6v1.6h-1.6zM745.94 237.75h1.6v1.6h-1.6zM745.94 231.61h1.6v1.6h-1.6zM745.94 225.48h1.6v1.6h-1.6zM745.94 219.34h1.6v1.6h-1.6zM745.94 213.20h1.6v1.6h-1.6zM745.94 207.06h1.6v1.6h-1.6zM745.94 200.92h1.6v1.6h-1.6zM745.94 194.79h1.6v1.6h-1.6zM745.94 188.65h1.6v1.6h-1.6zM745.94 182.51h1.6v1.6h-1.6zM745.94 176.37h1.6v1.6h-1.6zM745.94 170.23h1.6v1.6h-1.6zM745.94 164.10h1.6v1.6h-1.6zM745.94 157.96h1.6v1.6h-1.6zM745.94 151.82h1.6v1.6h-1.6zM745.94 145.68h1.6v1.6h-1.6zM745.94 139.54h1.6v1.6h-1.6zM745.94 133.41h1.6v1.6h-1.6zM745.94 127.27h1.6v1.6h-1.6zM745.94 121.13h1.6v1.6h-1.6zM745.94 114.99h1.6v1.6h-1.6zM745.94 108.85h1.6v1.6h-1.6zM745.94 102.72h1.6v1.6h-1.6zM745.94 96.58h1.6v1.6h-1.6zM745.94 90.44h1.6v1.6h-1.6zM745.94 84.30h1.6v1.6h-1.6zM745.94 78.16h1.6v1.6h-1.6zM745.94 72.03h1.6v1.6h-1.6zM745.94 65.89h1.6v1.6h-1.6zM745.94 59.75h1.6v1.6h-1.6zM745.94 53.61h1.6v1.6h-1.6zM745.94 47.47h1.6v1.6h-1.6zM745.94 41.34h1.6v1.6h-1.6zM745.94 35.20h1.6v1.6h-1.6zM745.94 29.06h1.6v1.6h-1.6zM745.94 22.92h1.6v1.6h-1.6zM745.94 16.78h1.6v1.6h-1.6zM805.19 642.86h1.6v1.6h-1.6zM805.19 636.72h1.6v1.6h-1.6zM805.19 630.58h1.6v1.6h-1.6zM805.19 624.45h1.6v1.6h-1.6zM805.19 618.31h1.6v1.6h-1.6zM805.19 612.17h1.6v1.6h-1.6zM805.19 606.03h1.6v1.6h-1.6zM805.19 599.89h1.6v1.6h-1.6zM805.19 593.76h1.6v1.6h-1.6zM805.19 587.62h1.6v1.6h-1.6zM805.19 581.48h1.6v1.6h-1.6zM805.19 575.34h1.6v1.6h-1.6zM805.19 569.20h1.6v1.6h-1.6zM805.19 563.07h1.6v1.6h-1.6zM805.19 556.93h1.6v1.6h-1.6zM805.19 550.79h1.6v1.6h-1.6zM805.19 544.65h1.6v1.6h-1.6zM805.19 538.51h1.6v1.6h-1.6zM805.19 532.38h1.6v1.6h-1.6zM805.19 526.24h1.6v1.6h-1.6zM805.19 520.10h1.6v1.6h-1.6zM805.19 513.96h1.6v1.6h-1.6zM805.19 507.82h1.6v1.6h-1.6zM805.19 501.69h1.6v1.6h-1.6zM805.19 495.55h1.6v1.6h-1.6zM805.19 489.41h1.6v1.6h-1.6zM805.19 483.27h1.6v1.6h-1.6zM805.19 477.13h1.6v1.6h-1.6zM805.19 471.00h1.6v1.6h-1.6zM805.19 464.86h1.6v1.6h-1.6zM805.19 458.72h1.6v1.6h-1.6zM805.19 452.58h1.6v1.6h-1.6zM805.19 446.44h1.6v1.6h-1.6zM805.19 440.31h1.6v1.6h-1.6zM805.19 434.17h1.6v1.6h-1.6zM805.19 428.03h1.6v1.6h-1.6zM805.19 421.89h1.6v1.6h-1.6zM805.19 415.75h1.6v1.6h-1.6zM805.19 409.62h1.6v1.6h-1.6zM805.19 403.48h1.6v1.6h-1.6zM805.19 397.34h1.6v1.6h-1.6zM805.19 391.20h1.6v1.6h-1.6zM805.19 385.06h1.6v1.6h-1.6zM805.19 378.93h1.6v1.6h-1.6zM805.19 372.79h1.6v1.6h-1.6zM805.19 366.65h1.6v1.6h-1.6zM805.19 360.51h1.6v1.6h-1.6zM805.19 354.37h1.6v1.6h-1.6zM805.19 348.24h1.6v1.6h-1.6zM805.19 342.10h1.6v1.6h-1.6zM805.19 335.96h1.6v1.6h-1.6zM805.19 329.82h1.6v1.6h-1.6zM805.19 323.68h1.6v1.6h-1.6zM805.19 317.55h1.6v1.6h-1.6zM805.19 311.41h1.6v1.6h-1.6zM805.19 305.27h1.6v1.6h-1.6zM805.19 299.13h1.6v1.6h-1.6zM805.19 292.99h1.6v1.6h-1.6zM805.19 286.86h1.6v1.6h-1.6zM805.19 280.72h1.6v1.6h-1.6zM805.19 274.58h1.6v1.6h-1.6zM805.19 268.44h1.6v1.6h-1.6zM805.19 262.30h1.6v1.6h-1.6zM805.19 256.17h1.6v1.6h-1.6zM805.19 250.03h1.6v1.6h-1.6zM805.19 243.89h1.6v1.6h-1.6zM805.19 237.75h1.6v1.6h-1.6zM805.19 231.61h1.6v1.6h-1.6zM805.19 225.48h1.6v1.6h-1.6zM805.19 219.34h1.6v1.6h-1.6zM805.19 213.20h1.6v1.6h-1.6zM805.19 207.06h1.6v1.6h-1.6zM805.19 200.92h1.6v1.6h-1.6zM805.19 194.79h1.6v1.6h-1.6zM805.19 188.65h1.6v1.6h-1.6zM805.19 182.51h1.6v1.6h-1.6zM805.19 176.37h1.6v1.6h-1.6zM805.19 170.23h1.6v1.6h-1.6zM805.19 164.10h1.6v1.6h-1.6zM805.19 157.96h1.6v1.6h-1.6zM805.19 151.82h1.6v1.6h-1.6zM805.19 145.68h1.6v1.6h-1.6zM805.19 139.54h1.6v1.6h-1.6zM805.19 133.41h1.6v1.6h-1.6zM805.19 127.27h1.6v1.6h-1.6zM805.19 121.13h1.6v1.6h-1.6zM805.19 114.99h1.6v1.6h-1.6zM805.19 108.85h1.6v1.6h-1.6zM805.19 102.72h1.6v1.6h-1.6zM805.19 96.58h1.6v1.6h-1.6zM805.19 90.44h1.6v1.6h-1.6zM805.19 84.30h1.6v1.6h-1.6zM805.19 78.16h1.6v1.6h-1.6zM805.19 72.03h1.6v1.6h-1.6zM805.19 65.89h1.6v1.6h-1.6zM805.19 59.75h1.6v1.6h-1.6zM805.19 53.61h1.6v1.6h-1.6zM805.19 47.47h1.6v1.6h-1.6zM805.19 41.34h1.6v1.6h-1.6zM805.19 35.20h1.6v1.6h-1.6zM805.19 29.06h1.6v1.6h-1.6zM805.19 22.92h1.6v1.6h-1.6zM805.19 16.78h1.6v1.6h-1.6zM839.84 642.86h1.6v1.6h-1.6zM839.84 636.72h1.6v1.6h-1.6zM839.84 630.58h1.6v1.6h-1.6zM839.84 624.45h1.6v1.6h-1.6zM839.84 618.31h1.6v1.6h-1.6zM839.84 612.17h1.6v1.6h-1.6zM839.84 606.03h1.6v1.6h-1.6zM839.84 599.89h1.6v1.6h-1.6zM839.84 593.76h1.6v1.6h-1.6zM839.84 587.62h1.6v1.6h-1.6zM839.84 581.48h1.6v1.6h-1.6zM839.84 575.34h1.6v1.6h-1.6zM839.84 569.20h1.6v1.6h-1.6zM839.84 563.07h1.6v1.6h-1.6zM839.84 556.93h1.6v1.6h-1.6zM839.84 550.79h1.6v1.6h-1.6zM839.84 544.65h1.6v1.6h-1.6zM839.84 538.51h1.6v1.6h-1.6zM839.84 532.38h1.6v1.6h-1.6zM839.84 526.24h1.6v1.6h-1.6zM839.84 520.10h1.6v1.6h-1.6zM839.84 513.96h1.6v1.6h-1.6zM839.84 507.82h1.6v1.6h-1.6zM839.84 501.69h1.6v1.6h-1.6zM839.84 495.55h1.6v1.6h-1.6zM839.84 489.41h1.6v1.6h-1.6zM839.84 483.27h1.6v1.6h-1.6zM839.84 477.13h1.6v1.6h-1.6zM839.84 471.00h1.6v1.6h-1.6zM839.84 464.86h1.6v1.6h-1.6zM839.84 458.72h1.6v1.6h-1.6zM839.84 452.58h1.6v1.6h-1.6zM839.84 446.44h1.6v1.6h-1.6zM839.84 440.31h1.6v1.6h-1.6zM839.84 434.17h1.6v1.6h-1.6zM839.84 428.03h1.6v1.6h-1.6zM839.84 421.89h1.6v1.6h-1.6zM839.84 415.75h1.6v1.6h-1.6zM839.84 409.62h1.6v1.6h-1.6zM839.84 403.48h1.6v1.6h-1.6zM839.84 397.34h1.6v1.6h-1.6zM839.84 391.20h1.6v1.6h-1.6zM839.84 385.06h1.6v1.6h-1.6zM839.84 378.93h1.6v1.6h-1.6zM839.84 372.79h1.6v1.6h-1.6zM839.84 366.65h1.6v1.6h-1.6zM839.84 360.51h1.6v1.6h-1.6zM839.84 354.37h1.6v1.6h-1.6zM839.84 348.24h1.6v1.6h-1.6zM839.84 342.10h1.6v1.6h-1.6zM839.84 335.96h1.6v1.6h-1.6zM839.84 329.82h1.6v1.6h-1.6zM839.84 323.68h1.6v1.6h-1.6zM839.84 317.55h1.6v1.6h-1.6zM839.84 311.41h1.6v1.6h-1.6zM839.84 305.27h1.6v1.6h-1.6zM839.84 299.13h1.6v1.6h-1.6zM839.84 292.99h1.6v1.6h-1.6zM839.84 286.86h1.6v1.6h-1.6zM839.84 280.72h1.6v1.6h-1.6zM839.84 274.58h1.6v1.6h-1.6zM839.84 268.44h1.6v1.6h-1.6zM839.84 262.30h1.6v1.6h-1.6zM839.84 256.17h1.6v1.6h-1.6zM839.84 250.03h1.6v1.6h-1.6zM839.84 243.89h1.6v1.6h-1.6zM839.84 237.75h1.6v1.6h-1.6zM839.84 231.61h1.6v1.6h-1.6zM839.84 225.48h1.6v1.6h-1.6zM839.84 219.34h1.6v1.6h-1.6zM839.84 213.20h1.6v1.6h-1.6zM839.84 207.06h1.6v1.6h-1.6zM839.84 200.92h1.6v1.6h-1.6zM839.84 194.79h1.6v1.6h-1.6zM839.84 188.65h1.6v1.6h-1.6zM839.84 182.51h1.6v1.6h-1.6zM839.84 176.37h1.6v1.6h-1.6zM839.84 170.23h1.6v1.6h-1.6zM839.84 164.10h1.6v1.6h-1.6zM839.84 157.96h1.6v1.6h-1.6zM839.84 151.82h1.6v1.6h-1.6zM839.84 145.68h1.6v1.6h-1.6zM839.84 139.54h1.6v1.6h-1.6zM839.84 133.41h1.6v1.6h-1.6zM839.84 127.27h1.6v1.6h-1.6zM839.84 121.13h1.6v1.6h-1.6zM839.84 114.99h1.6v1.6h-1.6zM839.84 108.85h1.6v1.6h-1.6zM839.84 102.72h1.6v1.6h-1.6zM839.84 96.58h1.6v1.6h-1.6zM839.84 90.44h1.6v1.6h-1.6zM839.84 84.30h1.6v1.6h-1.6zM839.84 78.16h1.6v1.6h-1.6zM839.84 72.03h1.6v1.6h-1.6zM839.84 65.89h1.6v1.6h-1.6zM839.84 59.75h1.6v1.6h-1.6zM839.84 53.61h1.6v1.6h-1.6zM839.84 47.47h1.6v1.6h-1.6zM839.84 41.34h1.6v1.6h-1.6zM839.84 35.20h1.6v1.6h-1.6zM839.84 29.06h1.6v1.6h-1.6zM839.84 22.92h1.6v1.6h-1.6zM839.84 16.78h1.6v1.6h-1.6zM864.43 642.86h1.6v1.6h-1.6zM864.43 636.72h1.6v1.6h-1.6zM864.43 630.58h1.6v1.6h-1.6zM864.43 624.45h1.6v1.6h-1.6zM864.43 618.31h1.6v1.6h-1.6zM864.43 612.17h1.6v1.6h-1.6zM864.43 606.03h1.6v1.6h-1.6zM864.43 599.89h1.6v1.6h-1.6zM864.43 593.76h1.6v1.6h-1.6zM864.43 587.62h1.6v1.6h-1.6zM864.43 581.48h1.6v1.6h-1.6zM864.43 575.34h1.6v1.6h-1.6zM864.43 569.20h1.6v1.6h-1.6zM864.43 563.07h1.6v1.6h-1.6zM864.43 556.93h1.6v1.6h-1.6zM864.43 550.79h1.6v1.6h-1.6zM864.43 544.65h1.6v1.6h-1.6zM864.43 538.51h1.6v1.6h-1.6zM864.43 532.38h1.6v1.6h-1.6zM864.43 526.24h1.6v1.6h-1.6zM864.43 520.10h1.6v1.6h-1.6zM864.43 513.96h1.6v1.6h-1.6zM864.43 507.82h1.6v1.6h-1.6zM864.43 501.69h1.6v1.6h-1.6zM864.43 495.55h1.6v1.6h-1.6zM864.43 489.41h1.6v1.6h-1.6zM864.43 483.27h1.6v1.6h-1.6zM864.43 477.13h1.6v1.6h-1.6zM864.43 471.00h1.6v1.6h-1.6zM864.43 464.86h1.6v1.6h-1.6zM864.43 458.72h1.6v1.6h-1.6zM864.43 452.58h1.6v1.6h-1.6zM864.43 446.44h1.6v1.6h-1.6zM864.43 440.31h1.6v1.6h-1.6zM864.43 434.17h1.6v1.6h-1.6zM864.43 428.03h1.6v1.6h-1.6zM864.43 421.89h1.6v1.6h-1.6zM864.43 415.75h1.6v1.6h-1.6zM864.43 409.62h1.6v1.6h-1.6zM864.43 403.48h1.6v1.6h-1.6zM864.43 397.34h1.6v1.6h-1.6zM864.43 391.20h1.6v1.6h-1.6zM864.43 385.06h1.6v1.6h-1.6zM864.43 378.93h1.6v1.6h-1.6zM864.43 372.79h1.6v1.6h-1.6zM864.43 366.65h1.6v1.6h-1.6zM864.43 360.51h1.6v1.6h-1.6zM864.43 354.37h1.6v1.6h-1.6zM864.43 348.24h1.6v1.6h-1.6zM864.43 342.10h1.6v1.6h-1.6zM864.43 335.96h1.6v1.6h-1.6zM864.43 329.82h1.6v1.6h-1.6zM864.43 323.68h1.6v1.6h-1.6zM864.43 317.55h1.6v1.6h-1.6zM864.43 311.41h1.6v1.6h-1.6zM864.43 305.27h1.6v1.6h-1.6zM864.43 299.13h1.6v1.6h-1.6zM864.43 292.99h1.6v1.6h-1.6zM864.43 286.86h1.6v1.6h-1.6zM864.43 280.72h1.6v1.6h-1.6zM864.43 274.58h1.6v1.6h-1.6zM864.43 268.44h1.6v1.6h-1.6zM864.43 262.30h1.6v1.6h-1.6zM864.43 256.17h1.6v1.6h-1.6zM864.43 250.03h1.6v1.6h-1.6zM864.43 243.89h1.6v1.6h-1.6zM864.43 237.75h1.6v1.6h-1.6zM864.43 231.61h1.6v1.6h-1.6zM864.43 225.48h1.6v1.6h-1.6zM864.43 219.34h1.6v1.6h-1.6zM864.43 213.20h1.6v1.6h-1.6zM864.43 207.06h1.6v1.6h-1.6zM864.43 200.92h1.6v1.6h-1.6zM864.43 194.79h1.6v1.6h-1.6zM864.43 188.65h1.6v1.6h-1.6zM864.43 182.51h1.6v1.6h-1.6zM864.43 176.37h1.6v1.6h-1.6zM864.43 170.23h1.6v1.6h-1.6zM864.43 164.10h1.6v1.6h-1.6zM864.43 157.96h1.6v1.6h-1.6zM864.43 151.82h1.6v1.6h-1.6zM864.43 145.68h1.6v1.6h-1.6zM864.43 139.54h1.6v1.6h-1.6zM864.43 133.41h1.6v1.6h-1.6zM864.43 127.27h1.6v1.6h-1.6zM864.43 121.13h1.6v1.6h-1.6zM864.43 114.99h1.6v1.6h-1.6zM864.43 108.85h1.6v1.6h-1.6zM864.43 102.72h1.6v1.6h-1.6zM864.43 96.58h1.6v1.6h-1.6zM864.43 90.44h1.6v1.6h-1.6zM864.43 84.30h1.6v1.6h-1.6zM864.43 78.16h1.6v1.6h-1.6zM864.43 72.03h1.6v1.6h-1.6zM864.43 65.89h1.6v1.6h-1.6zM864.43 59.75h1.6v1.6h-1.6zM864.43 53.61h1.6v1.6h-1.6zM864.43 47.47h1.6v1.6h-1.6zM864.43 41.34h1.6v1.6h-1.6zM864.43 35.20h1.6v1.6h-1.6zM864.43 29.06h1.6v1.6h-1.6zM864.43 22.92h1.6v1.6h-1.6zM864.43 16.78h1.6v1.6h-1.6zM883.50 642.86h1.6v1.6h-1.6zM883.50 636.72h1.6v1.6h-1.6zM883.50 630.58h1.6v1.6h-1.6zM883.50 624.45h1.6v1.6h-1.6zM883.50 618.31h1.6v1.6h-1.6zM883.50 612.17h1.6v1.6h-1.6zM883.50 606.03h1.6v1.6h-1.6zM883.50 599.89h1.6v1.6h-1.6zM883.50 593.76h1.6v1.6h-1.6zM883.50 587.62h1.6v1.6h-1.6zM883.50 581.48h1.6v1.6h-1.6zM883.50 575.34h1.6v1.6h-1.6zM883.50 569.20h1.6v1.6h-1.6zM883.50 563.07h1.6v1.6h-1.6zM883.50 556.93h1.6v1.6h-1.6zM883.50 550.79h1.6v1.6h-1.6zM883.50 544.65h1.6v1.6h-1.6zM883.50 538.51h1.6v1.6h-1.6zM883.50 532.38h1.6v1.6h-1.6zM883.50 526.24h1.6v1.6h-1.6zM883.50 520.10h1.6v1.6h-1.6zM883.50 513.96h1.6v1.6h-1.6zM883.50 507.82h1.6v1.6h-1.6zM883.50 501.69h1.6v1.6h-1.6zM883.50 495.55h1.6v1.6h-1.6zM883.50 489.41h1.6v1.6h-1.6zM883.50 483.27h1.6v1.6h-1.6zM883.50 477.13h1.6v1.6h-1.6zM883.50 471.00h1.6v1.6h-1.6zM883.50 464.86h1.6v1.6h-1.6zM883.50 458.72h1.6v1.6h-1.6zM883.50 452.58h1.6v1.6h-1.6zM883.50 446.44h1.6v1.6h-1.6zM883.50 440.31h1.6v1.6h-1.6zM883.50 434.17h1.6v1.6h-1.6zM883.50 428.03h1.6v1.6h-1.6zM883.50 421.89h1.6v1.6h-1.6zM883.50 415.75h1.6v1.6h-1.6zM883.50 409.62h1.6v1.6h-1.6zM883.50 403.48h1.6v1.6h-1.6zM883.50 397.34h1.6v1.6h-1.6zM883.50 391.20h1.6v1.6h-1.6zM883.50 385.06h1.6v1.6h-1.6zM883.50 378.93h1.6v1.6h-1.6zM883.50 372.79h1.6v1.6h-1.6zM883.50 366.65h1.6v1.6h-1.6zM883.50 360.51h1.6v1.6h-1.6zM883.50 354.37h1.6v1.6h-1.6zM883.50 348.24h1.6v1.6h-1.6zM883.50 342.10h1.6v1.6h-1.6zM883.50 335.96h1.6v1.6h-1.6zM883.50 329.82h1.6v1.6h-1.6zM883.50 323.68h1.6v1.6h-1.6zM883.50 317.55h1.6v1.6h-1.6zM883.50 311.41h1.6v1.6h-1.6zM883.50 305.27h1.6v1.6h-1.6zM883.50 299.13h1.6v1.6h-1.6zM883.50 292.99h1.6v1.6h-1.6zM883.50 286.86h1.6v1.6h-1.6zM883.50 280.72h1.6v1.6h-1.6zM883.50 274.58h1.6v1.6h-1.6zM883.50 268.44h1.6v1.6h-1.6zM883.50 262.30h1.6v1.6h-1.6zM883.50 256.17h1.6v1.6h-1.6zM883.50 250.03h1.6v1.6h-1.6zM883.50 243.89h1.6v1.6h-1.6zM883.50 237.75h1.6v1.6h-1.6zM883.50 231.61h1.6v1.6h-1.6zM883.50 225.48h1.6v1.6h-1.6zM883.50 219.34h1.6v1.6h-1.6zM883.50 213.20h1.6v1.6h-1.6zM883.50 207.06h1.6v1.6h-1.6zM883.50 200.92h1.6v1.6h-1.6zM883.50 194.79h1.6v1.6h-1.6zM883.50 188.65h1.6v1.6h-1.6zM883.50 182.51h1.6v1.6h-1.6zM883.50 176.37h1.6v1.6h-1.6zM883.50 170.23h1.6v1.6h-1.6zM883.50 164.10h1.6v1.6h-1.6zM883.50 157.96h1.6v1.6h-1.6zM883.50 151.82h1.6v1.6h-1.6zM883.50 145.68h1.6v1.6h-1.6zM883.50 139.54h1.6v1.6h-1.6zM883.50 133.41h1.6v1.6h-1.6zM883.50 127.27h1.6v1.6h-1.6zM883.50 121.13h1.6v1.6h-1.6zM883.50 114.99h1.6v1.6h-1.6zM883.50 108.85h1.6v1.6h-1.6zM883.50 102.72h1.6v1.6h-1.6zM883.50 96.58h1.6v1.6h-1.6zM883.50 90.44h1.6v1.6h-1.6zM883.50 84.30h1.6v1.6h-1.6zM883.50 78.16h1.6v1.6h-1.6zM883.50 72.03h1.6v1.6h-1.6zM883.50 65.89h1.6v1.6h-1.6zM883.50 59.75h1.6v1.6h-1.6zM883.50 53.61h1.6v1.6h-1.6zM883.50 47.47h1.6v1.6h-1.6zM883.50 41.34h1.6v1.6h-1.6zM883.50 35.20h1.6v1.6h-1.6zM883.50 29.06h1.6v1.6h-1.6zM883.50 22.92h1.6v1.6h-1.6zM883.50 16.78h1.6v1.6h-1.6zM899.08 642.86h1.6v1.6h-1.6zM899.08 636.72h1.6v1.6h-1.6zM899.08 630.58h1.6v1.6h-1.6zM899.08 624.45h1.6v1.6h-1.6zM899.08 618.31h1.6v1.6h-1.6zM899.08 612.17h1.6v1.6h-1.6zM899.08 606.03h1.6v1.6h-1.6zM899.08 599.89h1.6v1.6h-1.6zM899.08 593.76h1.6v1.6h-1.6zM899.08 587.62h1.6v1.6h-1.6zM899.08 581.48h1.6v1.6h-1.6zM899.08 575.34h1.6v1.6h-1.6zM899.08 569.20h1.6v1.6h-1.6zM899.08 563.07h1.6v1.6h-1.6zM899.08 556.93h1.6v1.6h-1.6zM899.08 550.79h1.6v1.6h-1.6zM899.08 544.65h1.6v1.6h-1.6zM899.08 538.51h1.6v1.6h-1.6zM899.08 532.38h1.6v1.6h-1.6zM899.08 526.24h1.6v1.6h-1.6zM899.08 520.10h1.6v1.6h-1.6zM899.08 513.96h1.6v1.6h-1.6zM899.08 507.82h1.6v1.6h-1.6zM899.08 501.69h1.6v1.6h-1.6zM899.08 495.55h1.6v1.6h-1.6zM899.08 489.41h1.6v1.6h-1.6zM899.08 483.27h1.6v1.6h-1.6zM899.08 477.13h1.6v1.6h-1.6zM899.08 471.00h1.6v1.6h-1.6zM899.08 464.86h1.6v1.6h-1.6zM899.08 458.72h1.6v1.6h-1.6zM899.08 452.58h1.6v1.6h-1.6zM899.08 446.44h1.6v1.6h-1.6zM899.08 440.31h1.6v1.6h-1.6zM899.08 434.17h1.6v1.6h-1.6zM899.08 428.03h1.6v1.6h-1.6zM899.08 421.89h1.6v1.6h-1.6zM899.08 415.75h1.6v1.6h-1.6zM899.08 409.62h1.6v1.6h-1.6zM899.08 403.48h1.6v1.6h-1.6zM899.08 397.34h1.6v1.6h-1.6zM899.08 391.20h1.6v1.6h-1.6zM899.08 385.06h1.6v1.6h-1.6zM899.08 378.93h1.6v1.6h-1.6zM899.08 372.79h1.6v1.6h-1.6zM899.08 366.65h1.6v1.6h-1.6zM899.08 360.51h1.6v1.6h-1.6zM899.08 354.37h1.6v1.6h-1.6zM899.08 348.24h1.6v1.6h-1.6zM899.08 342.10h1.6v1.6h-1.6zM899.08 335.96h1.6v1.6h-1.6zM899.08 329.82h1.6v1.6h-1.6zM899.08 323.68h1.6v1.6h-1.6zM899.08 317.55h1.6v1.6h-1.6zM899.08 311.41h1.6v1.6h-1.6zM899.08 305.27h1.6v1.6h-1.6zM899.08 299.13h1.6v1.6h-1.6zM899.08 292.99h1.6v1.6h-1.6zM899.08 286.86h1.6v1.6h-1.6zM899.08 280.72h1.6v1.6h-1.6zM899.08 274.58h1.6v1.6h-1.6zM899.08 268.44h1.6v1.6h-1.6zM899.08 262.30h1.6v1.6h-1.6zM899.08 256.17h1.6v1.6h-1.6zM899.08 250.03h1.6v1.6h-1.6zM899.08 243.89h1.6v1.6h-1.6zM899.08 237.75h1.6v1.6h-1.6zM899.08 231.61h1.6v1.6h-1.6zM899.08 225.48h1.6v1.6h-1.6zM899.08 219.34h1.6v1.6h-1.6zM899.08 213.20h1.6v1.6h-1.6zM899.08 207.06h1.6v1.6h-1.6zM899.08 200.92h1.6v1.6h-1.6zM899.08 194.79h1.6v1.6h-1.6zM899.08 188.65h1.6v1.6h-1.6zM899.08 182.51h1.6v1.6h-1.6zM899.08 176.37h1.6v1.6h-1.6zM899.08 170.23h1.6v1.6h-1.6zM899.08 164.10h1.6v1.6h-1.6zM899.08 157.96h1.6v1.6h-1.6zM899.08 151.82h1.6v1.6h-1.6zM899.08 145.68h1.6v1.6h-1.6zM899.08 139.54h1.6v1.6h-1.6zM899.08 133.41h1.6v1.6h-1.6zM899.08 127.27h1.6v1.6h-1.6zM899.08 121.13h1.6v1.6h-1.6zM899.08 114.99h1.6v1.6h-1.6zM899.08 108.85h1.6v1.6h-1.6zM899.08 102.72h1.6v1.6h-1.6zM899.08 96.58h1.6v1.6h-1.6zM899.08 90.44h1.6v1.6h-1.6zM899.08 84.30h1.6v1.6h-1.6zM899.08 78.16h1.6v1.6h-1.6zM899.08 72.03h1.6v1.6h-1.6zM899.08 65.89h1.6v1.6h-1.6zM899.08 59.75h1.6v1.6h-1.6zM899.08 53.61h1.6v1.6h-1.6zM899.08 47.47h1.6v1.6h-1.6zM899.08 41.34h1.6v1.6h-1.6zM899.08 35.20h1.6v1.6h-1.6zM899.08 29.06h1.6v1.6h-1.6zM899.08 22.92h1.6v1.6h-1.6zM899.08 16.78h1.6v1.6h-1.6zM912.26 642.86h1.6v1.6h-1.6zM912.26 636.72h1.6v1.6h-1.6zM912.26 630.58h1.6v1.6h-1.6zM912.26 624.45h1.6v1.6h-1.6zM912.26 618.31h1.6v1.6h-1.6zM912.26 612.17h1.6v1.6h-1.6zM912.26 606.03h1.6v1.6h-1.6zM912.26 599.89h1.6v1.6h-1.6zM912.26 593.76h1.6v1.6h-1.6zM912.26 587.62h1.6v1.6h-1.6zM912.26 581.48h1.6v1.6h-1.6zM912.26 575.34h1.6v1.6h-1.6zM912.26 569.20h1.6v1.6h-1.6zM912.26 563.07h1.6v1.6h-1.6zM912.26 556.93h1.6v1.6h-1.6zM912.26 550.79h1.6v1.6h-1.6zM912.26 544.65h1.6v1.6h-1.6zM912.26 538.51h1.6v1.6h-1.6zM912.26 532.38h1.6v1.6h-1.6zM912.26 526.24h1.6v1.6h-1.6zM912.26 520.10h1.6v1.6h-1.6zM912.26 513.96h1.6v1.6h-1.6zM912.26 507.82h1.6v1.6h-1.6zM912.26 501.69h1.6v1.6h-1.6zM912.26 495.55h1.6v1.6h-1.6zM912.26 489.41h1.6v1.6h-1.6zM912.26 483.27h1.6v1.6h-1.6zM912.26 477.13h1.6v1.6h-1.6zM912.26 471.00h1.6v1.6h-1.6zM912.26 464.86h1.6v1.6h-1.6zM912.26 458.72h1.6v1.6h-1.6zM912.26 452.58h1.6v1.6h-1.6zM912.26 446.44h1.6v1.6h-1.6zM912.26 440.31h1.6v1.6h-1.6zM912.26 434.17h1.6v1.6h-1.6zM912.26 428.03h1.6v1.6h-1.6zM912.26 421.89h1.6v1.6h-1.6zM912.26 415.75h1.6v1.6h-1.6zM912.26 409.62h1.6v1.6h-1.6zM912.26 403.48h1.6v1.6h-1.6zM912.26 397.34h1.6v1.6h-1.6zM912.26 391.20h1.6v1.6h-1.6zM912.26 385.06h1.6v1.6h-1.6zM912.26 378.93h1.6v1.6h-1.6zM912.26 372.79h1.6v1.6h-1.6zM912.26 366.65h1.6v1.6h-1.6zM912.26 360.51h1.6v1.6h-1.6zM912.26 354.37h1.6v1.6h-1.6zM912.26 348.24h1.6v1.6h-1.6zM912.26 342.10h1.6v1.6h-1.6zM912.26 335.96h1.6v1.6h-1.6zM912.26 329.82h1.6v1.6h-1.6zM912.26 323.68h1.6v1.6h-1.6zM912.26 317.55h1.6v1.6h-1.6zM912.26 311.41h1.6v1.6h-1.6zM912.26 305.27h1.6v1.6h-1.6zM912.26 299.13h1.6v1.6h-1.6zM912.26 292.99h1.6v1.6h-1.6zM912.26 286.86h1.6v1.6h-1.6zM912.26 280.72h1.6v1.6h-1.6zM912.26 274.58h1.6v1.6h-1.6zM912.26 268.44h1.6v1.6h-1.6zM912.26 262.30h1.6v1.6h-1.6zM912.26 256.17h1.6v1.6h-1.6zM912.26 250.03h1.6v1.6h-1.6zM912.26 243.89h1.6v1.6h-1.6zM912.26 237.75h1.6v1.6h-1.6zM912.26 231.61h1.6v1.6h-1.6zM912.26 225.48h1.6v1.6h-1.6zM912.26 219.34h1.6v1.6h-1.6zM912.26 213.20h1.6v1.6h-1.6zM912.26 207.06h1.6v1.6h-1.6zM912.26 200.92h1.6v1.6h-1.6zM912.26 194.79h1.6v1.6h-1.6zM912.26 188.65h1.6v1.6h-1.6zM912.26 182.51h1.6v1.6h-1.6zM912.26 176.37h1.6v1.6h-1.6zM912.26 170.23h1.6v1.6h-1.6zM912.26 164.10h1.6v1.6h-1.6zM912.26 157.96h1.6v1.6h-1.6zM912.26 151.82h1.6v1.6h-1.6zM912.26 145.68h1.6v1.6h-1.6zM912.26 139.54h1.6v1.6h-1.6zM912.26 133.41h1.6v1.6h-1.6zM912.26 127.27h1.6v1.6h-1.6zM912.26 121.13h1.6v1.6h-1.6zM912.26 114.99h1.6v1.6h-1.6zM912.26 108.85h1.6v1.6h-1.6zM912.26 102.72h1.6v1.6h-1.6zM912.26 96.58h1.6v1.6h-1.6zM912.26 90.44h1.6v1.6h-1.6zM912.26 84.30h1.6v1.6h-1.6zM912.26 78.16h1.6v1.6h-1.6zM912.26 72.03h1.6v1.6h-1.6zM912.26 65.89h1.6v1.6h-1.6zM912.26 59.75h1.6v1.6h-1.6zM912.26 53.61h1.6v1.6h-1.6zM912.26 47.47h1.6v1.6h-1.6zM912.26 41.34h1.6v1.6h-1.6zM912.26 35.20h1.6v1.6h-1.6zM912.26 29.06h1.6v1.6h-1.6zM912.26 22.92h1.6v1.6h-1.6zM912.26 16.78h1.6v1.6h-1.6zM923.67 642.86h1.6v1.6h-1.6zM923.67 636.72h1.6v1.6h-1.6zM923.67 630.58h1.6v1.6h-1.6zM923.67 624.45h1.6v1.6h-1.6zM923.67 618.31h1.6v1.6h-1.6zM923.67 612.17h1.6v1.6h-1.6zM923.67 606.03h1.6v1.6h-1.6zM923.67 599.89h1.6v1.6h-1.6zM923.67 593.76h1.6v1.6h-1.6zM923.67 587.62h1.6v1.6h-1.6zM923.67 581.48h1.6v1.6h-1.6zM923.67 575.34h1.6v1.6h-1.6zM923.67 569.20h1.6v1.6h-1.6zM923.67 563.07h1.6v1.6h-1.6zM923.67 556.93h1.6v1.6h-1.6zM923.67 550.79h1.6v1.6h-1.6zM923.67 544.65h1.6v1.6h-1.6zM923.67 538.51h1.6v1.6h-1.6zM923.67 532.38h1.6v1.6h-1.6zM923.67 526.24h1.6v1.6h-1.6zM923.67 520.10h1.6v1.6h-1.6zM923.67 513.96h1.6v1.6h-1.6zM923.67 507.82h1.6v1.6h-1.6zM923.67 501.69h1.6v1.6h-1.6zM923.67 495.55h1.6v1.6h-1.6zM923.67 489.41h1.6v1.6h-1.6zM923.67 483.27h1.6v1.6h-1.6zM923.67 477.13h1.6v1.6h-1.6zM923.67 471.00h1.6v1.6h-1.6zM923.67 464.86h1.6v1.6h-1.6zM923.67 458.72h1.6v1.6h-1.6zM923.67 452.58h1.6v1.6h-1.6zM923.67 446.44h1.6v1.6h-1.6zM923.67 440.31h1.6v1.6h-1.6zM923.67 434.17h1.6v1.6h-1.6zM923.67 428.03h1.6v1.6h-1.6zM923.67 421.89h1.6v1.6h-1.6zM923.67 415.75h1.6v1.6h-1.6zM923.67 409.62h1.6v1.6h-1.6zM923.67 403.48h1.6v1.6h-1.6zM923.67 397.34h1.6v1.6h-1.6zM923.67 391.20h1.6v1.6h-1.6zM923.67 385.06h1.6v1.6h-1.6zM923.67 378.93h1.6v1.6h-1.6zM923.67 372.79h1.6v1.6h-1.6zM923.67 366.65h1.6v1.6h-1.6zM923.67 360.51h1.6v1.6h-1.6zM923.67 354.37h1.6v1.6h-1.6zM923.67 348.24h1.6v1.6h-1.6zM923.67 342.10h1.6v1.6h-1.6zM923.67 335.96h1.6v1.6h-1.6zM923.67 329.82h1.6v1.6h-1.6zM923.67 323.68h1.6v1.6h-1.6zM923.67 317.55h1.6v1.6h-1.6zM923.67 311.41h1.6v1.6h-1.6zM923.67 305.27h1.6v1.6h-1.6zM923.67 299.13h1.6v1.6h-1.6zM923.67 292.99h1.6v1.6h-1.6zM923.67 286.86h1.6v1.6h-1.6zM923.67 280.72h1.6v1.6h-1.6zM923.67 274.58h1.6v1.6h-1.6zM923.67 268.44h1.6v1.6h-1.6zM923.67 262.30h1.6v1.6h-1.6zM923.67 256.17h1.6v1.6h-1.6zM923.67 250.03h1.6v1.6h-1.6zM923.67 243.89h1.6v1.6h-1.6zM923.67 237.75h1.6v1.6h-1.6zM923.67 231.61h1.6v1.6h-1.6zM923.67 225.48h1.6v1.6h-1.6zM923.67 219.34h1.6v1.6h-1.6zM923.67 213.20h1.6v1.6h-1.6zM923.67 207.06h1.6v1.6h-1.6zM923.67 200.92h1.6v1.6h-1.6zM923.67 194.79h1.6v1.6h-1.6zM923.67 188.65h1.6v1.6h-1.6zM923.67 182.51h1.6v1.6h-1.6zM923.67 176.37h1.6v1.6h-1.6zM923.67 170.23h1.6v1.6h-1.6zM923.67 164.10h1.6v1.6h-1.6zM923.67 157.96h1.6v1.6h-1.6zM923.67 151.82h1.6v1.6h-1.6zM923.67 145.68h1.6v1.6h-1.6zM923.67 139.54h1.6v1.6h-1.6zM923.67 133.41h1.6v1.6h-1.6zM923.67 127.27h1.6v1.6h-1.6zM923.67 121.13h1.6v1.6h-1.6zM923.67 114.99h1.6v1.6h-1.6zM923.67 108.85h1.6v1.6h-1.6zM923.67 102.72h1.6v1.6h-1.6zM923.67 96.58h1.6v1.6h-1.6zM923.67 90.44h1.6v1.6h-1.6zM923.67 84.30h1.6v1.6h-1.6zM923.67 78.16h1.6v1.6h-1.6zM923.67 72.03h1.6v1.6h-1.6zM923.67 65.89h1.6v1.6h-1.6zM923.67 59.75h1.6v1.6h-1.6zM923.67 53.61h1.6v1.6h-1.6zM923.67 47.47h1.6v1.6h-1.6zM923.67 41.34h1.6v1.6h-1.6zM923.67 35.20h1.6v1.6h-1.6zM923.67 29.06h1.6v1.6h-1.6zM923.67 22.92h1.6v1.6h-1.6zM923.67 16.78h1.6v1.6h-1.6zM933.74 642.86h1.6v1.6h-1.6zM933.74 636.72h1.6v1.6h-1.6zM933.74 630.58h1.6v1.6h-1.6zM933.74 624.45h1.6v1.6h-1.6zM933.74 618.31h1.6v1.6h-1.6zM933.74 612.17h1.6v1.6h-1.6zM933.74 606.03h1.6v1.6h-1.6zM933.74 599.89h1.6v1.6h-1.6zM933.74 593.76h1.6v1.6h-1.6zM933.74 587.62h1.6v1.6h-1.6zM933.74 581.48h1.6v1.6h-1.6zM933.74 575.34h1.6v1.6h-1.6zM933.74 569.20h1.6v1.6h-1.6zM933.74 563.07h1.6v1.6h-1.6zM933.74 556.93h1.6v1.6h-1.6zM933.74 550.79h1.6v1.6h-1.6zM933.74 544.65h1.6v1.6h-1.6zM933.74 538.51h1.6v1.6h-1.6zM933.74 532.38h1.6v1.6h-1.6zM933.74 526.24h1.6v1.6h-1.6zM933.74 520.10h1.6v1.6h-1.6zM933.74 513.96h1.6v1.6h-1.6zM933.74 507.82h1.6v1.6h-1.6zM933.74 501.69h1.6v1.6h-1.6zM933.74 495.55h1.6v1.6h-1.6zM933.74 489.41h1.6v1.6h-1.6zM933.74 483.27h1.6v1.6h-1.6zM933.74 477.13h1.6v1.6h-1.6zM933.74 471.00h1.6v1.6h-1.6zM933.74 464.86h1.6v1.6h-1.6zM933.74 458.72h1.6v1.6h-1.6zM933.74 452.58h1.6v1.6h-1.6zM933.74 446.44h1.6v1.6h-1.6zM933.74 440.31h1.6v1.6h-1.6zM933.74 434.17h1.6v1.6h-1.6zM933.74 428.03h1.6v1.6h-1.6zM933.74 421.89h1.6v1.6h-1.6zM933.74 415.75h1.6v1.6h-1.6zM933.74 409.62h1.6v1.6h-1.6zM933.74 403.48h1.6v1.6h-1.6zM933.74 397.34h1.6v1.6h-1.6zM933.74 391.20h1.6v1.6h-1.6zM933.74 385.06h1.6v1.6h-1.6zM933.74 378.93h1.6v1.6h-1.6zM933.74 372.79h1.6v1.6h-1.6zM933.74 366.65h1.6v1.6h-1.6zM933.74 360.51h1.6v1.6h-1.6zM933.74 354.37h1.6v1.6h-1.6zM933.74 348.24h1.6v1.6h-1.6zM933.74 342.10h1.6v1.6h-1.6zM933.74 335.96h1.6v1.6h-1.6zM933.74 329.82h1.6v1.6h-1.6zM933.74 323.68h1.6v1.6h-1.6zM933.74 317.55h1.6v1.6h-1.6zM933.74 311.41h1.6v1.6h-1.6zM933.74 305.27h1.6v1.6h-1.6zM933.74 299.13h1.6v1.6h-1.6zM933.74 292.99h1.6v1.6h-1.6zM933.74 286.86h1.6v1.6h-1.6zM933.74 280.72h1.6v1.6h-1.6zM933.74 274.58h1.6v1.6h-1.6zM933.74 268.44h1.6v1.6h-1.6zM933.74 262.30h1.6v1.6h-1.6zM933.74 256.17h1.6v1.6h-1.6zM933.74 250.03h1.6v1.6h-1.6zM933.74 243.89h1.6v1.6h-1.6zM933.74 237.75h1.6v1.6h-1.6zM933.74 231.61h1.6v1.6h-1.6zM933.74 225.48h1.6v1.6h-1.6zM933.74 219.34h1.6v1.6h-1.6zM933.74 213.20h1.6v1.6h-1.6zM933.74 207.06h1.6v1.6h-1.6zM933.74 200.92h1.6v1.6h-1.6zM933.74 194.79h1.6v1.6h-1.6zM933.74 188.65h1.6v1.6h-1.6zM933.74 182.51h1.6v1.6h-1.6zM933.74 176.37h1.6v1.6h-1.6zM933.74 170.23h1.6v1.6h-1.6zM933.74 164.10h1.6v1.6h-1.6zM933.74 157.96h1.6v1.6h-1.6zM933.74 151.82h1.6v1.6h-1.6zM933.74 145.68h1.6v1.6h-1.6zM933.74 139.54h1.6v1.6h-1.6zM933.74 133.41h1.6v1.6h-1.6zM933.74 127.27h1.6v1.6h-1.6zM933.74 121.13h1.6v1.6h-1.6zM933.74 114.99h1.6v1.6h-1.6zM933.74 108.85h1.6v1.6h-1.6zM933.74 102.72h1.6v1.6h-1.6zM933.74 96.58h1.6v1.6h-1.6zM933.74 90.44h1.6v1.6h-1.6zM933.74 84.30h1.6v1.6h-1.6zM933.74 78.16h1.6v1.6h-1.6zM933.74 72.03h1.6v1.6h-1.6zM933.74 65.89h1.6v1.6h-1.6zM933.74 59.75h1.6v1.6h-1.6zM933.74 53.61h1.6v1.6h-1.6zM933.74 47.47h1.6v1.6h-1.6zM933.74 41.34h1.6v1.6h-1.6zM933.74 35.20h1.6v1.6h-1.6zM933.74 29.06h1.6v1.6h-1.6zM933.74 22.92h1.6v1.6h-1.6zM933.74 16.78h1.6v1.6h-1.6z" fill="#b9b9b9"/>
<path d="M156.34 15.3V644.7M549.94 15.3V644.7M943.54 15.3V644.7M118.2 518.82H947.8M118.2 392.94H947.8M118.2 267.06H947.8M118.2 141.18H947.8" stroke="#dedede" stroke-width="1.5" fill="none"/>
<path d="M125.86 644.7v-4.1M125.86 15.3v4.1M137.27 644.7v-4.1M137.27 15.3v4.1M147.34 644.7v-4.1M147.34 15.3v4.1M215.59 644.7v-4.1M215.59 15.3v4.1M250.24 644.7v-4.1M250.24 15.3v4.1M274.83 644.7v-4.1M274.83 15.3v4.1M293.90 644.7v-4.1M293.90 15.3v4.1M309.48 644.7v-4.1M309.48 15.3v4.1M322.66 644.7v-4.1M322.66 15.3v4.1M334.07 644.7v-4.1M334.07 15.3v4.1M344.14 644.7v-4.1M344.14 15.3v4.1M353.14 644.7v-4.1M353.14 15.3v4.1M412.39 644.7v-4.1M412.39 15.3v4.1M447.04 644.7v-4.1M447.04 15.3v4.1M471.63 644.7v-4.1M471.63 15.3v4.1M490.70 644.7v-4.1M490.70 15.3v4.1M506.28 644.7v-4.1M506.28 15.3v4.1M519.46 644.7v-4.1M519.46 15.3v4.1M530.87 644.7v-4.1M530.87 15.3v4.1M540.94 644.7v-4.1M540.94 15.3v4.1M609.19 644.7v-4.1M609.19 15.3v4.1M643.84 644.7v-4.1M643.84 15.3v4.1M668.43 644.7v-4.1M668.43 15.3v4.1M687.50 644.7v-4.1M687.50 15.3v4.1M703.08 644.7v-4.1M703.08 15.3v4.1M716.26 644.7v-4.1M716.26 15.3v4.1M727.67 644.7v-4.1M727.67 15.3v4.1M737.74 644.7v-4.1M737.74 15.3v4.1M746.74 644.7v-4.1M746.74 15.3v4.1M805.99 644.7v-4.1M805.99 15.3v4.1M840.64 644.7v-4.1M840.64 15.3v4.1M865.23 644.7v-4.1M865.23 15.3v4.1M884.30 644.7v-4.1M884.30 15.3v4.1M899.88 644.7v-4.1M899.88 15.3v4.1M913.06 644.7v-4.1M913.06 15.3v4.1M924.47 644.7v-4.1M924.47 15.3v4.1M934.54 644.7v-4.1M934.54 15.3v4.1M156.34 644.7v-8.6M156.34 15.3v8.6M549.94 644.7v-8.6M549.94 15.3v8.6M943.54 644.7v-8.6M943.54 15.3v8.6M118.2 644.70h8.7M947.8 644.70h-8.7M118.2 518.82h8.7M947.8 518.82h-8.7M118.2 392.94h8.7M947.8 392.94h-8.7M118.2 267.06h8.7M947.8 267.06h-8.7M118.2 141.18h8.7M947.8 141.18h-8.7M118.2 15.30h8.7M947.8 15.30h-8.7" stroke="#262626" stroke-width="1.7" stroke-linecap="round" fill="none"/>
<rect x="118.2" y="15.3" width="829.60" height="629.40" fill="none" stroke="#262626" stroke-width="1.6"/>
<polyline points="118.20,15.30 355.17,141.18 686.04,216.71 827.09,317.41 886.33,418.12 947.60,594.35" fill="none" stroke="#0072bd" stroke-width="3.9" stroke-linejoin="round"/>
<circle cx="118.20" cy="15.30" r="12.7" fill="none" stroke="#0072bd" stroke-width="4.1"/>
<circle cx="355.17" cy="141.18" r="12.7" fill="none" stroke="#0072bd" stroke-width="4.1"/>
<circle cx="686.04" cy="216.71" r="12.7" fill="none" stroke="#0072bd" stroke-width="4.1"/>
<circle cx="827.09" cy="317.41" r="12.7" fill="none" stroke="#0072bd" stroke-width="4.1"/>
<circle cx="886.33" cy="418.12" r="12.7" fill="none" stroke="#0072bd" stroke-width="4.1"/>
<circle cx="947.60" cy="594.35" r="12.7" fill="none" stroke="#0072bd" stroke-width="4.1"/>
<polyline points="118.20,50.20 355.17,64.70 686.04,245.00 827.09,377.80 886.33,443.50 947.60,519.30" fill="none" stroke="#d95319" stroke-width="3.9" stroke-dasharray="12.55 12.0" stroke-linejoin="round"/>
<g font-family="Liberation Sans, Arial, sans-serif">
<text x="105.60" y="624.52" font-size="35.5" text-anchor="end" fill="#262626" transform="scale(1 1.055)">300</text>
<text x="105.60" y="505.20" font-size="35.5" text-anchor="end" fill="#262626" transform="scale(1 1.055)">350</text>
<text x="105.60" y="385.89" font-size="35.5" text-anchor="end" fill="#262626" transform="scale(1 1.055)">400</text>
<text x="105.60" y="266.57" font-size="35.5" text-anchor="end" fill="#262626" transform="scale(1 1.055)">450</text>
<text x="105.60" y="147.25" font-size="35.5" text-anchor="end" fill="#262626" transform="scale(1 1.055)">500</text>
<text x="105.60" y="27.93" font-size="35.5" text-anchor="end" fill="#262626" transform="scale(1 1.055)">550</text>
<text x="127.73" y="666.45" font-size="34.9" fill="#262626" transform="scale(1 1.055)">10</text>
<text x="166.15" y="686.00" font-size="29.5" fill="#262626">2</text>
<path d="M129.69 699.80H136.49V703.90H129.69zM139.61 699.80H146.13V703.90H139.61z" fill="#fff"/>
<text x="521.33" y="666.45" font-size="34.9" fill="#262626" transform="scale(1 1.055)">10</text>
<text x="559.75" y="686.00" font-size="29.5" fill="#262626">4</text>
<path d="M523.29 699.80H530.09V703.90H523.29zM533.21 699.80H539.73V703.90H533.21z" fill="#fff"/>
<text x="914.93" y="666.45" font-size="34.9" fill="#262626" transform="scale(1 1.055)">10</text>
<text x="953.35" y="686.00" font-size="29.5" fill="#262626">6</text>
<path d="M916.89 699.80H923.69V703.90H916.89zM926.81 699.80H933.33V703.90H926.81z" fill="#fff"/>
<text x="533.00" y="722.39" font-size="40.7" text-anchor="middle" fill="#262626" transform="scale(1 1.045)">File Size (Bytes)</text>
<text transform="translate(29.75 330.9) rotate(-90) scale(1 1.035)" x="0" y="0" font-size="41.0" text-anchor="middle" fill="#262626">Throughput (Mbps)</text>
</g>
<rect x="672.9" y="35.0" width="255.00" height="89.90" fill="#fff" stroke="#222" stroke-width="1.6"/>
<path d="M680.05 59.4H757" stroke="#0072bd" stroke-width="3.9"/>
<circle cx="718.7" cy="59.3" r="12.7" fill="none" stroke="#0072bd" stroke-width="3.9"/>
<path d="M680.05 100.6H757" stroke="#d95319" stroke-width="3.9" stroke-dasharray="12.6 12"/>
<g font-family="Liberation Sans, Arial, sans-serif" fill="#000" font-size="30.5" transform="scale(1 1.03)">
<text x="762.71" y="70.10">Throughput</text>
<text x="762.71" y="109.81" letter-spacing="0.2">Trendline</text>
</g>
</svg>
</body></html>
